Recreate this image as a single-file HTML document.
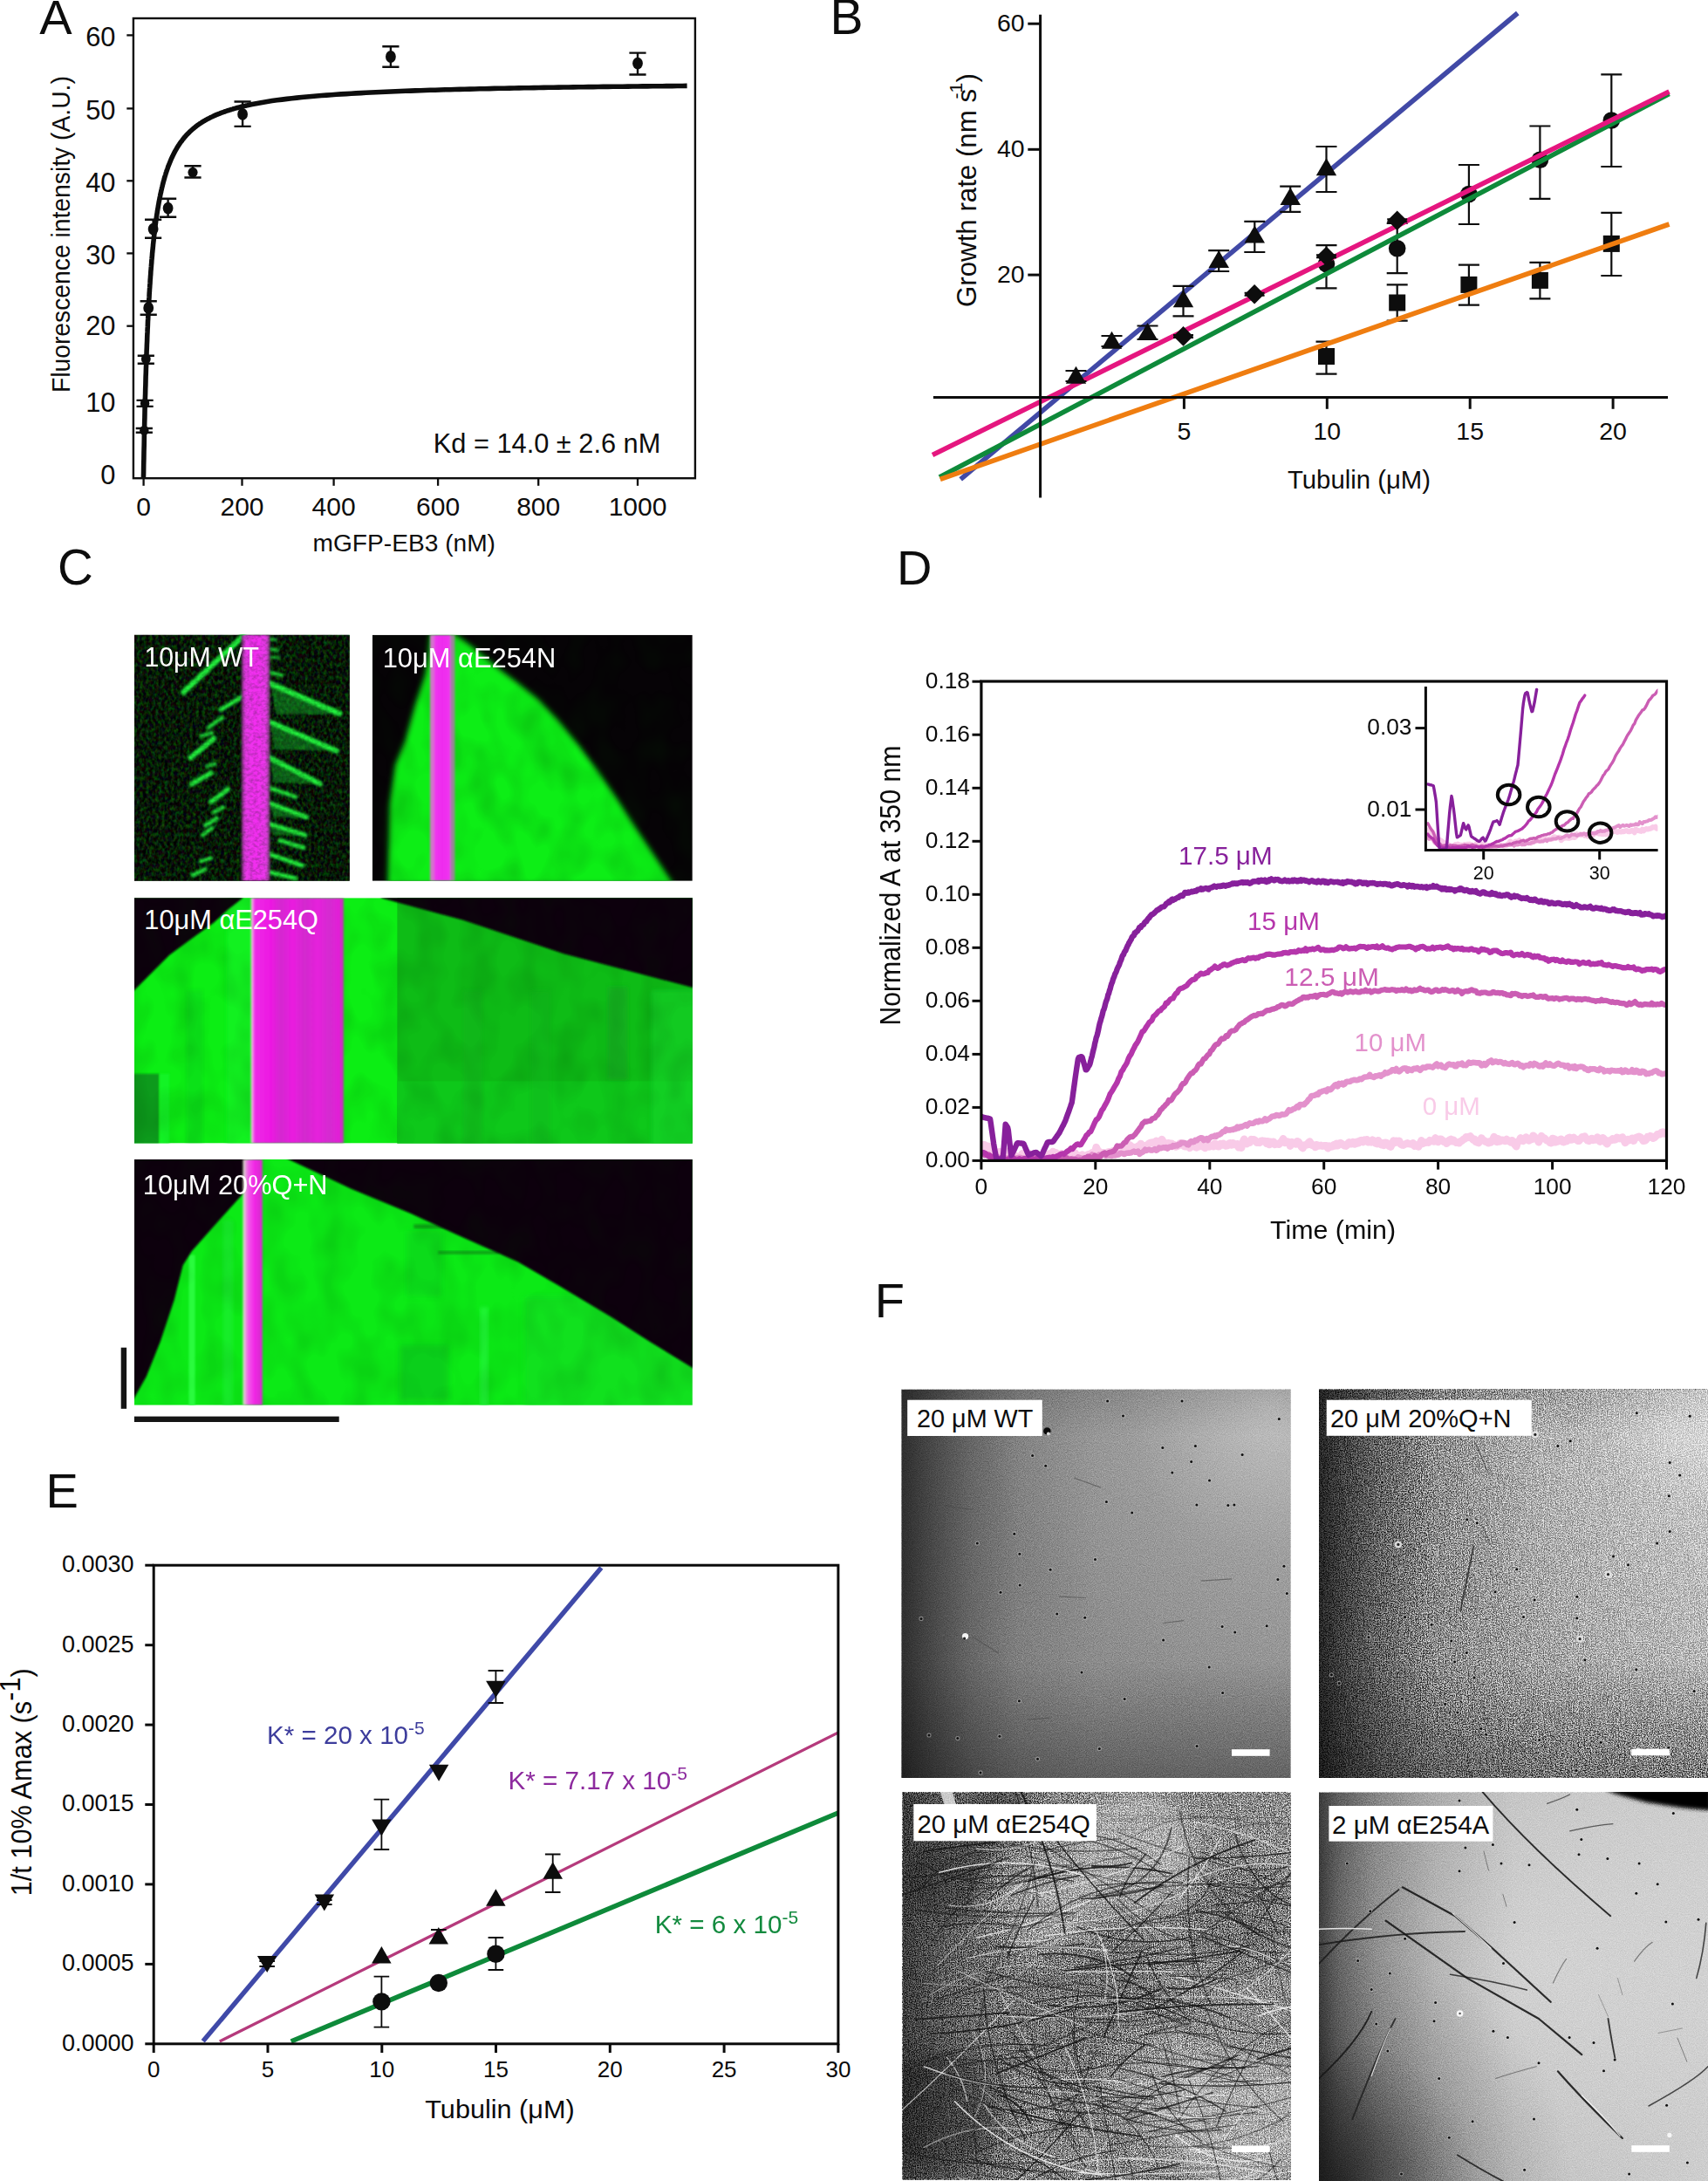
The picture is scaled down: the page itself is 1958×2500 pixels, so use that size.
<!DOCTYPE html><html><head><meta charset="utf-8"><title>Figure</title><style>html,body{margin:0;padding:0;background:#fff}svg{display:block}text{font-family:'Liberation Sans',sans-serif}</style></head><body>
<svg width="1958" height="2500" viewBox="0 0 1958 2500">
<rect width="1958" height="2500" fill="#fff"/>
<g id="pA">
<text x="45.3" y="38.8" font-size="56" fill="#0d0d0d">A</text>
<rect x="152.9" y="21" width="644" height="527.2" fill="none" stroke="#0d0d0d" stroke-width="2.4"/>
<line x1="145.3" y1="40.4" x2="152.9" y2="40.4" stroke="#0d0d0d" stroke-width="2.3"/>
<line x1="145.3" y1="124.4" x2="152.9" y2="124.4" stroke="#0d0d0d" stroke-width="2.3"/>
<line x1="145.3" y1="207.3" x2="152.9" y2="207.3" stroke="#0d0d0d" stroke-width="2.3"/>
<line x1="145.3" y1="290.4" x2="152.9" y2="290.4" stroke="#0d0d0d" stroke-width="2.3"/>
<line x1="145.3" y1="373.7" x2="152.9" y2="373.7" stroke="#0d0d0d" stroke-width="2.3"/>
<text x="132.5" y="52.7" font-size="30.8" fill="#0d0d0d" text-anchor="end">60</text>
<text x="132.5" y="136.5" font-size="30.8" fill="#0d0d0d" text-anchor="end">50</text>
<text x="132.5" y="219.5" font-size="30.8" fill="#0d0d0d" text-anchor="end">40</text>
<text x="132.5" y="302.5" font-size="30.8" fill="#0d0d0d" text-anchor="end">30</text>
<text x="132.5" y="384.3" font-size="30.8" fill="#0d0d0d" text-anchor="end">20</text>
<text x="132.5" y="472.0" font-size="30.8" fill="#0d0d0d" text-anchor="end">10</text>
<text x="132.5" y="555.2" font-size="30.8" fill="#0d0d0d" text-anchor="end">0</text>
<line x1="164.6" y1="548.0" x2="164.6" y2="556.8" stroke="#0d0d0d" stroke-width="2.3"/>
<text x="164.6" y="590.8" font-size="30" fill="#0d0d0d" text-anchor="middle">0</text>
<line x1="277.5" y1="548.0" x2="277.5" y2="556.8" stroke="#0d0d0d" stroke-width="2.3"/>
<text x="277.5" y="590.8" font-size="30" fill="#0d0d0d" text-anchor="middle">200</text>
<line x1="382.6" y1="548.0" x2="382.6" y2="556.8" stroke="#0d0d0d" stroke-width="2.3"/>
<text x="382.6" y="590.8" font-size="30" fill="#0d0d0d" text-anchor="middle">400</text>
<line x1="502.1" y1="548.0" x2="502.1" y2="556.8" stroke="#0d0d0d" stroke-width="2.3"/>
<text x="502.1" y="590.8" font-size="30" fill="#0d0d0d" text-anchor="middle">600</text>
<line x1="617.2" y1="548.0" x2="617.2" y2="556.8" stroke="#0d0d0d" stroke-width="2.3"/>
<text x="617.2" y="590.8" font-size="30" fill="#0d0d0d" text-anchor="middle">800</text>
<line x1="731.0" y1="548.0" x2="731.0" y2="556.8" stroke="#0d0d0d" stroke-width="2.3"/>
<text x="731.0" y="590.8" font-size="30" fill="#0d0d0d" text-anchor="middle">1000</text>
<text x="358.5" y="631.5" font-size="28.2" fill="#0d0d0d" textLength="209.5" lengthAdjust="spacingAndGlyphs">mGFP-EB3 (nM)</text>
<text transform="translate(79.8,450.1) rotate(-90)" font-size="30" fill="#0d0d0d" textLength="363.0" lengthAdjust="spacingAndGlyphs">Fluorescence intensity (A.U.)</text>
<text x="496.8" y="518.8" font-size="30.7" fill="#0d0d0d" textLength="260.5" lengthAdjust="spacingAndGlyphs">Kd = 14.0 ± 2.6 nM</text>
<path d="M164.4 548.8L164.6 540.6L164.7 532.8L164.9 525.2L165.0 517.8L165.2 510.7L165.3 503.9L165.4 497.2L165.6 490.8L165.7 484.6L165.9 478.6L166.0 472.7L166.1 467.0L166.3 461.5L166.4 456.2L166.6 451.0L166.7 445.9L166.9 441.0L167.0 436.2L167.1 431.6L167.3 427.1L167.4 422.7L167.6 418.4L167.7 414.2L167.8 410.1L168.0 406.2L168.1 402.3L168.3 398.5L168.4 394.8L168.6 391.2L168.7 387.7L168.8 384.3L169.0 380.9L169.1 377.6L169.3 374.4L169.4 371.3L169.5 368.2L169.7 365.2L169.8 362.3L170.0 359.4L170.1 356.6L170.3 353.9L170.4 351.2L170.5 348.6L170.7 346.0L170.8 343.4L171.0 340.9L171.1 338.5L171.2 336.1L171.4 333.8L171.5 331.5L171.7 329.2L171.8 327.0L172.0 324.9L172.1 322.7L172.2 320.6L172.4 318.6L172.5 316.6L172.7 314.6L172.8 312.6L172.9 310.7L173.1 308.8L173.2 307.0L173.4 305.2L173.5 303.4L173.7 301.6L173.8 299.9L173.9 298.2L174.1 296.5L174.2 294.9L174.4 293.3L174.5 291.7L174.6 290.1L174.8 288.6L174.9 287.1L175.1 285.6L175.2 284.1L175.4 282.6L175.5 281.2L175.6 279.8L175.8 278.4L175.9 277.0L176.1 275.7L176.2 274.4L176.3 273.1L176.5 271.8L176.6 270.5L176.8 269.3L176.9 268.0L177.0 266.8L177.2 265.6L177.3 264.4L177.5 263.3L177.6 262.1L177.8 261.0L177.9 259.8L178.0 258.7L178.2 257.6L178.3 256.6L178.5 255.5L178.6 254.5L178.7 253.4L178.9 252.4L179.0 251.4L179.2 250.4L179.3 249.4L179.5 248.4L179.6 247.5L179.7 246.5L179.9 245.6L180.0 244.7L180.2 243.7L180.3 242.8L180.4 241.9L180.6 241.1L180.7 240.2L180.9 239.3L181.0 238.5L181.2 237.6L181.3 236.8L181.4 236.0L181.6 235.2L181.7 234.4L181.9 233.6L182.0 232.8L182.1 232.0L182.3 231.2L182.4 230.5L182.6 229.7L182.7 229.0L182.9 228.2L183.0 227.5L183.1 226.8L183.3 226.1L183.4 225.4L183.6 224.7L183.7 224.0L183.8 223.3L184.0 222.6L184.1 221.9L184.3 221.3L184.4 220.6L184.6 220.0L184.7 219.3L184.8 218.7L185.0 218.1L185.1 217.4L185.3 216.8L185.4 216.2L185.5 215.6L185.7 215.0L185.8 214.4L186.0 213.8L186.1 213.2L186.3 212.7L186.4 212.1L186.5 211.5L186.7 211.0L186.8 210.4L187.0 209.9L187.1 209.3L187.2 208.8L187.4 208.2L187.5 207.7L187.7 207.2L187.8 206.7L188.0 206.2L188.1 205.6L188.2 205.1L188.4 204.6L188.5 204.1L188.7 203.6L188.8 203.2L188.9 202.7L189.1 202.2L189.2 201.7L189.4 201.2L189.5 200.8L189.7 200.3L189.8 199.9L189.9 199.4L190.1 199.0L190.2 198.5L190.4 198.1L190.5 197.6L190.6 197.2L190.8 196.7L190.9 196.3L191.1 195.9L191.2 195.5L191.4 195.1L191.5 194.6L191.6 194.2L191.8 193.8L191.9 193.4L192.1 193.0L192.2 192.6L192.3 192.2L192.5 191.8L192.6 191.4L192.9 190.6L194.1 187.7L195.2 184.9L196.3 182.2L197.5 179.8L198.6 177.4L199.7 175.2L200.8 173.1L202.0 171.1L203.1 169.2L204.2 167.3L205.4 165.6L206.5 163.9L207.6 162.4L208.8 160.9L209.9 159.4L211.0 158.0L212.2 156.7L213.3 155.4L214.4 154.2L215.6 153.0L216.7 151.9L217.8 150.8L219.0 149.7L220.1 148.7L221.2 147.7L222.4 146.8L223.5 145.9L224.6 145.0L225.8 144.1L226.9 143.3L228.0 142.5L229.2 141.7L230.3 141.0L231.4 140.2L232.6 139.5L233.7 138.8L234.8 138.2L236.0 137.5L237.1 136.9L238.2 136.3L239.4 135.7L240.5 135.1L241.6 134.5L242.8 134.0L243.9 133.5L245.0 132.9L246.2 132.4L247.3 131.9L248.4 131.4L249.6 131.0L250.7 130.5L251.8 130.1L253.0 129.6L254.1 129.2L255.2 128.8L256.4 128.4L257.5 128.0L258.6 127.6L259.8 127.2L260.9 126.8L262.0 126.5L263.2 126.1L264.3 125.8L265.4 125.4L266.6 125.1L267.7 124.7L268.8 124.4L270.0 124.1L271.1 123.8L272.2 123.5L273.3 123.2L274.5 122.9L275.6 122.6L276.7 122.3L277.9 122.1L279.0 121.8L280.1 121.5L281.3 121.3L282.4 121.0L283.5 120.8L289.2 119.6L294.9 118.5L300.5 117.4L306.2 116.5L311.9 115.6L317.5 114.8L323.2 114.1L328.9 113.4L334.5 112.7L340.2 112.1L345.8 111.5L351.5 111.0L357.2 110.5L362.8 110.0L368.5 109.5L374.2 109.1L379.8 108.7L385.5 108.3L391.2 107.9L396.8 107.6L402.5 107.2L408.2 106.9L413.8 106.6L419.5 106.3L425.1 106.0L430.8 105.7L436.5 105.5L442.1 105.2L447.8 105.0L453.5 104.7L459.1 104.5L464.8 104.3L470.5 104.1L476.1 103.9L481.8 103.7L487.4 103.5L493.1 103.3L498.8 103.2L504.4 103.0L510.1 102.8L515.8 102.7L521.4 102.5L527.1 102.4L532.8 102.2L538.4 102.1L544.1 102.0L549.8 101.8L555.4 101.7L561.1 101.6L566.7 101.4L572.4 101.3L578.1 101.2L583.7 101.1L589.4 101.0L595.1 100.9L600.7 100.8L606.4 100.7L612.1 100.6L617.7 100.5L623.4 100.4L629.0 100.3L634.7 100.2L640.4 100.1L646.0 100.0L651.7 100.0L657.4 99.9L663.0 99.8L668.7 99.7L674.4 99.6L680.0 99.6L685.7 99.5L691.4 99.4L697.0 99.4L702.7 99.3L708.3 99.2L714.0 99.2L719.7 99.1L725.3 99.0L731.0 99.0L736.7 98.9L742.3 98.9L748.0 98.8L753.7 98.7L759.3 98.7L765.0 98.6L770.6 98.6L776.3 98.5L782.0 98.5L787.6 98.4" stroke="#0d0d0d" stroke-width="5.6" fill="none" stroke-linejoin="round" stroke-linecap="butt"/>
<path d="M165.3 491.0V495.7M155.7 491.0H174.9M155.7 495.7H174.9" stroke="#0d0d0d" stroke-width="2.4" fill="none"/>
<ellipse cx="165.3" cy="493.4" rx="5.2" ry="5.6" fill="#0d0d0d"/>
<path d="M166.1 458.9V465.9M156.5 458.9H175.7M156.5 465.9H175.7" stroke="#0d0d0d" stroke-width="2.4" fill="none"/>
<ellipse cx="166.1" cy="462.4" rx="5.2" ry="5.6" fill="#0d0d0d"/>
<path d="M167.3 407.7V416.7M157.7 407.7H176.9M157.7 416.7H176.9" stroke="#0d0d0d" stroke-width="2.4" fill="none"/>
<ellipse cx="167.3" cy="411.4" rx="5.4" ry="5.8" fill="#0d0d0d"/>
<path d="M170.2 345.3V360.8M160.6 345.3H179.8M160.6 360.8H179.8" stroke="#0d0d0d" stroke-width="2.4" fill="none"/>
<ellipse cx="170.2" cy="352.9" rx="5.9" ry="6.9" fill="#0d0d0d"/>
<path d="M175.6 251.8V272.8M166.0 251.8H185.2M166.0 272.8H185.2" stroke="#0d0d0d" stroke-width="2.4" fill="none"/>
<ellipse cx="175.6" cy="262.6" rx="5.9" ry="6.9" fill="#0d0d0d"/>
<path d="M192.6 227.8V248.8M183.0 227.8H202.2M183.0 248.8H202.2" stroke="#0d0d0d" stroke-width="2.4" fill="none"/>
<ellipse cx="192.6" cy="238.6" rx="5.9" ry="6.9" fill="#0d0d0d"/>
<path d="M221.0 190.3V203.5M211.4 190.3H230.6M211.4 203.5H230.6" stroke="#0d0d0d" stroke-width="2.4" fill="none"/>
<ellipse cx="221.0" cy="197.6" rx="5.6" ry="5.9" fill="#0d0d0d"/>
<path d="M278.1 116.5V144.9M268.5 116.5H287.7M268.5 144.9H287.7" stroke="#0d0d0d" stroke-width="2.4" fill="none"/>
<ellipse cx="278.1" cy="130.9" rx="5.9" ry="6.9" fill="#0d0d0d"/>
<path d="M447.9 53.3V76.7M438.3 53.3H457.5M438.3 76.7H457.5" stroke="#0d0d0d" stroke-width="2.4" fill="none"/>
<ellipse cx="447.9" cy="65.0" rx="5.9" ry="6.9" fill="#0d0d0d"/>
<path d="M731.0 60.6V85.5M721.4 60.6H740.6M721.4 85.5H740.6" stroke="#0d0d0d" stroke-width="2.4" fill="none"/>
<ellipse cx="731.0" cy="72.6" rx="5.9" ry="6.9" fill="#0d0d0d"/>
</g>
<g id="pB">
<text x="951.5" y="38.6" font-size="57" fill="#0d0d0d">B</text>
<line x1="1101.2" y1="549.3" x2="1739.8" y2="15.0" stroke="#4149a6" stroke-width="5.6"/>
<path d="M1520.5 281.2V330.3M1508.5 281.2H1532.5M1508.5 330.3H1532.5" stroke="#0d0d0d" stroke-width="2.2" fill="none"/>
<circle cx="1520.5" cy="302.6" r="9.8" fill="#0d0d0d"/>
<path d="M1601.7 256.0V313.2M1589.7 256.0H1613.7M1589.7 313.2H1613.7" stroke="#0d0d0d" stroke-width="2.2" fill="none"/>
<circle cx="1601.7" cy="284.8" r="9.8" fill="#0d0d0d"/>
<path d="M1683.9 189.0V257.0M1671.9 189.0H1695.9M1671.9 257.0H1695.9" stroke="#0d0d0d" stroke-width="2.2" fill="none"/>
<circle cx="1683.9" cy="222.5" r="9.8" fill="#0d0d0d"/>
<path d="M1765.4 144.5V227.8M1753.4 144.5H1777.4M1753.4 227.8H1777.4" stroke="#0d0d0d" stroke-width="2.2" fill="none"/>
<circle cx="1765.4" cy="183.3" r="9.8" fill="#0d0d0d"/>
<path d="M1847.3 85.4V191.0M1835.3 85.4H1859.3M1835.3 191.0H1859.3" stroke="#0d0d0d" stroke-width="2.2" fill="none"/>
<circle cx="1847.3" cy="138.0" r="9.8" fill="#0d0d0d"/>
<line x1="1077.0" y1="547.0" x2="1913.5" y2="107.5" stroke="#0e8a3a" stroke-width="5.6"/>
<path d="M1520.5 391.6V428.7M1508.5 391.6H1532.5M1508.5 428.7H1532.5" stroke="#0d0d0d" stroke-width="2.2" fill="none"/>
<rect x="1511.0" y="399.0" width="19" height="19" fill="#0d0d0d"/>
<path d="M1601.7 326.4V367.7M1589.7 326.4H1613.7M1589.7 367.7H1613.7" stroke="#0d0d0d" stroke-width="2.2" fill="none"/>
<rect x="1592.2" y="337.5" width="19" height="19" fill="#0d0d0d"/>
<path d="M1683.9 303.6V349.6M1671.9 303.6H1695.9M1671.9 349.6H1695.9" stroke="#0d0d0d" stroke-width="2.2" fill="none"/>
<rect x="1674.4" y="316.9" width="19" height="19" fill="#0d0d0d"/>
<path d="M1765.4 300.8V342.4M1753.4 300.8H1777.4M1753.4 342.4H1777.4" stroke="#0d0d0d" stroke-width="2.2" fill="none"/>
<rect x="1755.9" y="311.9" width="19" height="19" fill="#0d0d0d"/>
<path d="M1847.3 243.8V316.0M1835.3 243.8H1859.3M1835.3 316.0H1859.3" stroke="#0d0d0d" stroke-width="2.2" fill="none"/>
<rect x="1837.8" y="269.9" width="19" height="19" fill="#0d0d0d"/>
<line x1="1077.8" y1="549.3" x2="1913.5" y2="257.0" stroke="#ef7d10" stroke-width="5.6"/>
<line x1="1069.0" y1="521.5" x2="1913.5" y2="105.0" stroke="#e5167f" stroke-width="5.6"/>
<line x1="1192.6" y1="16.7" x2="1192.6" y2="570.4" stroke="#0d0d0d" stroke-width="3"/>
<line x1="1069.9" y1="455.6" x2="1912.0" y2="455.6" stroke="#0d0d0d" stroke-width="3"/>
<line x1="1178.3" y1="27.2" x2="1192.6" y2="27.2" stroke="#0d0d0d" stroke-width="3"/>
<text x="1174.5" y="35.8" font-size="28.4" fill="#0d0d0d" text-anchor="end">60</text>
<line x1="1178.3" y1="171.3" x2="1192.6" y2="171.3" stroke="#0d0d0d" stroke-width="3"/>
<text x="1174.5" y="179.9" font-size="28.4" fill="#0d0d0d" text-anchor="end">40</text>
<line x1="1178.3" y1="315.1" x2="1192.6" y2="315.1" stroke="#0d0d0d" stroke-width="3"/>
<text x="1174.5" y="323.7" font-size="28.4" fill="#0d0d0d" text-anchor="end">20</text>
<line x1="1357.4" y1="455.6" x2="1357.4" y2="468.8" stroke="#0d0d0d" stroke-width="3"/>
<text x="1357.4" y="504.0" font-size="28.5" fill="#0d0d0d" text-anchor="middle">5</text>
<line x1="1521.3" y1="455.6" x2="1521.3" y2="468.8" stroke="#0d0d0d" stroke-width="3"/>
<text x="1521.3" y="504.0" font-size="28.5" fill="#0d0d0d" text-anchor="middle">10</text>
<line x1="1685.2" y1="455.6" x2="1685.2" y2="468.8" stroke="#0d0d0d" stroke-width="3"/>
<text x="1685.2" y="504.0" font-size="28.5" fill="#0d0d0d" text-anchor="middle">15</text>
<line x1="1849.1" y1="455.6" x2="1849.1" y2="468.8" stroke="#0d0d0d" stroke-width="3"/>
<text x="1849.1" y="504.0" font-size="28.5" fill="#0d0d0d" text-anchor="middle">20</text>
<text x="1476.0" y="559.6" font-size="29.3" fill="#0d0d0d">Tubulin (μM)</text>
<text transform="translate(1119.1,352.0) rotate(-90)" font-size="31.3" fill="#0d0d0d" textLength="250.0" lengthAdjust="spacingAndGlyphs">Growth rate (nm s</text>
<text transform="translate(1119.1,94.6) rotate(-90)" font-size="31.3" fill="#0d0d0d">)</text>
<text transform="translate(1102.7,113.6) rotate(-90)" font-size="21" fill="#0d0d0d">-1</text>
<path d="M1233.5 425.0V437.0M1221.5 425.0H1245.5M1221.5 437.0H1245.5" stroke="#0d0d0d" stroke-width="2.2" fill="none"/>
<path d="M1233.5 419.8L1245.2 439.8H1221.8Z" fill="#0d0d0d"/>
<path d="M1274.5 385.0V397.0M1262.5 385.0H1286.5M1262.5 397.0H1286.5" stroke="#0d0d0d" stroke-width="2.2" fill="none"/>
<path d="M1274.5 379.7L1286.2 399.7H1262.8Z" fill="#0d0d0d"/>
<path d="M1315.5 373.5V389.0M1303.5 373.5H1327.5M1303.5 389.0H1327.5" stroke="#0d0d0d" stroke-width="2.2" fill="none"/>
<path d="M1315.5 370.0L1327.2 390.0H1303.8Z" fill="#0d0d0d"/>
<path d="M1356.5 327.9V362.3M1344.5 327.9H1368.5M1344.5 362.3H1368.5" stroke="#0d0d0d" stroke-width="2.2" fill="none"/>
<path d="M1356.5 332.3L1368.2 352.3H1344.8Z" fill="#0d0d0d"/>
<path d="M1397.2 287.2V311.0M1385.2 287.2H1409.2M1385.2 311.0H1409.2" stroke="#0d0d0d" stroke-width="2.2" fill="none"/>
<path d="M1397.2 287.0L1409.0 307.0H1385.5Z" fill="#0d0d0d"/>
<path d="M1438.3 253.8V289.0M1426.3 253.8H1450.3M1426.3 289.0H1450.3" stroke="#0d0d0d" stroke-width="2.2" fill="none"/>
<path d="M1438.3 258.5L1450.0 278.5H1426.5Z" fill="#0d0d0d"/>
<path d="M1479.2 213.6V242.8M1467.2 213.6H1491.2M1467.2 242.8H1491.2" stroke="#0d0d0d" stroke-width="2.2" fill="none"/>
<path d="M1479.2 215.0L1491.0 235.0H1467.5Z" fill="#0d0d0d"/>
<path d="M1520.5 168.0V220.0M1508.5 168.0H1532.5M1508.5 220.0H1532.5" stroke="#0d0d0d" stroke-width="2.2" fill="none"/>
<path d="M1520.5 181.2L1532.2 201.2H1508.8Z" fill="#0d0d0d"/>
<path d="M1356.5 383.9V386.9M1345.0 383.9H1368.0M1345.0 386.9H1368.0" stroke="#0d0d0d" stroke-width="2" fill="none"/>
<path d="M1356.5 374.1L1367.8 385.4L1356.5 396.7L1345.2 385.4Z" fill="#0d0d0d"/>
<path d="M1438.1 335.7V338.7M1426.6 335.7H1449.6M1426.6 338.7H1449.6" stroke="#0d0d0d" stroke-width="2" fill="none"/>
<path d="M1438.1 325.9L1449.4 337.2L1438.1 348.5L1426.8 337.2Z" fill="#0d0d0d"/>
<path d="M1520.5 292.2V295.2M1509.0 292.2H1532.0M1509.0 295.2H1532.0" stroke="#0d0d0d" stroke-width="2" fill="none"/>
<path d="M1520.5 282.4L1531.8 293.7L1520.5 305.0L1509.2 293.7Z" fill="#0d0d0d"/>
<path d="M1601.7 251.2V254.2M1590.2 251.2H1613.2M1590.2 254.2H1613.2" stroke="#0d0d0d" stroke-width="2" fill="none"/>
<path d="M1601.7 241.4L1613.0 252.7L1601.7 264.0L1590.4 252.7Z" fill="#0d0d0d"/>
</g>
<g id="pC">
<defs>
<filter id="k1bg" x="0" y="0" width="100%" height="100%" color-interpolation-filters="sRGB"><feTurbulence type="fractalNoise" baseFrequency="0.28 0.2" numOctaves="2" seed="7"/><feColorMatrix type="matrix" values="0.25 0 0 0 -0.09  0 0.75 0 0 -0.27  0 0 0.25 0 -0.09  0 0 0 0 1"/></filter>
<filter id="kspk" x="0" y="0" width="100%" height="100%" color-interpolation-filters="sRGB"><feTurbulence type="fractalNoise" baseFrequency="0.22 0.3" numOctaves="2" seed="11"/><feColorMatrix type="matrix" values="0 0 0 0 0  0 0 0 0 0.15  0 0 0 0 0  0 1.6 0 0 -0.62"/></filter>
<filter id="kmot" x="0" y="0" width="100%" height="100%" color-interpolation-filters="sRGB"><feTurbulence type="fractalNoise" baseFrequency="0.03 0.02" numOctaves="2" seed="5"/><feColorMatrix type="matrix" values="0 0 0 0 0  0 0 0 0 0.2  0 0 0 0 0  0 1.8 0 0 -0.72"/></filter>
<filter id="b1"><feGaussianBlur stdDeviation="1.1"/></filter>
<filter id="b2"><feGaussianBlur stdDeviation="2"/></filter>
<filter id="b3"><feGaussianBlur stdDeviation="3"/></filter>
<clipPath id="ck1"><rect x="154" y="727.8" width="246.8" height="282"/></clipPath>
<clipPath id="ck2"><rect x="426.9" y="727.8" width="366.9" height="282"/></clipPath>
<clipPath id="ck3"><rect x="154" y="1029.2" width="639.8" height="281.4"/></clipPath>
<clipPath id="ck4"><rect x="154" y="1329" width="639.8" height="281.7"/></clipPath>
<linearGradient id="mg1" x1="0" x2="1" y1="0" y2="0"><stop offset="0" stop-color="#5a2a5a"/><stop offset="0.14" stop-color="#e83ae8"/><stop offset="0.5" stop-color="#f22cf0"/><stop offset="0.86" stop-color="#e83ae8"/><stop offset="1" stop-color="#6a3a6a"/></linearGradient>
<linearGradient id="mg2" x1="0" x2="1" y1="0" y2="0"><stop offset="0" stop-color="#d078c8"/><stop offset="0.15" stop-color="#d470cc"/><stop offset="0.2" stop-color="#f032f0"/><stop offset="0.5" stop-color="#ee2cee"/><stop offset="0.8" stop-color="#f032f0"/><stop offset="0.84" stop-color="#9c849a"/><stop offset="1" stop-color="#988498"/></linearGradient>
<linearGradient id="mg3" x1="0" x2="1" y1="0" y2="0"><stop offset="0" stop-color="#f0e0dc"/><stop offset="0.04" stop-color="#ee2ae6"/><stop offset="0.22" stop-color="#ec18e2"/><stop offset="0.32" stop-color="#d428d0"/><stop offset="0.45" stop-color="#ea1ce0"/><stop offset="0.58" stop-color="#d22ace"/><stop offset="0.72" stop-color="#e620dc"/><stop offset="0.85" stop-color="#d42cd0"/><stop offset="0.95" stop-color="#e41ed8"/><stop offset="1" stop-color="#b040a8"/></linearGradient>
<linearGradient id="mg4" x1="0" x2="1" y1="0" y2="0"><stop offset="0" stop-color="#d8e8c8"/><stop offset="0.25" stop-color="#f060e8"/><stop offset="0.6" stop-color="#f226e6"/><stop offset="1" stop-color="#d030c8"/></linearGradient>
</defs>
<text x="66.0" y="670.4" font-size="56.5" fill="#0d0d0d">C</text>
<g clip-path="url(#ck1)">
<rect x="154" y="727.8" width="246.8" height="282" fill="#071307"/>
<rect x="154" y="727.8" width="246.8" height="282" filter="url(#k1bg)" opacity="0.9"/>
<g filter="url(#b1)">
<path d="M310.0 783.2L389.0 818.8L316.3 818.8 Z" fill="#16a028" opacity="0.55"/>
<path d="M310.0 829.1L381.1 860.7L314.7 859.1 Z" fill="#16a028" opacity="0.55"/>
<path d="M310.0 870.2L362.1 898.6L313.1 897.0 Z" fill="#16a028" opacity="0.55"/>
<path d="M310.0 922.3L347.9 937.4L313.1 936.6 Z" fill="#16a028" opacity="0.55"/>
<path d="M310.0 946.1L346.3 957.9L313.1 957.1 Z" fill="#16a028" opacity="0.55"/>
<line x1="210.4" y1="793.5" x2="278.4" y2="729.5" stroke="#18a82c" stroke-width="8.6" stroke-linecap="round" opacity="0.45"/>
<line x1="210.4" y1="793.5" x2="278.4" y2="729.5" stroke="#22f03e" stroke-width="5.2" stroke-linecap="round" opacity="1"/>
<line x1="253.1" y1="813.3" x2="278.4" y2="798.2" stroke="#18a82c" stroke-width="7.6" stroke-linecap="round" opacity="0.43"/>
<line x1="253.1" y1="813.3" x2="278.4" y2="798.2" stroke="#22f03e" stroke-width="4.2" stroke-linecap="round" opacity="0.95"/>
<line x1="238.8" y1="833.8" x2="254.7" y2="822.8" stroke="#18a82c" stroke-width="7.0" stroke-linecap="round" opacity="0.36"/>
<line x1="238.8" y1="833.8" x2="254.7" y2="822.8" stroke="#22f03e" stroke-width="3.6" stroke-linecap="round" opacity="0.8"/>
<line x1="218.3" y1="868.6" x2="245.2" y2="846.5" stroke="#18a82c" stroke-width="8.4" stroke-linecap="round" opacity="0.45"/>
<line x1="218.3" y1="868.6" x2="245.2" y2="846.5" stroke="#22f03e" stroke-width="5" stroke-linecap="round" opacity="1"/>
<line x1="230.9" y1="843.6" x2="242.8" y2="840.1" stroke="#18a82c" stroke-width="6.8" stroke-linecap="round" opacity="0.36"/>
<line x1="230.9" y1="843.6" x2="242.8" y2="840.1" stroke="#22f03e" stroke-width="3.4" stroke-linecap="round" opacity="0.8"/>
<line x1="219.9" y1="898.6" x2="242.0" y2="886.0" stroke="#18a82c" stroke-width="8.2" stroke-linecap="round" opacity="0.43"/>
<line x1="219.9" y1="898.6" x2="242.0" y2="886.0" stroke="#22f03e" stroke-width="4.8" stroke-linecap="round" opacity="0.95"/>
<line x1="237.3" y1="878.1" x2="246.0" y2="875.7" stroke="#18a82c" stroke-width="6.6" stroke-linecap="round" opacity="0.36"/>
<line x1="237.3" y1="878.1" x2="246.0" y2="875.7" stroke="#22f03e" stroke-width="3.2" stroke-linecap="round" opacity="0.8"/>
<line x1="242.0" y1="919.2" x2="261.0" y2="905.0" stroke="#18a82c" stroke-width="8.0" stroke-linecap="round" opacity="0.43"/>
<line x1="242.0" y1="919.2" x2="261.0" y2="905.0" stroke="#22f03e" stroke-width="4.6" stroke-linecap="round" opacity="0.95"/>
<line x1="245.2" y1="931.0" x2="255.4" y2="925.5" stroke="#18a82c" stroke-width="7.0" stroke-linecap="round" opacity="0.38"/>
<line x1="245.2" y1="931.0" x2="255.4" y2="925.5" stroke="#22f03e" stroke-width="3.6" stroke-linecap="round" opacity="0.85"/>
<line x1="235.7" y1="946.1" x2="248.3" y2="938.1" stroke="#18a82c" stroke-width="7.4" stroke-linecap="round" opacity="0.41"/>
<line x1="235.7" y1="946.1" x2="248.3" y2="938.1" stroke="#22f03e" stroke-width="4" stroke-linecap="round" opacity="0.9"/>
<line x1="232.5" y1="957.1" x2="242.8" y2="949.2" stroke="#18a82c" stroke-width="7.0" stroke-linecap="round" opacity="0.38"/>
<line x1="232.5" y1="957.1" x2="242.8" y2="949.2" stroke="#22f03e" stroke-width="3.6" stroke-linecap="round" opacity="0.85"/>
<line x1="230.2" y1="987.2" x2="242.0" y2="983.7" stroke="#18a82c" stroke-width="6.8" stroke-linecap="round" opacity="0.38"/>
<line x1="230.2" y1="987.2" x2="242.0" y2="983.7" stroke="#22f03e" stroke-width="3.4" stroke-linecap="round" opacity="0.85"/>
<line x1="221.5" y1="1003.0" x2="234.9" y2="996.6" stroke="#18a82c" stroke-width="7.2" stroke-linecap="round" opacity="0.41"/>
<line x1="221.5" y1="1003.0" x2="234.9" y2="996.6" stroke="#22f03e" stroke-width="3.8" stroke-linecap="round" opacity="0.9"/>
<line x1="309.2" y1="783.2" x2="389.0" y2="818.0" stroke="#18a82c" stroke-width="8.6" stroke-linecap="round" opacity="0.45"/>
<line x1="309.2" y1="783.2" x2="389.0" y2="818.0" stroke="#22f03e" stroke-width="5.2" stroke-linecap="round" opacity="1"/>
<line x1="309.2" y1="827.5" x2="385.9" y2="860.7" stroke="#18a82c" stroke-width="8.4" stroke-linecap="round" opacity="0.45"/>
<line x1="309.2" y1="827.5" x2="385.9" y2="860.7" stroke="#22f03e" stroke-width="5" stroke-linecap="round" opacity="1"/>
<line x1="309.2" y1="868.6" x2="366.9" y2="898.6" stroke="#18a82c" stroke-width="8.4" stroke-linecap="round" opacity="0.45"/>
<line x1="309.2" y1="868.6" x2="366.9" y2="898.6" stroke="#22f03e" stroke-width="5" stroke-linecap="round" opacity="1"/>
<line x1="309.2" y1="903.4" x2="338.4" y2="913.2" stroke="#18a82c" stroke-width="7.4" stroke-linecap="round" opacity="0.41"/>
<line x1="309.2" y1="903.4" x2="338.4" y2="913.2" stroke="#22f03e" stroke-width="4" stroke-linecap="round" opacity="0.9"/>
<line x1="309.2" y1="920.8" x2="351.1" y2="936.6" stroke="#18a82c" stroke-width="8.0" stroke-linecap="round" opacity="0.43"/>
<line x1="309.2" y1="920.8" x2="351.1" y2="936.6" stroke="#22f03e" stroke-width="4.6" stroke-linecap="round" opacity="0.95"/>
<line x1="309.2" y1="944.5" x2="349.5" y2="957.1" stroke="#18a82c" stroke-width="7.8" stroke-linecap="round" opacity="0.43"/>
<line x1="309.2" y1="944.5" x2="349.5" y2="957.1" stroke="#22f03e" stroke-width="4.4" stroke-linecap="round" opacity="0.95"/>
<line x1="321.0" y1="963.4" x2="347.9" y2="971.7" stroke="#18a82c" stroke-width="7.6" stroke-linecap="round" opacity="0.41"/>
<line x1="321.0" y1="963.4" x2="347.9" y2="971.7" stroke="#22f03e" stroke-width="4.2" stroke-linecap="round" opacity="0.9"/>
<line x1="309.2" y1="979.2" x2="346.3" y2="992.2" stroke="#18a82c" stroke-width="7.6" stroke-linecap="round" opacity="0.43"/>
<line x1="309.2" y1="979.2" x2="346.3" y2="992.2" stroke="#22f03e" stroke-width="4.2" stroke-linecap="round" opacity="0.95"/>
<line x1="309.2" y1="999.8" x2="338.4" y2="1006.9" stroke="#18a82c" stroke-width="7.6" stroke-linecap="round" opacity="0.43"/>
<line x1="309.2" y1="999.8" x2="338.4" y2="1006.9" stroke="#22f03e" stroke-width="4.2" stroke-linecap="round" opacity="0.95"/>
<line x1="309.2" y1="743.7" x2="317.9" y2="745.3" stroke="#18a82c" stroke-width="6.4" stroke-linecap="round" opacity="0.32"/>
<line x1="309.2" y1="743.7" x2="317.9" y2="745.3" stroke="#22f03e" stroke-width="3" stroke-linecap="round" opacity="0.7"/>
<line x1="309.2" y1="753.2" x2="319.5" y2="754.0" stroke="#18a82c" stroke-width="6.0" stroke-linecap="round" opacity="0.27"/>
<line x1="309.2" y1="753.2" x2="319.5" y2="754.0" stroke="#22f03e" stroke-width="2.6" stroke-linecap="round" opacity="0.6"/>
<line x1="309.2" y1="770.6" x2="322.6" y2="774.1" stroke="#18a82c" stroke-width="6.8" stroke-linecap="round" opacity="0.36"/>
<line x1="309.2" y1="770.6" x2="322.6" y2="774.1" stroke="#22f03e" stroke-width="3.4" stroke-linecap="round" opacity="0.8"/>
<line x1="309.2" y1="732.6" x2="316.3" y2="733.4" stroke="#18a82c" stroke-width="6.0" stroke-linecap="round" opacity="0.27"/>
<line x1="309.2" y1="732.6" x2="316.3" y2="733.4" stroke="#22f03e" stroke-width="2.6" stroke-linecap="round" opacity="0.6"/>
</g>
<rect x="276.6" y="727.8" width="33" height="282" fill="url(#mg1)" filter="url(#b1)"/>
<rect x="154" y="727.8" width="246.8" height="282" filter="url(#kspk)" opacity="0.35"/>
</g>
<text x="165.4" y="764.0" font-size="31" fill="#fff" textLength="131.7" lengthAdjust="spacingAndGlyphs">10μM WT</text>
<g clip-path="url(#ck2)">
<rect x="426.9" y="727.8" width="366.9" height="282" fill="#060306"/>
<path d="M493.5 726.1L491.2 751.3L487.3 774.1L475.9 808.3L464.5 849.4L453.1 876.8L446.7 922.5L444.4 1013.8L772.1 1013.8L753.8 986.4L731.0 952.2L708.1 916.8L685.3 883.7L662.5 852.9L639.6 825.5L616.8 801.5L594.0 783.2L571.1 766.1L539.2 739.8L519.8 726.1 Z" fill="#0cee12" filter="url(#b3)"/>
<rect x="426.9" y="727.8" width="366.9" height="282" filter="url(#kmot)" opacity="0.22"/>
<rect x="493" y="727.8" width="28.4" height="282" fill="url(#mg2)" filter="url(#b1)"/>
</g>
<text x="438.7" y="765.0" font-size="31" fill="#fff" textLength="198.6" lengthAdjust="spacingAndGlyphs">10μM αE254N</text>
<g clip-path="url(#ck3)">
<rect x="154" y="1029.2" width="639.8" height="281.4" fill="#0cee14"/>
<rect x="455.4" y="1019.0" width="345.5" height="309.1" fill="#0ebc16" opacity="1"/>
<rect x="455.4" y="1239.3" width="345.5" height="88.9" fill="#0ec81a" opacity="1"/>
<rect x="696.6" y="1131.1" width="23.2" height="106.3" fill="#12a822" opacity="0.7" filter="url(#b2)"/>
<rect x="530.4" y="1134.9" width="23.2" height="193.2" fill="#12b024" opacity="0.35" filter="url(#b2)"/>
<rect x="607.7" y="1134.9" width="23.2" height="193.2" fill="#12b024" opacity="0.3" filter="url(#b2)"/>
<rect x="746.8" y="1134.9" width="54.1" height="193.2" fill="#16d42a" opacity="0.6" filter="url(#b2)"/>
<rect x="144.0" y="1230.8" width="38.6" height="97.4" fill="#109a1c" opacity="1" filter="url(#b1)"/>
<rect x="182.6" y="1230.8" width="11.6" height="97.4" fill="#18f42a" opacity="0.8" filter="url(#b1)"/>
<rect x="259.9" y="1019.0" width="30.1" height="309.1" fill="#18f228" opacity="0.7" filter="url(#b2)"/>
<rect x="213.6" y="1134.9" width="19.3" height="193.2" fill="#10c820" opacity="0.35" filter="url(#b2)"/>
<path d="M144.0 1019.0L280.0 1019.0L278.1 1029.4L260.7 1043.0L245.2 1057.6L218.2 1077.0L194.2 1094.7L154.0 1134.9L144.0 1143.4 Z" fill="#08040a" filter="url(#b1)"/>
<path d="M429.9 1019.0L437.7 1029.4L530.4 1054.6L646.3 1093.2L793.2 1131.8L808.6 1134.9L808.6 1019.0 Z" fill="#08040a" filter="url(#b1)"/>
<rect x="154" y="1029.2" width="639.8" height="281.4" filter="url(#kmot)" opacity="0.18"/>
<rect x="287.7" y="1029.2" width="106.3" height="281.4" fill="url(#mg3)" filter="url(#b1)"/>
</g>
<text x="165.3" y="1065.4" font-size="31" fill="#fff" textLength="199.7" lengthAdjust="spacingAndGlyphs">10μM αE254Q</text>
<g clip-path="url(#ck4)">
<rect x="154" y="1329" width="639.8" height="281.7" fill="#0cea16"/>
<rect x="216.4" y="1438.4" width="7.2" height="183.1" fill="#30ff48" opacity="0.8" filter="url(#b1)"/>
<rect x="550.0" y="1498.2" width="10.0" height="123.4" fill="#2cf844" opacity="0.6" filter="url(#b2)"/>
<rect x="255.4" y="1398.6" width="11.9" height="222.9" fill="#24f03c" opacity="0.5" filter="url(#b2)"/>
<rect x="458.4" y="1541.9" width="55.7" height="63.7" fill="#10b020" opacity="0.45" filter="url(#b3)"/>
<rect x="466.4" y="1410.6" width="39.8" height="75.6" fill="#10c020" opacity="0.35" filter="url(#b3)"/>
<rect x="601.7" y="1486.2" width="199.1" height="135.4" fill="#14d828" opacity="0.5" filter="url(#b3)"/>
<rect x="474.3" y="1403.4" width="51.8" height="4.8" fill="#0c8018" opacity="0.6" filter="url(#b1)"/>
<rect x="502.2" y="1433.7" width="69.7" height="4.0" fill="#0c8018" opacity="0.6" filter="url(#b1)"/>
<path d="M139.9 1319.0L281.7 1319.0L281.3 1329.0L280.1 1366.8L251.4 1398.6L219.5 1434.5L209.6 1450.4L199.6 1490.2L183.7 1538.0L167.8 1577.8L153.9 1602.5L139.9 1621.6 Z" fill="#08030a" filter="url(#b1)"/>
<path d="M315.1 1319.0L331.0 1329.0L402.7 1362.8L470.4 1390.7L522.1 1414.5L593.8 1446.4L641.6 1474.3L701.3 1510.1L745.1 1538.0L793.6 1567.8L808.8 1577.8L808.8 1319.0 Z" fill="#08030a" filter="url(#b1)"/>
<rect x="154" y="1329" width="639.8" height="281.7" filter="url(#kmot)" opacity="0.16"/>
<rect x="278.5" y="1329" width="22.3" height="281.7" fill="url(#mg4)" filter="url(#b1)"/>
</g>
<text x="163.8" y="1368.8" font-size="31" fill="#fff" textLength="211.8" lengthAdjust="spacingAndGlyphs">10μM 20%Q+N</text>
<rect x="138.7" y="1544.7" width="6.4" height="70.1" fill="#151515"/>
<rect x="153.9" y="1623.6" width="234.8" height="6.4" fill="#151515"/>
</g>
<g id="pD">
<text x="1028.0" y="670.4" font-size="56" fill="#0d0d0d">D</text>
<defs><clipPath id="cD"><rect x="1124.9" y="781" width="785.6" height="549.4"/></clipPath><clipPath id="cDi"><rect x="1634.4" y="787" width="266" height="187.4"/></clipPath></defs>
<g clip-path="url(#cD)" fill="none" stroke-linejoin="round" stroke-linecap="round">
<path d="M1125.5 1312.2L1127.1 1314.7L1128.7 1312.3L1130.3 1314.7L1131.9 1313.9L1133.5 1314.0L1135.1 1318.4L1136.7 1317.9L1138.3 1317.7L1139.9 1319.4L1141.5 1321.4L1143.1 1320.8L1144.7 1322.0L1146.3 1320.2L1147.9 1320.8L1149.5 1321.4L1151.1 1320.4L1152.7 1319.9L1154.3 1319.7L1155.9 1322.2L1157.5 1323.8L1159.1 1324.4L1160.7 1325.5L1162.3 1323.5L1163.9 1324.8L1165.5 1326.0L1167.1 1327.6L1168.7 1325.5L1170.3 1325.3L1171.9 1322.3L1173.5 1323.6L1175.1 1321.2L1176.7 1321.4L1178.3 1326.1L1179.9 1322.5L1181.5 1326.1L1183.1 1327.1L1184.7 1326.4L1186.3 1327.4L1187.9 1328.0L1189.5 1329.2L1191.1 1327.4L1192.7 1325.8L1194.3 1324.9L1195.9 1323.8L1197.5 1324.8L1199.1 1324.0L1200.7 1326.8L1202.3 1322.9L1203.9 1322.3L1205.5 1322.2L1207.1 1320.0L1208.7 1326.1L1210.3 1321.3L1211.9 1322.7L1213.5 1322.9L1215.1 1326.9L1216.7 1322.3L1218.3 1325.5L1219.9 1323.8L1221.5 1324.0L1223.1 1323.1L1224.7 1325.0L1226.3 1322.7L1227.9 1323.5L1229.5 1324.6L1231.1 1327.8L1232.7 1321.7L1234.3 1325.8L1235.9 1326.7L1237.5 1324.6L1239.1 1324.9L1240.7 1323.6L1242.3 1326.8L1243.9 1325.7L1245.5 1324.3L1247.1 1323.5L1248.7 1323.1L1250.3 1322.8L1251.9 1321.4L1253.5 1325.8L1255.1 1320.8L1256.7 1315.1L1258.3 1318.5L1259.9 1320.0L1261.5 1321.6L1263.1 1321.3L1264.7 1321.2L1266.3 1321.9L1267.9 1323.2L1269.5 1321.2L1271.1 1320.2L1272.7 1323.8L1274.3 1322.8L1275.9 1319.4L1277.5 1323.5L1279.1 1322.6L1280.7 1319.4L1282.3 1316.6L1283.9 1317.6L1285.5 1315.9L1287.1 1314.5L1288.7 1313.1L1290.3 1313.7L1291.9 1316.6L1293.5 1315.1L1295.1 1312.4L1296.7 1314.6L1298.3 1314.5L1299.9 1315.7L1301.5 1316.8L1303.1 1314.8L1304.7 1313.7L1306.3 1313.3L1307.9 1311.0L1309.5 1313.1L1311.1 1315.3L1312.7 1314.2L1314.3 1312.8L1315.9 1312.0L1317.5 1310.6L1319.1 1309.8L1320.7 1310.1L1322.3 1309.3L1323.9 1309.6L1325.5 1307.7L1327.1 1310.1L1328.7 1310.8L1330.3 1309.0L1331.9 1306.0L1333.5 1308.7L1335.1 1312.1L1336.7 1310.6L1338.3 1310.4L1339.9 1310.2L1341.5 1312.4L1343.1 1310.7L1344.7 1313.4L1346.3 1312.5L1347.9 1314.4L1349.5 1313.8L1351.1 1313.1L1352.7 1310.6L1354.3 1310.8L1355.9 1311.8L1357.5 1314.0L1359.1 1314.3L1360.7 1312.9L1362.3 1314.1L1363.9 1315.8L1365.5 1314.6L1367.1 1313.4L1368.7 1312.9L1370.3 1314.8L1371.9 1315.3L1373.5 1312.8L1375.1 1314.0L1376.7 1313.0L1378.3 1312.0L1379.9 1315.0L1381.5 1315.8L1383.1 1313.4L1384.7 1313.6L1386.3 1314.4L1387.9 1312.8L1389.5 1312.8L1391.1 1314.2L1392.7 1310.5L1394.3 1312.3L1395.9 1313.9L1397.5 1314.2L1399.1 1311.0L1400.7 1312.3L1402.3 1310.8L1403.9 1312.5L1405.5 1313.4L1407.1 1313.0L1408.7 1311.0L1410.3 1310.3L1411.9 1312.5L1413.5 1310.3L1415.1 1311.7L1416.7 1312.3L1418.3 1311.2L1419.9 1315.3L1421.5 1313.2L1423.1 1315.7L1424.7 1309.5L1426.3 1305.8L1427.9 1309.8L1429.5 1311.0L1431.1 1309.9L1432.7 1309.7L1434.3 1306.2L1435.9 1306.7L1437.5 1306.2L1439.1 1307.3L1440.7 1309.7L1442.3 1309.4L1443.9 1309.8L1445.5 1308.0L1447.1 1307.6L1448.7 1308.4L1450.3 1308.1L1451.9 1310.7L1453.5 1308.2L1455.1 1312.0L1456.7 1308.8L1458.3 1310.9L1459.9 1308.7L1461.5 1312.0L1463.1 1311.0L1464.7 1311.1L1466.3 1311.7L1467.9 1309.6L1469.5 1307.9L1471.1 1305.3L1472.7 1309.9L1474.3 1308.8L1475.9 1308.5L1477.5 1309.4L1479.1 1313.6L1480.7 1309.1L1482.3 1310.4L1483.9 1310.0L1485.5 1311.5L1487.1 1308.2L1488.7 1309.1L1490.3 1311.9L1491.9 1314.6L1493.5 1316.1L1495.1 1312.5L1496.7 1312.5L1498.3 1312.2L1499.9 1309.9L1501.5 1308.6L1503.1 1312.1L1504.7 1312.9L1506.3 1312.6L1507.9 1315.0L1509.5 1312.2L1511.1 1313.5L1512.7 1313.2L1514.3 1312.9L1515.9 1313.6L1517.5 1313.4L1519.1 1313.4L1520.7 1313.3L1522.3 1316.2L1523.9 1313.6L1525.5 1314.6L1527.1 1314.3L1528.7 1312.4L1530.3 1313.4L1531.9 1310.9L1533.5 1313.2L1535.1 1310.8L1536.7 1310.1L1538.3 1311.1L1539.9 1312.5L1541.5 1313.3L1543.1 1313.6L1544.7 1311.8L1546.3 1309.4L1547.9 1311.0L1549.5 1311.2L1551.1 1309.0L1552.7 1311.4L1554.3 1311.1L1555.9 1308.8L1557.5 1310.2L1559.1 1307.6L1560.7 1307.1L1562.3 1309.1L1563.9 1306.6L1565.5 1308.1L1567.1 1306.4L1568.7 1309.3L1570.3 1308.2L1571.9 1309.2L1573.5 1306.8L1575.1 1307.6L1576.7 1310.5L1578.3 1311.0L1579.9 1307.2L1581.5 1310.3L1583.1 1311.9L1584.7 1310.4L1586.3 1312.9L1587.9 1309.8L1589.5 1310.0L1591.1 1312.3L1592.7 1313.9L1594.3 1314.6L1595.9 1310.8L1597.5 1307.6L1599.1 1309.9L1600.7 1307.8L1602.3 1309.1L1603.9 1307.7L1605.5 1311.2L1607.1 1312.4L1608.7 1312.6L1610.3 1311.6L1611.9 1311.2L1613.5 1310.4L1615.1 1311.1L1616.7 1311.3L1618.3 1311.7L1619.9 1310.3L1621.5 1313.7L1623.1 1312.5L1624.7 1313.9L1626.3 1314.4L1627.9 1310.7L1629.5 1307.3L1631.1 1310.9L1632.7 1309.6L1634.3 1309.8L1635.9 1309.2L1637.5 1309.6L1639.1 1307.3L1640.7 1308.1L1642.3 1307.8L1643.9 1308.4L1645.5 1304.4L1647.1 1308.1L1648.7 1309.0L1650.3 1305.7L1651.9 1305.7L1653.5 1307.1L1655.1 1308.8L1656.7 1308.5L1658.3 1310.7L1659.9 1309.4L1661.5 1306.8L1663.1 1306.0L1664.7 1308.2L1666.3 1306.8L1667.9 1308.6L1669.5 1309.8L1671.1 1309.6L1672.7 1310.2L1674.3 1308.3L1675.9 1307.7L1677.5 1306.2L1679.1 1305.4L1680.7 1303.3L1682.3 1303.9L1683.9 1303.3L1685.5 1302.4L1687.1 1304.7L1688.7 1306.5L1690.3 1305.9L1691.9 1308.8L1693.5 1309.4L1695.1 1310.0L1696.7 1307.4L1698.3 1304.5L1699.9 1306.8L1701.5 1307.5L1703.1 1308.7L1704.7 1308.8L1706.3 1310.3L1707.9 1308.4L1709.5 1309.2L1711.1 1306.8L1712.7 1303.1L1714.3 1304.6L1715.9 1308.9L1717.5 1305.4L1719.1 1308.5L1720.7 1307.0L1722.3 1306.7L1723.9 1307.4L1725.5 1308.0L1727.1 1306.1L1728.7 1307.2L1730.3 1308.2L1731.9 1309.4L1733.5 1307.2L1735.1 1310.2L1736.7 1312.3L1738.3 1314.2L1739.9 1308.4L1741.5 1308.2L1743.1 1304.4L1744.7 1306.6L1746.3 1307.9L1747.9 1305.5L1749.5 1303.5L1751.1 1305.6L1752.7 1307.5L1754.3 1305.8L1755.9 1305.9L1757.5 1301.8L1759.1 1303.0L1760.7 1305.1L1762.3 1306.2L1763.9 1309.2L1765.5 1305.8L1767.1 1302.1L1768.7 1305.0L1770.3 1304.6L1771.9 1306.0L1773.5 1307.4L1775.1 1307.8L1776.7 1309.6L1778.3 1310.2L1779.9 1305.1L1781.5 1305.4L1783.1 1309.3L1784.7 1306.9L1786.3 1308.2L1787.9 1306.9L1789.5 1305.7L1791.1 1308.6L1792.7 1309.1L1794.3 1307.1L1795.9 1308.1L1797.5 1304.6L1799.1 1303.9L1800.7 1306.5L1802.3 1306.2L1803.9 1303.9L1805.5 1305.4L1807.1 1305.8L1808.7 1307.6L1810.3 1307.7L1811.9 1305.3L1813.5 1303.5L1815.1 1303.1L1816.7 1302.7L1818.3 1305.5L1819.9 1307.2L1821.5 1307.8L1823.1 1306.5L1824.7 1305.0L1826.3 1306.7L1827.9 1305.6L1829.5 1306.4L1831.1 1303.6L1832.7 1304.6L1834.3 1308.6L1835.9 1306.3L1837.5 1304.3L1839.1 1305.7L1840.7 1309.7L1842.3 1311.3L1843.9 1308.7L1845.5 1307.2L1847.1 1307.0L1848.7 1305.5L1850.3 1306.4L1851.9 1306.2L1853.5 1303.9L1855.1 1304.4L1856.7 1305.1L1858.3 1304.4L1859.9 1303.5L1861.5 1306.7L1863.1 1310.0L1864.7 1307.7L1866.3 1306.2L1867.9 1307.1L1869.5 1306.2L1871.1 1304.7L1872.7 1307.8L1874.3 1304.9L1875.9 1303.9L1877.5 1303.5L1879.1 1302.9L1880.7 1303.6L1882.3 1305.4L1883.9 1307.8L1885.5 1307.6L1887.1 1306.3L1888.7 1303.2L1890.3 1303.8L1891.9 1302.2L1893.5 1302.8L1895.1 1304.7L1896.7 1303.9L1898.3 1302.4L1899.9 1300.3L1901.5 1300.1L1903.1 1300.2L1904.7 1298.1L1906.3 1297.6L1907.9 1299.5" stroke="#f9cbe8" stroke-width="8.6"/>
<path d="M1125.5 1320.7L1127.1 1321.9L1128.7 1321.8L1130.3 1322.8L1131.9 1324.0L1133.5 1324.8L1135.1 1326.8L1136.7 1325.5L1138.3 1326.1L1139.9 1325.7L1141.5 1325.5L1143.1 1326.1L1144.7 1326.8L1146.3 1327.5L1147.9 1328.0L1149.5 1330.0L1151.1 1329.8L1152.7 1327.3L1154.3 1327.9L1155.9 1327.4L1157.5 1327.3L1159.1 1329.1L1160.7 1328.6L1162.3 1326.6L1163.9 1327.8L1165.5 1327.9L1167.1 1327.0L1168.7 1326.8L1170.3 1327.0L1171.9 1327.7L1173.5 1327.6L1175.1 1328.1L1176.7 1330.1L1178.3 1328.4L1179.9 1327.6L1181.5 1327.7L1183.1 1329.1L1184.7 1328.0L1186.3 1329.6L1187.9 1327.6L1189.5 1326.9L1191.1 1327.5L1192.7 1327.0L1194.3 1327.0L1195.9 1328.1L1197.5 1328.9L1199.1 1328.7L1200.7 1328.2L1202.3 1329.5L1203.9 1329.2L1205.5 1328.5L1207.1 1329.5L1208.7 1327.9L1210.3 1328.2L1211.9 1328.8L1213.5 1328.5L1215.1 1327.7L1216.7 1328.2L1218.3 1327.6L1219.9 1327.2L1221.5 1326.6L1223.1 1328.6L1224.7 1327.8L1226.3 1329.0L1227.9 1328.8L1229.5 1328.1L1231.1 1328.6L1232.7 1328.4L1234.3 1328.1L1235.9 1326.4L1237.5 1326.9L1239.1 1327.9L1240.7 1327.9L1242.3 1328.4L1243.9 1329.1L1245.5 1328.2L1247.1 1329.3L1248.7 1326.3L1250.3 1326.0L1251.9 1323.5L1253.5 1325.6L1255.1 1325.8L1256.7 1327.4L1258.3 1326.1L1259.9 1323.7L1261.5 1325.8L1263.1 1324.1L1264.7 1323.3L1266.3 1323.9L1267.9 1325.0L1269.5 1324.2L1271.1 1324.5L1272.7 1322.4L1274.3 1324.9L1275.9 1324.2L1277.5 1324.0L1279.1 1324.2L1280.7 1323.7L1282.3 1323.4L1283.9 1322.0L1285.5 1321.9L1287.1 1322.3L1288.7 1323.0L1290.3 1322.1L1291.9 1321.7L1293.5 1321.6L1295.1 1321.6L1296.7 1321.2L1298.3 1320.4L1299.9 1319.6L1301.5 1320.7L1303.1 1320.3L1304.7 1319.7L1306.3 1322.8L1307.9 1321.6L1309.5 1320.8L1311.1 1319.7L1312.7 1317.8L1314.3 1318.9L1315.9 1318.1L1317.5 1317.7L1319.1 1318.4L1320.7 1318.6L1322.3 1317.8L1323.9 1317.1L1325.5 1318.7L1327.1 1317.8L1328.7 1315.7L1330.3 1316.3L1331.9 1315.8L1333.5 1315.3L1335.1 1315.6L1336.7 1315.1L1338.3 1316.5L1339.9 1315.3L1341.5 1314.5L1343.1 1314.9L1344.7 1313.2L1346.3 1313.8L1347.9 1312.9L1349.5 1313.5L1351.1 1311.7L1352.7 1311.8L1354.3 1309.8L1355.9 1309.7L1357.5 1310.0L1359.1 1310.4L1360.7 1312.0L1362.3 1312.4L1363.9 1309.3L1365.5 1308.1L1367.1 1309.3L1368.7 1308.9L1370.3 1306.8L1371.9 1307.3L1373.5 1305.8L1375.1 1305.1L1376.7 1304.2L1378.3 1304.5L1379.9 1307.0L1381.5 1306.2L1383.1 1305.1L1384.7 1307.0L1386.3 1304.7L1387.9 1303.6L1389.5 1302.7L1391.1 1302.7L1392.7 1301.6L1394.3 1302.6L1395.9 1301.0L1397.5 1300.7L1399.1 1299.9L1400.7 1298.2L1402.3 1296.9L1403.9 1296.9L1405.5 1294.4L1407.1 1295.2L1408.7 1295.4L1410.3 1295.4L1411.9 1294.9L1413.5 1294.9L1415.1 1293.9L1416.7 1294.2L1418.3 1291.8L1419.9 1293.0L1421.5 1291.5L1423.1 1291.9L1424.7 1290.9L1426.3 1290.2L1427.9 1289.2L1429.5 1290.6L1431.1 1288.6L1432.7 1287.3L1434.3 1287.8L1435.9 1287.8L1437.5 1287.4L1439.1 1285.9L1440.7 1285.2L1442.3 1286.2L1443.9 1284.5L1445.5 1285.1L1447.1 1285.2L1448.7 1284.4L1450.3 1282.4L1451.9 1284.2L1453.5 1283.1L1455.1 1282.4L1456.7 1281.2L1458.3 1279.7L1459.9 1279.4L1461.5 1279.4L1463.1 1278.1L1464.7 1278.2L1466.3 1279.0L1467.9 1278.4L1469.5 1277.3L1471.1 1277.6L1472.7 1277.4L1474.3 1276.9L1475.9 1274.7L1477.5 1272.2L1479.1 1273.2L1480.7 1272.5L1482.3 1271.3L1483.9 1271.1L1485.5 1269.6L1487.1 1268.1L1488.7 1269.3L1490.3 1266.0L1491.9 1266.3L1493.5 1266.1L1495.1 1266.2L1496.7 1264.3L1498.3 1263.0L1499.9 1260.5L1501.5 1259.6L1503.1 1256.5L1504.7 1256.0L1506.3 1255.8L1507.9 1255.2L1509.5 1254.1L1511.1 1254.7L1512.7 1251.9L1514.3 1251.8L1515.9 1250.8L1517.5 1250.4L1519.1 1249.8L1520.7 1251.0L1522.3 1248.3L1523.9 1249.0L1525.5 1249.1L1527.1 1247.3L1528.7 1245.6L1530.3 1243.8L1531.9 1243.1L1533.5 1245.3L1535.1 1242.0L1536.7 1242.7L1538.3 1241.6L1539.9 1243.4L1541.5 1242.5L1543.1 1240.2L1544.7 1239.7L1546.3 1239.9L1547.9 1239.8L1549.5 1238.4L1551.1 1238.2L1552.7 1237.7L1554.3 1238.2L1555.9 1238.1L1557.5 1237.7L1559.1 1236.5L1560.7 1237.1L1562.3 1235.8L1563.9 1234.8L1565.5 1234.4L1567.1 1234.2L1568.7 1233.9L1570.3 1231.9L1571.9 1234.1L1573.5 1234.3L1575.1 1234.9L1576.7 1233.3L1578.3 1233.5L1579.9 1232.9L1581.5 1232.3L1583.1 1233.6L1584.7 1231.7L1586.3 1231.7L1587.9 1229.3L1589.5 1230.2L1591.1 1229.8L1592.7 1228.6L1594.3 1228.2L1595.9 1226.4L1597.5 1226.4L1599.1 1227.5L1600.7 1225.1L1602.3 1227.5L1603.9 1228.4L1605.5 1227.1L1607.1 1225.6L1608.7 1224.8L1610.3 1224.4L1611.9 1224.6L1613.5 1227.5L1615.1 1225.5L1616.7 1226.3L1618.3 1227.0L1619.9 1225.1L1621.5 1224.7L1623.1 1225.3L1624.7 1224.2L1626.3 1225.4L1627.9 1226.8L1629.5 1225.2L1631.1 1223.5L1632.7 1224.0L1634.3 1223.9L1635.9 1222.6L1637.5 1222.5L1639.1 1222.6L1640.7 1222.9L1642.3 1223.6L1643.9 1222.3L1645.5 1220.7L1647.1 1219.5L1648.7 1222.2L1650.3 1221.2L1651.9 1220.7L1653.5 1223.1L1655.1 1223.0L1656.7 1223.9L1658.3 1221.9L1659.9 1220.3L1661.5 1219.6L1663.1 1220.4L1664.7 1220.5L1666.3 1220.4L1667.9 1222.2L1669.5 1222.2L1671.1 1219.6L1672.7 1219.8L1674.3 1220.0L1675.9 1218.7L1677.5 1221.1L1679.1 1220.8L1680.7 1221.2L1682.3 1219.3L1683.9 1217.7L1685.5 1218.8L1687.1 1218.4L1688.7 1217.7L1690.3 1217.9L1691.9 1218.3L1693.5 1218.4L1695.1 1218.2L1696.7 1218.7L1698.3 1221.4L1699.9 1221.1L1701.5 1219.2L1703.1 1220.9L1704.7 1219.2L1706.3 1217.3L1707.9 1216.5L1709.5 1215.5L1711.1 1218.1L1712.7 1217.3L1714.3 1216.5L1715.9 1217.0L1717.5 1217.7L1719.1 1217.0L1720.7 1217.3L1722.3 1218.1L1723.9 1219.2L1725.5 1218.2L1727.1 1219.2L1728.7 1219.5L1730.3 1219.9L1731.9 1219.1L1733.5 1218.1L1735.1 1219.8L1736.7 1220.3L1738.3 1219.3L1739.9 1218.8L1741.5 1220.0L1743.1 1222.0L1744.7 1221.3L1746.3 1223.2L1747.9 1221.9L1749.5 1221.3L1751.1 1221.2L1752.7 1221.7L1754.3 1219.3L1755.9 1219.8L1757.5 1221.2L1759.1 1219.0L1760.7 1219.7L1762.3 1220.6L1763.9 1222.0L1765.5 1222.5L1767.1 1221.2L1768.7 1222.6L1770.3 1220.1L1771.9 1218.6L1773.5 1220.6L1775.1 1221.0L1776.7 1219.4L1778.3 1220.9L1779.9 1221.5L1781.5 1221.8L1783.1 1220.9L1784.7 1219.7L1786.3 1218.8L1787.9 1219.9L1789.5 1220.7L1791.1 1220.8L1792.7 1221.0L1794.3 1222.6L1795.9 1221.5L1797.5 1221.4L1799.1 1224.3L1800.7 1223.2L1802.3 1222.7L1803.9 1224.3L1805.5 1222.3L1807.1 1224.9L1808.7 1223.3L1810.3 1223.1L1811.9 1222.6L1813.5 1222.7L1815.1 1223.1L1816.7 1225.1L1818.3 1225.1L1819.9 1226.7L1821.5 1226.9L1823.1 1225.1L1824.7 1225.5L1826.3 1225.2L1827.9 1225.3L1829.5 1226.0L1831.1 1226.7L1832.7 1227.1L1834.3 1224.8L1835.9 1225.7L1837.5 1225.9L1839.1 1228.4L1840.7 1227.6L1842.3 1227.4L1843.9 1227.4L1845.5 1228.3L1847.1 1226.8L1848.7 1227.1L1850.3 1227.3L1851.9 1227.5L1853.5 1227.5L1855.1 1227.2L1856.7 1227.7L1858.3 1226.6L1859.9 1229.1L1861.5 1228.7L1863.1 1226.7L1864.7 1227.3L1866.3 1228.9L1867.9 1228.5L1869.5 1228.4L1871.1 1226.3L1872.7 1228.9L1874.3 1228.9L1875.9 1226.9L1877.5 1227.5L1879.1 1229.7L1880.7 1229.8L1882.3 1227.9L1883.9 1228.0L1885.5 1228.8L1887.1 1231.1L1888.7 1230.5L1890.3 1230.7L1891.9 1229.7L1893.5 1229.7L1895.1 1228.6L1896.7 1227.8L1898.3 1227.3L1899.9 1227.9L1901.5 1230.1L1903.1 1229.9L1904.7 1231.1L1906.3 1231.2L1907.9 1230.7" stroke="#e391cc" stroke-width="6.6"/>
<path d="M1125.5 1322.6L1127.1 1322.5L1128.7 1324.2L1130.3 1322.8L1131.9 1324.0L1133.5 1323.5L1135.1 1326.3L1136.7 1327.2L1138.3 1328.8L1139.9 1328.3L1141.5 1328.9L1143.1 1328.7L1144.7 1328.3L1146.3 1328.8L1147.9 1327.9L1149.5 1328.2L1151.1 1329.1L1152.7 1329.1L1154.3 1328.7L1155.9 1330.6L1157.5 1329.9L1159.1 1329.0L1160.7 1329.1L1162.3 1328.6L1163.9 1328.5L1165.5 1328.5L1167.1 1330.4L1168.7 1329.7L1170.3 1329.5L1171.9 1329.8L1173.5 1331.0L1175.1 1329.8L1176.7 1328.9L1178.3 1330.9L1179.9 1328.8L1181.5 1328.6L1183.1 1329.3L1184.7 1331.0L1186.3 1329.2L1187.9 1327.2L1189.5 1328.6L1191.1 1328.4L1192.7 1328.4L1194.3 1329.1L1195.9 1329.2L1197.5 1329.3L1199.1 1328.8L1200.7 1329.9L1202.3 1330.7L1203.9 1329.9L1205.5 1329.1L1207.1 1329.6L1208.7 1329.7L1210.3 1328.5L1211.9 1328.4L1213.5 1329.5L1215.1 1329.2L1216.7 1328.8L1218.3 1329.1L1219.9 1329.0L1221.5 1329.0L1223.1 1327.5L1224.7 1329.6L1226.3 1329.4L1227.9 1328.4L1229.5 1329.3L1231.1 1329.2L1232.7 1328.8L1234.3 1329.4L1235.9 1330.5L1237.5 1329.6L1239.1 1329.9L1240.7 1330.3L1242.3 1327.9L1243.9 1327.0L1245.5 1327.5L1247.1 1325.6L1248.7 1325.7L1250.3 1326.9L1251.9 1327.2L1253.5 1326.9L1255.1 1324.6L1256.7 1326.8L1258.3 1326.2L1259.9 1325.9L1261.5 1325.4L1263.1 1323.2L1264.7 1322.1L1266.3 1321.5L1267.9 1323.4L1269.5 1321.8L1271.1 1321.2L1272.7 1320.5L1274.3 1320.3L1275.9 1319.8L1277.5 1318.8L1279.1 1316.6L1280.7 1313.4L1282.3 1313.9L1283.9 1313.7L1285.5 1313.7L1287.1 1312.0L1288.7 1310.1L1290.3 1309.3L1291.9 1306.6L1293.5 1304.9L1295.1 1303.4L1296.7 1302.8L1298.3 1303.2L1299.9 1301.5L1301.5 1300.1L1303.1 1297.8L1304.7 1295.8L1306.3 1293.4L1307.9 1291.6L1309.5 1288.2L1311.1 1286.8L1312.7 1285.4L1314.3 1285.8L1315.9 1285.3L1317.5 1285.0L1319.1 1284.7L1320.7 1282.4L1322.3 1281.8L1323.9 1281.5L1325.5 1279.1L1327.1 1278.0L1328.7 1275.6L1330.3 1272.4L1331.9 1271.3L1333.5 1269.1L1335.1 1267.8L1336.7 1265.8L1338.3 1264.5L1339.9 1261.0L1341.5 1261.7L1343.1 1260.6L1344.7 1257.7L1346.3 1254.9L1347.9 1253.2L1349.5 1252.0L1351.1 1250.2L1352.7 1248.3L1354.3 1244.4L1355.9 1242.2L1357.5 1242.1L1359.1 1240.2L1360.7 1236.8L1362.3 1234.7L1363.9 1232.2L1365.5 1230.3L1367.1 1230.1L1368.7 1227.9L1370.3 1226.9L1371.9 1224.7L1373.5 1221.2L1375.1 1219.3L1376.7 1219.7L1378.3 1216.5L1379.9 1213.7L1381.5 1213.3L1383.1 1211.2L1384.7 1209.1L1386.3 1208.4L1387.9 1204.6L1389.5 1203.5L1391.1 1201.0L1392.7 1198.5L1394.3 1197.0L1395.9 1197.0L1397.5 1195.1L1399.1 1192.0L1400.7 1190.3L1402.3 1190.9L1403.9 1190.0L1405.5 1187.2L1407.1 1187.9L1408.7 1185.4L1410.3 1182.8L1411.9 1181.7L1413.5 1181.5L1415.1 1181.3L1416.7 1180.2L1418.3 1177.8L1419.9 1176.0L1421.5 1173.9L1423.1 1173.4L1424.7 1172.2L1426.3 1171.8L1427.9 1169.9L1429.5 1169.1L1431.1 1168.0L1432.7 1166.7L1434.3 1165.6L1435.9 1164.8L1437.5 1163.8L1439.1 1164.3L1440.7 1163.8L1442.3 1162.0L1443.9 1162.2L1445.5 1161.7L1447.1 1162.1L1448.7 1160.7L1450.3 1159.6L1451.9 1158.4L1453.5 1158.2L1455.1 1158.1L1456.7 1157.5L1458.3 1156.7L1459.9 1156.6L1461.5 1155.9L1463.1 1155.5L1464.7 1154.0L1466.3 1153.9L1467.9 1152.6L1469.5 1151.9L1471.1 1152.0L1472.7 1153.4L1474.3 1153.0L1475.9 1151.7L1477.5 1150.6L1479.1 1150.7L1480.7 1150.9L1482.3 1150.6L1483.9 1149.0L1485.5 1148.2L1487.1 1147.2L1488.7 1146.4L1490.3 1145.3L1491.9 1145.1L1493.5 1143.1L1495.1 1142.8L1496.7 1143.7L1498.3 1142.9L1499.9 1143.5L1501.5 1142.1L1503.1 1142.1L1504.7 1142.5L1506.3 1141.4L1507.9 1140.9L1509.5 1143.1L1511.1 1141.5L1512.7 1140.5L1514.3 1140.0L1515.9 1140.0L1517.5 1139.9L1519.1 1140.5L1520.7 1140.6L1522.3 1139.5L1523.9 1138.9L1525.5 1137.7L1527.1 1136.9L1528.7 1137.1L1530.3 1138.3L1531.9 1138.3L1533.5 1138.8L1535.1 1139.1L1536.7 1138.2L1538.3 1139.6L1539.9 1138.0L1541.5 1137.1L1543.1 1136.7L1544.7 1137.7L1546.3 1137.1L1547.9 1136.2L1549.5 1136.7L1551.1 1137.4L1552.7 1136.7L1554.3 1136.2L1555.9 1137.1L1557.5 1137.4L1559.1 1137.5L1560.7 1136.1L1562.3 1136.3L1563.9 1136.4L1565.5 1134.7L1567.1 1136.3L1568.7 1136.2L1570.3 1135.7L1571.9 1137.6L1573.5 1136.8L1575.1 1135.7L1576.7 1135.6L1578.3 1136.1L1579.9 1136.5L1581.5 1136.0L1583.1 1135.1L1584.7 1134.8L1586.3 1134.5L1587.9 1134.1L1589.5 1134.8L1591.1 1134.7L1592.7 1135.1L1594.3 1134.6L1595.9 1134.2L1597.5 1134.6L1599.1 1134.7L1600.7 1135.9L1602.3 1134.8L1603.9 1135.2L1605.5 1135.1L1607.1 1134.1L1608.7 1135.2L1610.3 1135.3L1611.9 1133.5L1613.5 1134.8L1615.1 1135.7L1616.7 1134.8L1618.3 1136.3L1619.9 1135.8L1621.5 1134.5L1623.1 1135.3L1624.7 1134.9L1626.3 1133.9L1627.9 1132.8L1629.5 1134.1L1631.1 1134.0L1632.7 1135.1L1634.3 1135.4L1635.9 1134.8L1637.5 1134.5L1639.1 1136.3L1640.7 1137.1L1642.3 1136.7L1643.9 1135.6L1645.5 1134.6L1647.1 1134.5L1648.7 1136.2L1650.3 1136.0L1651.9 1135.3L1653.5 1134.2L1655.1 1134.8L1656.7 1134.2L1658.3 1134.7L1659.9 1135.5L1661.5 1136.2L1663.1 1135.8L1664.7 1135.2L1666.3 1135.4L1667.9 1136.8L1669.5 1136.4L1671.1 1134.8L1672.7 1136.5L1674.3 1136.3L1675.9 1138.9L1677.5 1137.0L1679.1 1136.5L1680.7 1136.1L1682.3 1136.5L1683.9 1136.0L1685.5 1135.0L1687.1 1134.3L1688.7 1135.4L1690.3 1135.7L1691.9 1135.8L1693.5 1138.2L1695.1 1138.3L1696.7 1138.7L1698.3 1137.6L1699.9 1137.8L1701.5 1137.5L1703.1 1137.5L1704.7 1138.3L1706.3 1138.6L1707.9 1138.6L1709.5 1138.5L1711.1 1137.2L1712.7 1137.2L1714.3 1138.2L1715.9 1138.1L1717.5 1137.8L1719.1 1138.6L1720.7 1138.0L1722.3 1138.0L1723.9 1139.3L1725.5 1139.0L1727.1 1140.4L1728.7 1140.4L1730.3 1140.7L1731.9 1141.2L1733.5 1138.8L1735.1 1139.4L1736.7 1138.8L1738.3 1139.2L1739.9 1139.7L1741.5 1141.2L1743.1 1140.9L1744.7 1142.2L1746.3 1141.2L1747.9 1141.1L1749.5 1141.2L1751.1 1142.1L1752.7 1141.7L1754.3 1141.2L1755.9 1141.2L1757.5 1140.4L1759.1 1142.2L1760.7 1142.8L1762.3 1142.9L1763.9 1142.9L1765.5 1142.2L1767.1 1142.1L1768.7 1143.1L1770.3 1142.4L1771.9 1142.1L1773.5 1143.9L1775.1 1144.9L1776.7 1144.4L1778.3 1144.4L1779.9 1144.2L1781.5 1145.1L1783.1 1144.2L1784.7 1144.2L1786.3 1144.5L1787.9 1145.6L1789.5 1144.8L1791.1 1144.8L1792.7 1144.3L1794.3 1144.0L1795.9 1143.9L1797.5 1144.5L1799.1 1145.5L1800.7 1144.7L1802.3 1144.5L1803.9 1144.6L1805.5 1145.3L1807.1 1146.0L1808.7 1144.9L1810.3 1145.6L1811.9 1145.0L1813.5 1146.1L1815.1 1145.3L1816.7 1144.9L1818.3 1145.1L1819.9 1145.7L1821.5 1145.4L1823.1 1146.2L1824.7 1146.6L1826.3 1146.8L1827.9 1147.2L1829.5 1147.9L1831.1 1147.0L1832.7 1147.2L1834.3 1147.3L1835.9 1145.8L1837.5 1147.1L1839.1 1146.8L1840.7 1146.8L1842.3 1147.1L1843.9 1147.7L1845.5 1148.3L1847.1 1148.8L1848.7 1148.1L1850.3 1149.0L1851.9 1149.3L1853.5 1148.8L1855.1 1149.0L1856.7 1149.8L1858.3 1149.9L1859.9 1150.3L1861.5 1150.0L1863.1 1150.8L1864.7 1152.1L1866.3 1151.4L1867.9 1149.5L1869.5 1151.3L1871.1 1150.4L1872.7 1149.4L1874.3 1148.1L1875.9 1149.8L1877.5 1151.2L1879.1 1151.9L1880.7 1151.1L1882.3 1152.2L1883.9 1151.6L1885.5 1150.9L1887.1 1151.1L1888.7 1151.3L1890.3 1151.3L1891.9 1151.6L1893.5 1149.7L1895.1 1151.7L1896.7 1151.1L1898.3 1151.7L1899.9 1150.9L1901.5 1151.3L1903.1 1151.2L1904.7 1150.0L1906.3 1151.0L1907.9 1151.7" stroke="#cb5db3" stroke-width="6.2"/>
<path d="M1125.5 1321.8L1127.1 1321.0L1128.7 1321.6L1130.3 1322.8L1131.9 1324.7L1133.5 1325.3L1135.1 1324.7L1136.7 1326.3L1138.3 1326.1L1139.9 1328.1L1141.5 1328.0L1143.1 1329.7L1144.7 1329.1L1146.3 1328.1L1147.9 1327.3L1149.5 1327.9L1151.1 1328.7L1152.7 1329.7L1154.3 1329.5L1155.9 1328.5L1157.5 1329.1L1159.1 1327.7L1160.7 1328.6L1162.3 1328.0L1163.9 1329.5L1165.5 1329.9L1167.1 1329.5L1168.7 1328.2L1170.3 1328.8L1171.9 1329.0L1173.5 1328.3L1175.1 1327.9L1176.7 1329.2L1178.3 1328.5L1179.9 1328.8L1181.5 1329.7L1183.1 1327.8L1184.7 1329.5L1186.3 1329.7L1187.9 1328.4L1189.5 1327.6L1191.1 1326.9L1192.7 1328.3L1194.3 1326.1L1195.9 1327.9L1197.5 1328.0L1199.1 1327.4L1200.7 1327.0L1202.3 1326.8L1203.9 1326.6L1205.5 1327.2L1207.1 1325.9L1208.7 1326.5L1210.3 1326.4L1211.9 1325.0L1213.5 1324.7L1215.1 1323.3L1216.7 1322.7L1218.3 1322.4L1219.9 1323.0L1221.5 1321.3L1223.1 1320.0L1224.7 1319.0L1226.3 1317.9L1227.9 1316.1L1229.5 1317.0L1231.1 1314.9L1232.7 1313.2L1234.3 1311.7L1235.9 1311.4L1237.5 1312.3L1239.1 1312.1L1240.7 1309.5L1242.3 1306.8L1243.9 1304.3L1245.5 1301.2L1247.1 1300.1L1248.7 1297.7L1250.3 1297.2L1251.9 1293.8L1253.5 1290.3L1255.1 1286.6L1256.7 1283.5L1258.3 1282.5L1259.9 1280.3L1261.5 1276.5L1263.1 1272.8L1264.7 1270.8L1266.3 1267.6L1267.9 1264.9L1269.5 1261.8L1271.1 1258.0L1272.7 1253.7L1274.3 1251.5L1275.9 1248.8L1277.5 1245.9L1279.1 1243.4L1280.7 1240.6L1282.3 1236.4L1283.9 1233.6L1285.5 1228.4L1287.1 1226.5L1288.7 1223.3L1290.3 1221.0L1291.9 1218.2L1293.5 1213.7L1295.1 1210.5L1296.7 1208.4L1298.3 1204.5L1299.9 1201.6L1301.5 1198.1L1303.1 1196.0L1304.7 1193.3L1306.3 1189.8L1307.9 1186.2L1309.5 1182.5L1311.1 1181.9L1312.7 1179.4L1314.3 1176.7L1315.9 1174.4L1317.5 1171.9L1319.1 1170.8L1320.7 1169.2L1322.3 1165.1L1323.9 1163.8L1325.5 1162.4L1327.1 1160.3L1328.7 1158.8L1330.3 1158.3L1331.9 1156.2L1333.5 1154.9L1335.1 1153.4L1336.7 1149.7L1338.3 1149.8L1339.9 1147.7L1341.5 1145.6L1343.1 1144.6L1344.7 1144.5L1346.3 1141.3L1347.9 1139.0L1349.5 1138.0L1351.1 1135.0L1352.7 1133.4L1354.3 1132.8L1355.9 1132.4L1357.5 1131.4L1359.1 1130.5L1360.7 1129.6L1362.3 1127.3L1363.9 1125.6L1365.5 1124.2L1367.1 1122.9L1368.7 1122.9L1370.3 1122.1L1371.9 1118.8L1373.5 1118.8L1375.1 1117.0L1376.7 1115.6L1378.3 1116.4L1379.9 1116.4L1381.5 1115.9L1383.1 1114.8L1384.7 1114.8L1386.3 1112.1L1387.9 1111.9L1389.5 1110.3L1391.1 1109.3L1392.7 1107.6L1394.3 1109.1L1395.9 1109.9L1397.5 1109.2L1399.1 1107.5L1400.7 1107.0L1402.3 1105.5L1403.9 1105.2L1405.5 1106.3L1407.1 1106.6L1408.7 1105.8L1410.3 1105.2L1411.9 1104.0L1413.5 1103.5L1415.1 1102.6L1416.7 1102.5L1418.3 1101.3L1419.9 1101.9L1421.5 1101.0L1423.1 1100.7L1424.7 1100.1L1426.3 1101.1L1427.9 1100.9L1429.5 1099.2L1431.1 1098.1L1432.7 1098.6L1434.3 1098.4L1435.9 1097.8L1437.5 1097.7L1439.1 1098.7L1440.7 1097.6L1442.3 1098.1L1443.9 1096.7L1445.5 1096.0L1447.1 1096.0L1448.7 1095.5L1450.3 1094.8L1451.9 1093.8L1453.5 1093.8L1455.1 1093.7L1456.7 1093.8L1458.3 1094.6L1459.9 1094.4L1461.5 1094.7L1463.1 1094.0L1464.7 1093.7L1466.3 1093.6L1467.9 1093.4L1469.5 1093.5L1471.1 1092.1L1472.7 1092.1L1474.3 1091.8L1475.9 1092.4L1477.5 1092.3L1479.1 1091.0L1480.7 1091.0L1482.3 1091.2L1483.9 1090.7L1485.5 1091.4L1487.1 1090.8L1488.7 1089.2L1490.3 1089.7L1491.9 1090.2L1493.5 1089.2L1495.1 1089.8L1496.7 1087.3L1498.3 1089.8L1499.9 1088.3L1501.5 1088.2L1503.1 1088.3L1504.7 1087.4L1506.3 1088.3L1507.9 1087.7L1509.5 1087.0L1511.1 1085.9L1512.7 1087.7L1514.3 1088.9L1515.9 1088.3L1517.5 1088.4L1519.1 1089.5L1520.7 1089.1L1522.3 1089.4L1523.9 1089.4L1525.5 1089.2L1527.1 1088.8L1528.7 1089.2L1530.3 1088.5L1531.9 1088.1L1533.5 1087.1L1535.1 1085.5L1536.7 1085.6L1538.3 1086.1L1539.9 1087.4L1541.5 1086.9L1543.1 1085.3L1544.7 1086.6L1546.3 1087.6L1547.9 1087.4L1549.5 1087.2L1551.1 1087.1L1552.7 1086.7L1554.3 1087.7L1555.9 1086.4L1557.5 1085.7L1559.1 1084.8L1560.7 1085.1L1562.3 1085.1L1563.9 1085.1L1565.5 1085.8L1567.1 1086.8L1568.7 1085.4L1570.3 1085.8L1571.9 1085.4L1573.5 1085.2L1575.1 1085.2L1576.7 1085.9L1578.3 1084.6L1579.9 1086.5L1581.5 1086.1L1583.1 1085.4L1584.7 1084.3L1586.3 1085.9L1587.9 1086.4L1589.5 1086.8L1591.1 1086.4L1592.7 1087.4L1594.3 1087.8L1595.9 1088.4L1597.5 1087.3L1599.1 1087.2L1600.7 1086.0L1602.3 1085.9L1603.9 1085.4L1605.5 1085.5L1607.1 1085.5L1608.7 1085.5L1610.3 1085.5L1611.9 1085.6L1613.5 1085.2L1615.1 1084.8L1616.7 1084.8L1618.3 1085.8L1619.9 1086.3L1621.5 1086.9L1623.1 1088.3L1624.7 1086.3L1626.3 1086.8L1627.9 1085.3L1629.5 1085.2L1631.1 1084.9L1632.7 1085.6L1634.3 1086.9L1635.9 1087.8L1637.5 1087.3L1639.1 1087.6L1640.7 1087.3L1642.3 1085.8L1643.9 1087.5L1645.5 1086.5L1647.1 1086.1L1648.7 1086.2L1650.3 1085.6L1651.9 1085.6L1653.5 1086.8L1655.1 1086.0L1656.7 1085.9L1658.3 1084.9L1659.9 1084.4L1661.5 1085.9L1663.1 1086.8L1664.7 1086.7L1666.3 1088.3L1667.9 1087.0L1669.5 1087.6L1671.1 1087.0L1672.7 1087.3L1674.3 1088.0L1675.9 1086.9L1677.5 1088.6L1679.1 1088.4L1680.7 1088.4L1682.3 1088.4L1683.9 1088.8L1685.5 1087.8L1687.1 1087.4L1688.7 1088.6L1690.3 1088.8L1691.9 1088.8L1693.5 1089.4L1695.1 1090.9L1696.7 1089.5L1698.3 1087.8L1699.9 1088.7L1701.5 1088.1L1703.1 1089.1L1704.7 1089.1L1706.3 1089.9L1707.9 1091.9L1709.5 1091.4L1711.1 1089.9L1712.7 1089.7L1714.3 1089.7L1715.9 1089.5L1717.5 1091.0L1719.1 1091.6L1720.7 1092.7L1722.3 1093.1L1723.9 1092.7L1725.5 1092.2L1727.1 1092.1L1728.7 1092.5L1730.3 1092.3L1731.9 1091.6L1733.5 1094.5L1735.1 1095.3L1736.7 1094.4L1738.3 1094.0L1739.9 1093.9L1741.5 1094.6L1743.1 1094.5L1744.7 1093.0L1746.3 1094.3L1747.9 1095.3L1749.5 1094.4L1751.1 1094.0L1752.7 1095.0L1754.3 1094.7L1755.9 1096.5L1757.5 1097.3L1759.1 1095.7L1760.7 1096.8L1762.3 1095.9L1763.9 1096.1L1765.5 1098.0L1767.1 1097.8L1768.7 1098.5L1770.3 1098.1L1771.9 1100.0L1773.5 1099.4L1775.1 1101.7L1776.7 1100.9L1778.3 1099.8L1779.9 1099.8L1781.5 1099.6L1783.1 1101.0L1784.7 1099.8L1786.3 1100.8L1787.9 1101.9L1789.5 1102.2L1791.1 1100.5L1792.7 1101.9L1794.3 1102.3L1795.9 1102.9L1797.5 1101.5L1799.1 1101.8L1800.7 1102.9L1802.3 1102.7L1803.9 1102.8L1805.5 1102.4L1807.1 1102.5L1808.7 1102.8L1810.3 1105.1L1811.9 1104.2L1813.5 1103.5L1815.1 1102.8L1816.7 1103.8L1818.3 1104.2L1819.9 1103.9L1821.5 1102.9L1823.1 1105.4L1824.7 1105.1L1826.3 1104.6L1827.9 1105.2L1829.5 1104.7L1831.1 1105.0L1832.7 1103.9L1834.3 1104.5L1835.9 1103.3L1837.5 1105.5L1839.1 1106.0L1840.7 1106.2L1842.3 1106.6L1843.9 1105.7L1845.5 1106.4L1847.1 1106.9L1848.7 1107.9L1850.3 1107.2L1851.9 1107.1L1853.5 1107.5L1855.1 1108.0L1856.7 1108.2L1858.3 1108.5L1859.9 1109.3L1861.5 1109.2L1863.1 1109.3L1864.7 1109.1L1866.3 1108.0L1867.9 1109.1L1869.5 1109.0L1871.1 1109.2L1872.7 1108.5L1874.3 1110.7L1875.9 1111.3L1877.5 1110.5L1879.1 1111.0L1880.7 1111.6L1882.3 1112.9L1883.9 1112.1L1885.5 1112.4L1887.1 1111.1L1888.7 1111.1L1890.3 1111.2L1891.9 1111.2L1893.5 1110.6L1895.1 1111.8L1896.7 1111.2L1898.3 1111.1L1899.9 1111.7L1901.5 1113.3L1903.1 1113.9L1904.7 1113.2L1906.3 1112.1L1907.9 1111.3" stroke="#b536ab" stroke-width="6.2"/>
<path d="M1125.5 1279.9L1126.3 1280.4L1127.1 1280.7L1127.9 1280.9L1128.7 1281.1L1129.5 1281.2L1130.3 1281.5L1131.1 1281.6L1131.9 1281.7L1132.7 1281.8L1133.5 1282.0L1134.3 1282.3L1135.1 1282.7L1135.9 1288.0L1136.7 1293.7L1137.5 1299.4L1138.3 1305.1L1139.1 1310.8L1139.9 1315.5L1140.7 1320.0L1141.5 1324.2L1142.3 1328.6L1143.1 1329.5L1143.9 1329.7L1144.7 1329.5L1145.5 1329.3L1146.3 1328.8L1147.1 1328.8L1147.9 1328.4L1148.7 1328.4L1149.5 1328.0L1150.3 1321.2L1151.1 1310.5L1151.9 1299.4L1152.7 1288.6L1153.5 1289.9L1154.3 1291.2L1155.1 1292.3L1155.9 1295.8L1156.7 1303.2L1157.5 1310.0L1158.3 1317.1L1159.1 1324.3L1159.9 1323.6L1160.7 1321.7L1161.5 1320.2L1162.3 1318.6L1163.1 1316.9L1163.9 1315.2L1164.7 1313.5L1165.5 1311.5L1166.3 1310.2L1167.1 1310.4L1167.9 1310.3L1168.7 1310.4L1169.5 1310.5L1170.3 1310.4L1171.1 1310.4L1171.9 1310.7L1172.7 1310.7L1173.5 1311.1L1174.3 1313.0L1175.1 1314.8L1175.9 1316.7L1176.7 1318.6L1177.5 1320.4L1178.3 1322.2L1179.1 1323.8L1179.9 1323.3L1180.7 1323.3L1181.5 1323.0L1182.3 1322.6L1183.1 1322.3L1183.9 1322.1L1184.7 1321.6L1185.5 1321.1L1186.3 1321.1L1187.1 1321.1L1187.9 1320.9L1188.7 1321.5L1189.5 1322.1L1190.3 1322.6L1191.1 1323.3L1191.9 1324.0L1192.7 1324.6L1193.5 1325.2L1194.3 1323.9L1195.1 1322.1L1195.9 1320.2L1196.7 1318.4L1197.5 1316.8L1198.3 1315.0L1199.1 1313.4L1199.9 1311.6L1200.7 1309.6L1201.5 1309.2L1202.3 1308.9L1203.1 1308.9L1203.9 1309.0L1204.7 1309.0L1205.5 1309.1L1206.3 1309.1L1207.1 1308.6L1207.9 1307.7L1208.7 1306.5L1209.5 1305.3L1210.3 1304.2L1211.1 1303.1L1211.9 1302.0L1212.7 1300.8L1213.5 1299.8L1214.3 1298.6L1215.1 1297.2L1215.9 1295.5L1216.7 1294.0L1217.5 1292.3L1218.3 1290.8L1219.1 1289.5L1219.9 1287.6L1220.7 1286.0L1221.5 1284.2L1222.3 1281.8L1223.1 1279.6L1223.9 1277.4L1224.7 1275.3L1225.5 1273.1L1226.3 1270.8L1227.1 1268.5L1227.9 1266.0L1228.7 1264.0L1229.5 1258.5L1230.3 1252.5L1231.1 1246.7L1231.9 1241.0L1232.7 1235.1L1233.5 1229.6L1234.3 1224.3L1235.1 1219.1L1235.9 1213.8L1236.7 1212.1L1237.5 1211.9L1238.3 1211.6L1239.1 1211.3L1239.9 1211.2L1240.7 1212.0L1241.5 1215.0L1242.3 1217.8L1243.1 1220.5L1243.9 1223.4L1244.7 1226.3L1245.5 1226.3L1246.3 1225.3L1247.1 1223.9L1247.9 1222.3L1248.7 1221.3L1249.5 1219.4L1250.3 1216.4L1251.1 1212.9L1251.9 1210.4L1252.7 1206.6L1253.5 1203.4L1254.3 1200.5L1255.1 1196.2L1255.9 1193.0L1256.7 1189.4L1257.5 1187.3L1258.3 1184.4L1259.1 1180.7L1259.9 1176.7L1260.7 1173.1L1261.5 1170.7L1262.3 1167.6L1263.1 1165.2L1263.9 1162.1L1264.7 1158.5L1265.5 1157.1L1266.3 1154.4L1267.1 1151.0L1267.9 1148.1L1268.7 1146.3L1269.5 1143.9L1270.3 1140.3L1271.1 1138.7L1271.9 1135.5L1272.7 1133.4L1273.5 1130.1L1274.3 1127.5L1275.1 1125.9L1275.9 1122.8L1276.7 1120.8L1277.5 1118.9L1278.3 1116.3L1279.1 1115.1L1279.9 1113.1L1280.7 1110.7L1281.5 1109.0L1282.3 1107.5L1283.1 1105.8L1283.9 1103.2L1284.7 1101.5L1285.5 1099.5L1286.3 1096.8L1287.1 1094.9L1287.9 1094.5L1288.7 1092.0L1289.5 1090.6L1290.3 1089.8L1291.1 1087.6L1291.9 1085.9L1292.7 1083.9L1293.5 1082.8L1294.3 1080.6L1295.1 1079.7L1295.9 1077.9L1296.7 1076.9L1297.5 1074.7L1298.3 1073.3L1299.1 1073.1L1299.9 1072.3L1300.7 1069.4L1301.5 1069.7L1302.3 1068.2L1303.1 1067.9L1303.9 1067.4L1304.7 1066.0L1305.5 1064.8L1306.3 1062.8L1307.1 1062.6L1307.9 1062.9L1308.7 1061.0L1309.5 1060.9L1310.3 1060.2L1311.1 1059.6L1311.9 1057.8L1312.7 1056.9L1313.5 1056.2L1314.3 1056.3L1315.1 1054.5L1315.9 1053.4L1316.7 1052.2L1317.5 1052.1L1318.3 1050.4L1319.1 1049.8L1319.9 1048.5L1320.7 1048.0L1321.5 1048.0L1322.3 1047.0L1323.1 1046.8L1323.9 1045.7L1324.7 1045.1L1325.5 1044.3L1326.3 1043.2L1327.1 1043.1L1327.9 1042.9L1328.7 1041.7L1329.5 1041.6L1330.3 1041.0L1331.1 1040.1L1331.9 1039.7L1332.7 1039.6L1333.5 1039.3L1334.3 1039.3L1335.1 1038.4L1335.9 1037.7L1336.7 1036.0L1337.5 1035.4L1338.3 1035.4L1339.1 1034.3L1339.9 1033.5L1340.7 1034.4L1341.5 1033.6L1342.3 1032.4L1343.1 1031.0L1343.9 1030.6L1344.7 1032.0L1345.5 1031.3L1346.3 1031.1L1347.1 1030.8L1347.9 1029.9L1348.7 1029.6L1349.5 1029.1L1350.3 1028.5L1351.1 1028.7L1351.9 1027.7L1352.7 1026.9L1353.5 1026.4L1354.3 1027.0L1355.1 1026.2L1355.9 1026.9L1356.7 1025.4L1357.5 1024.6L1358.3 1023.0L1359.1 1022.9L1359.9 1023.3L1360.7 1023.7L1361.5 1022.9L1362.3 1022.6L1363.1 1023.4L1363.9 1022.7L1364.7 1022.5L1365.5 1022.6L1366.3 1021.7L1367.1 1022.2L1367.9 1021.7L1368.7 1021.9L1369.5 1021.3L1370.3 1021.2L1371.1 1021.6L1371.9 1021.2L1372.7 1019.8L1373.5 1019.7L1374.3 1019.5L1375.1 1019.4L1375.9 1019.5L1376.7 1018.5L1377.5 1019.7L1378.3 1018.9L1379.1 1019.5L1379.9 1018.9L1380.7 1018.5L1381.5 1018.3L1382.3 1018.0L1383.1 1018.2L1383.9 1018.7L1384.7 1019.2L1385.5 1019.5L1386.3 1017.9L1387.1 1017.9L1387.9 1017.7L1388.7 1017.3L1389.5 1017.2L1390.3 1016.9L1391.1 1016.0L1391.9 1015.6L1392.7 1016.3L1393.5 1016.2L1394.3 1016.8L1395.1 1016.1L1395.9 1015.6L1396.7 1015.7L1397.5 1015.7L1398.3 1016.1L1399.1 1015.5L1399.9 1015.8L1400.7 1015.7L1401.5 1014.9L1402.3 1014.8L1403.1 1014.7L1403.9 1015.3L1404.7 1015.7L1405.5 1015.6L1406.3 1014.8L1407.1 1015.0L1407.9 1014.8L1408.7 1014.2L1409.5 1014.5L1410.3 1013.9L1411.1 1013.7L1411.9 1013.1L1412.7 1012.6L1413.5 1013.1L1414.3 1012.4L1415.1 1012.4L1415.9 1012.5L1416.7 1013.0L1417.5 1012.6L1418.3 1013.1L1419.1 1012.6L1419.9 1012.2L1420.7 1011.9L1421.5 1011.9L1422.3 1011.7L1423.1 1011.2L1423.9 1011.2L1424.7 1011.1L1425.5 1012.0L1426.3 1011.4L1427.1 1011.7L1427.9 1011.2L1428.7 1011.8L1429.5 1011.6L1430.3 1011.2L1431.1 1011.9L1431.9 1012.4L1432.7 1012.7L1433.5 1012.5L1434.3 1011.9L1435.1 1011.1L1435.9 1010.6L1436.7 1010.3L1437.5 1010.6L1438.3 1010.3L1439.1 1010.4L1439.9 1010.4L1440.7 1010.2L1441.5 1009.7L1442.3 1009.2L1443.1 1010.8L1443.9 1010.3L1444.7 1009.1L1445.5 1008.6L1446.3 1008.6L1447.1 1009.9L1447.9 1009.8L1448.7 1009.1L1449.5 1010.1L1450.3 1008.7L1451.1 1009.5L1451.9 1010.9L1452.7 1010.3L1453.5 1010.4L1454.3 1010.3L1455.1 1008.2L1455.9 1008.8L1456.7 1008.7L1457.5 1007.4L1458.3 1008.6L1459.1 1008.6L1459.9 1009.0L1460.7 1009.4L1461.5 1009.0L1462.3 1007.9L1463.1 1008.2L1463.9 1008.2L1464.7 1008.0L1465.5 1008.1L1466.3 1008.6L1467.1 1009.8L1467.9 1009.7L1468.7 1009.7L1469.5 1010.2L1470.3 1010.2L1471.1 1009.8L1471.9 1009.3L1472.7 1008.7L1473.5 1009.6L1474.3 1009.5L1475.1 1010.2L1475.9 1009.5L1476.7 1009.2L1477.5 1009.6L1478.3 1010.4L1479.1 1010.0L1479.9 1009.5L1480.7 1009.9L1481.5 1009.0L1482.3 1010.0L1483.1 1009.1L1483.9 1008.5L1484.7 1009.0L1485.5 1009.0L1486.3 1010.1L1487.1 1010.4L1487.9 1010.4L1488.7 1009.0L1489.5 1009.3L1490.3 1009.0L1491.1 1008.3L1491.9 1009.9L1492.7 1008.8L1493.5 1008.7L1494.3 1008.7L1495.1 1008.8L1495.9 1009.3L1496.7 1009.8L1497.5 1009.2L1498.3 1009.7L1499.1 1010.2L1499.9 1010.3L1500.7 1011.1L1501.5 1010.4L1502.3 1010.1L1503.1 1009.8L1503.9 1009.3L1504.7 1009.6L1505.5 1010.5L1506.3 1010.7L1507.1 1010.5L1507.9 1010.5L1508.7 1011.2L1509.5 1011.5L1510.3 1010.1L1511.1 1009.5L1511.9 1010.4L1512.7 1010.9L1513.5 1011.1L1514.3 1011.4L1515.1 1010.5L1515.9 1009.8L1516.7 1010.4L1517.5 1009.8L1518.3 1010.3L1519.1 1011.6L1519.9 1010.3L1520.7 1010.8L1521.5 1011.7L1522.3 1012.1L1523.1 1011.4L1523.9 1010.7L1524.7 1010.8L1525.5 1010.2L1526.3 1010.6L1527.1 1010.6L1527.9 1010.6L1528.7 1011.3L1529.5 1011.2L1530.3 1010.9L1531.1 1010.9L1531.9 1010.9L1532.7 1010.9L1533.5 1010.8L1534.3 1011.5L1535.1 1011.2L1535.9 1011.9L1536.7 1012.0L1537.5 1012.4L1538.3 1012.2L1539.1 1011.2L1539.9 1012.7L1540.7 1012.0L1541.5 1011.2L1542.3 1011.5L1543.1 1011.7L1543.9 1010.6L1544.7 1010.2L1545.5 1010.6L1546.3 1010.9L1547.1 1010.6L1547.9 1010.6L1548.7 1011.1L1549.5 1010.8L1550.3 1011.5L1551.1 1011.8L1551.9 1011.6L1552.7 1012.7L1553.5 1013.3L1554.3 1012.0L1555.1 1012.0L1555.9 1012.9L1556.7 1012.2L1557.5 1011.0L1558.3 1011.0L1559.1 1011.1L1559.9 1011.2L1560.7 1011.9L1561.5 1012.4L1562.3 1012.8L1563.1 1011.6L1563.9 1011.6L1564.7 1012.6L1565.5 1012.3L1566.3 1011.8L1567.1 1012.0L1567.9 1013.6L1568.7 1012.5L1569.5 1012.4L1570.3 1012.4L1571.1 1012.1L1571.9 1012.4L1572.7 1012.3L1573.5 1011.9L1574.3 1012.2L1575.1 1012.3L1575.9 1012.4L1576.7 1012.8L1577.5 1013.3L1578.3 1013.6L1579.1 1013.8L1579.9 1013.0L1580.7 1013.2L1581.5 1013.2L1582.3 1012.8L1583.1 1013.2L1583.9 1013.2L1584.7 1013.3L1585.5 1013.7L1586.3 1013.0L1587.1 1013.3L1587.9 1013.0L1588.7 1013.1L1589.5 1013.1L1590.3 1013.8L1591.1 1014.2L1591.9 1014.4L1592.7 1013.6L1593.5 1013.9L1594.3 1014.9L1595.1 1015.3L1595.9 1015.2L1596.7 1014.9L1597.5 1014.2L1598.3 1014.5L1599.1 1013.7L1599.9 1013.9L1600.7 1013.4L1601.5 1013.3L1602.3 1013.1L1603.1 1013.9L1603.9 1014.0L1604.7 1014.4L1605.5 1014.9L1606.3 1015.1L1607.1 1014.6L1607.9 1014.9L1608.7 1014.2L1609.5 1014.2L1610.3 1014.9L1611.1 1014.9L1611.9 1015.0L1612.7 1015.1L1613.5 1016.5L1614.3 1015.0L1615.1 1014.6L1615.9 1015.7L1616.7 1014.9L1617.5 1015.2L1618.3 1016.2L1619.1 1015.0L1619.9 1015.2L1620.7 1015.9L1621.5 1016.6L1622.3 1016.0L1623.1 1016.3L1623.9 1016.0L1624.7 1016.3L1625.5 1016.0L1626.3 1016.4L1627.1 1016.8L1627.9 1017.1L1628.7 1016.7L1629.5 1016.2L1630.3 1016.6L1631.1 1017.2L1631.9 1017.3L1632.7 1016.6L1633.5 1016.7L1634.3 1016.8L1635.1 1016.4L1635.9 1017.9L1636.7 1017.4L1637.5 1017.1L1638.3 1017.1L1639.1 1016.5L1639.9 1016.6L1640.7 1016.6L1641.5 1016.5L1642.3 1016.6L1643.1 1015.2L1643.9 1016.2L1644.7 1016.6L1645.5 1016.6L1646.3 1016.6L1647.1 1015.9L1647.9 1016.4L1648.7 1017.1L1649.5 1017.6L1650.3 1017.8L1651.1 1017.7L1651.9 1018.6L1652.7 1019.3L1653.5 1018.2L1654.3 1019.2L1655.1 1019.2L1655.9 1018.2L1656.7 1018.3L1657.5 1018.6L1658.3 1019.8L1659.1 1019.3L1659.9 1019.7L1660.7 1019.1L1661.5 1018.9L1662.3 1019.8L1663.1 1019.2L1663.9 1019.4L1664.7 1019.8L1665.5 1020.0L1666.3 1020.1L1667.1 1020.2L1667.9 1021.3L1668.7 1020.5L1669.5 1020.7L1670.3 1020.0L1671.1 1020.0L1671.9 1019.8L1672.7 1018.9L1673.5 1018.4L1674.3 1019.6L1675.1 1018.4L1675.9 1019.0L1676.7 1019.4L1677.5 1020.4L1678.3 1020.7L1679.1 1021.1L1679.9 1020.6L1680.7 1020.1L1681.5 1019.9L1682.3 1020.4L1683.1 1021.2L1683.9 1021.9L1684.7 1021.4L1685.5 1022.4L1686.3 1022.4L1687.1 1022.1L1687.9 1021.2L1688.7 1021.9L1689.5 1022.4L1690.3 1022.3L1691.1 1021.6L1691.9 1021.2L1692.7 1023.0L1693.5 1022.6L1694.3 1023.8L1695.1 1023.9L1695.9 1024.1L1696.7 1024.6L1697.5 1024.0L1698.3 1023.9L1699.1 1022.6L1699.9 1022.5L1700.7 1022.5L1701.5 1023.4L1702.3 1023.0L1703.1 1024.3L1703.9 1024.0L1704.7 1024.5L1705.5 1024.5L1706.3 1024.7L1707.1 1024.4L1707.9 1025.2L1708.7 1025.1L1709.5 1024.5L1710.3 1023.2L1711.1 1024.7L1711.9 1024.7L1712.7 1024.7L1713.5 1024.3L1714.3 1025.3L1715.1 1024.7L1715.9 1025.6L1716.7 1026.2L1717.5 1026.5L1718.3 1026.5L1719.1 1025.7L1719.9 1026.9L1720.7 1026.8L1721.5 1027.1L1722.3 1026.5L1723.1 1026.4L1723.9 1026.1L1724.7 1026.5L1725.5 1026.5L1726.3 1025.7L1727.1 1025.3L1727.9 1025.5L1728.7 1025.4L1729.5 1026.3L1730.3 1027.2L1731.1 1027.7L1731.9 1027.3L1732.7 1028.6L1733.5 1027.8L1734.3 1028.0L1735.1 1027.4L1735.9 1026.6L1736.7 1027.9L1737.5 1027.3L1738.3 1027.4L1739.1 1027.1L1739.9 1027.4L1740.7 1027.9L1741.5 1028.2L1742.3 1029.1L1743.1 1028.9L1743.9 1029.7L1744.7 1030.0L1745.5 1029.6L1746.3 1029.4L1747.1 1029.9L1747.9 1029.8L1748.7 1030.0L1749.5 1029.4L1750.3 1029.1L1751.1 1030.1L1751.9 1030.1L1752.7 1030.8L1753.5 1031.7L1754.3 1031.4L1755.1 1031.0L1755.9 1031.9L1756.7 1032.0L1757.5 1031.3L1758.3 1031.9L1759.1 1030.8L1759.9 1030.8L1760.7 1031.6L1761.5 1032.1L1762.3 1033.0L1763.1 1032.9L1763.9 1033.7L1764.7 1033.8L1765.5 1032.8L1766.3 1032.4L1767.1 1032.5L1767.9 1033.8L1768.7 1034.1L1769.5 1034.3L1770.3 1034.3L1771.1 1033.3L1771.9 1033.7L1772.7 1033.8L1773.5 1033.6L1774.3 1034.6L1775.1 1035.3L1775.9 1035.9L1776.7 1035.8L1777.5 1034.8L1778.3 1035.3L1779.1 1034.5L1779.9 1034.9L1780.7 1035.4L1781.5 1035.8L1782.3 1035.6L1783.1 1036.0L1783.9 1035.7L1784.7 1035.3L1785.5 1035.0L1786.3 1035.0L1787.1 1034.9L1787.9 1035.7L1788.7 1035.5L1789.5 1035.7L1790.3 1036.5L1791.1 1036.8L1791.9 1036.9L1792.7 1036.7L1793.5 1036.1L1794.3 1035.9L1795.1 1036.4L1795.9 1037.1L1796.7 1036.0L1797.5 1036.4L1798.3 1036.8L1799.1 1036.0L1799.9 1037.0L1800.7 1037.0L1801.5 1036.9L1802.3 1038.1L1803.1 1038.7L1803.9 1039.1L1804.7 1039.0L1805.5 1038.4L1806.3 1038.1L1807.1 1037.2L1807.9 1038.1L1808.7 1038.5L1809.5 1038.5L1810.3 1039.0L1811.1 1039.1L1811.9 1040.2L1812.7 1040.1L1813.5 1040.2L1814.3 1040.1L1815.1 1040.2L1815.9 1039.4L1816.7 1039.5L1817.5 1039.8L1818.3 1039.9L1819.1 1040.3L1819.9 1040.5L1820.7 1039.9L1821.5 1039.6L1822.3 1039.7L1823.1 1039.0L1823.9 1040.3L1824.7 1041.1L1825.5 1041.5L1826.3 1041.0L1827.1 1041.5L1827.9 1041.2L1828.7 1040.7L1829.5 1040.3L1830.3 1040.7L1831.1 1040.8L1831.9 1041.1L1832.7 1040.9L1833.5 1041.6L1834.3 1041.3L1835.1 1041.8L1835.9 1041.0L1836.7 1041.8L1837.5 1042.2L1838.3 1042.3L1839.1 1041.7L1839.9 1041.9L1840.7 1042.2L1841.5 1042.3L1842.3 1043.3L1843.1 1043.2L1843.9 1043.3L1844.7 1043.9L1845.5 1043.6L1846.3 1043.7L1847.1 1043.2L1847.9 1043.1L1848.7 1042.3L1849.5 1042.9L1850.3 1042.3L1851.1 1043.3L1851.9 1043.5L1852.7 1044.1L1853.5 1043.8L1854.3 1044.3L1855.1 1044.3L1855.9 1044.1L1856.7 1044.3L1857.5 1044.1L1858.3 1044.1L1859.1 1044.6L1859.9 1045.0L1860.7 1045.3L1861.5 1045.5L1862.3 1045.4L1863.1 1046.0L1863.9 1045.5L1864.7 1045.8L1865.5 1045.6L1866.3 1045.0L1867.1 1044.9L1867.9 1045.1L1868.7 1046.2L1869.5 1046.7L1870.3 1046.2L1871.1 1047.1L1871.9 1047.0L1872.7 1047.0L1873.5 1046.3L1874.3 1046.8L1875.1 1046.4L1875.9 1046.1L1876.7 1046.7L1877.5 1047.1L1878.3 1047.3L1879.1 1046.6L1879.9 1046.1L1880.7 1047.2L1881.5 1048.5L1882.3 1048.0L1883.1 1048.5L1883.9 1048.4L1884.7 1048.3L1885.5 1047.2L1886.3 1047.2L1887.1 1047.5L1887.9 1047.7L1888.7 1047.9L1889.5 1048.0L1890.3 1047.4L1891.1 1048.2L1891.9 1048.2L1892.7 1048.9L1893.5 1048.8L1894.3 1049.4L1895.1 1050.3L1895.9 1050.1L1896.7 1049.6L1897.5 1049.9L1898.3 1049.8L1899.1 1050.0L1899.9 1049.3L1900.7 1049.8L1901.5 1049.5L1902.3 1049.4L1903.1 1050.1L1903.9 1050.2L1904.7 1050.5L1905.5 1051.1L1906.3 1050.5L1907.1 1050.7L1907.9 1050.6L1908.7 1050.0" stroke="#87209b" stroke-width="6.4"/>
</g>
<rect x="1124.9" y="781" width="785.6" height="549.4" fill="none" stroke="#0a0a0a" stroke-width="3.2"/>
<line x1="1114.5" y1="1330.4" x2="1124.9" y2="1330.4" stroke="#0a0a0a" stroke-width="3"/>
<text x="1112.0" y="1338.2" font-size="26.3" fill="#0a0a0a" text-anchor="end">0.00</text>
<line x1="1114.5" y1="1269.4" x2="1124.9" y2="1269.4" stroke="#0a0a0a" stroke-width="3"/>
<text x="1112.0" y="1277.2" font-size="26.3" fill="#0a0a0a" text-anchor="end">0.02</text>
<line x1="1114.5" y1="1208.4" x2="1124.9" y2="1208.4" stroke="#0a0a0a" stroke-width="3"/>
<text x="1112.0" y="1216.2" font-size="26.3" fill="#0a0a0a" text-anchor="end">0.04</text>
<line x1="1114.5" y1="1147.3" x2="1124.9" y2="1147.3" stroke="#0a0a0a" stroke-width="3"/>
<text x="1112.0" y="1155.1" font-size="26.3" fill="#0a0a0a" text-anchor="end">0.06</text>
<line x1="1114.5" y1="1086.3" x2="1124.9" y2="1086.3" stroke="#0a0a0a" stroke-width="3"/>
<text x="1112.0" y="1094.1" font-size="26.3" fill="#0a0a0a" text-anchor="end">0.08</text>
<line x1="1114.5" y1="1025.3" x2="1124.9" y2="1025.3" stroke="#0a0a0a" stroke-width="3"/>
<text x="1112.0" y="1033.1" font-size="26.3" fill="#0a0a0a" text-anchor="end">0.10</text>
<line x1="1114.5" y1="964.3" x2="1124.9" y2="964.3" stroke="#0a0a0a" stroke-width="3"/>
<text x="1112.0" y="972.1" font-size="26.3" fill="#0a0a0a" text-anchor="end">0.12</text>
<line x1="1114.5" y1="903.3" x2="1124.9" y2="903.3" stroke="#0a0a0a" stroke-width="3"/>
<text x="1112.0" y="911.1" font-size="26.3" fill="#0a0a0a" text-anchor="end">0.14</text>
<line x1="1114.5" y1="842.2" x2="1124.9" y2="842.2" stroke="#0a0a0a" stroke-width="3"/>
<text x="1112.0" y="850.0" font-size="26.3" fill="#0a0a0a" text-anchor="end">0.16</text>
<line x1="1114.5" y1="781.2" x2="1124.9" y2="781.2" stroke="#0a0a0a" stroke-width="3"/>
<text x="1112.0" y="789.0" font-size="26.3" fill="#0a0a0a" text-anchor="end">0.18</text>
<line x1="1124.9" y1="1330.4" x2="1124.9" y2="1340.6" stroke="#0a0a0a" stroke-width="3"/>
<text x="1124.9" y="1369.0" font-size="26.3" fill="#0a0a0a" text-anchor="middle">0</text>
<line x1="1255.8" y1="1330.4" x2="1255.8" y2="1340.6" stroke="#0a0a0a" stroke-width="3"/>
<text x="1255.8" y="1369.0" font-size="26.3" fill="#0a0a0a" text-anchor="middle">20</text>
<line x1="1386.8" y1="1330.4" x2="1386.8" y2="1340.6" stroke="#0a0a0a" stroke-width="3"/>
<text x="1386.8" y="1369.0" font-size="26.3" fill="#0a0a0a" text-anchor="middle">40</text>
<line x1="1517.7" y1="1330.4" x2="1517.7" y2="1340.6" stroke="#0a0a0a" stroke-width="3"/>
<text x="1517.7" y="1369.0" font-size="26.3" fill="#0a0a0a" text-anchor="middle">60</text>
<line x1="1648.6" y1="1330.4" x2="1648.6" y2="1340.6" stroke="#0a0a0a" stroke-width="3"/>
<text x="1648.6" y="1369.0" font-size="26.3" fill="#0a0a0a" text-anchor="middle">80</text>
<line x1="1779.6" y1="1330.4" x2="1779.6" y2="1340.6" stroke="#0a0a0a" stroke-width="3"/>
<text x="1779.6" y="1369.0" font-size="26.3" fill="#0a0a0a" text-anchor="middle">100</text>
<line x1="1910.5" y1="1330.4" x2="1910.5" y2="1340.6" stroke="#0a0a0a" stroke-width="3"/>
<text x="1910.5" y="1369.0" font-size="26.3" fill="#0a0a0a" text-anchor="middle">120</text>
<text x="1456.0" y="1420.3" font-size="30.4" fill="#0a0a0a" textLength="144.0" lengthAdjust="spacingAndGlyphs">Time (min)</text>
<text transform="translate(1032.1,1175.6) rotate(-90)" font-size="32.3" fill="#0a0a0a" textLength="321.0" lengthAdjust="spacingAndGlyphs">Normalized A at 350 nm</text>
<text x="1351.0" y="991.0" font-size="29.6" fill="#87209b" textLength="107.6" lengthAdjust="spacingAndGlyphs">17.5 μM</text>
<text x="1430.0" y="1066.0" font-size="29.6" fill="#b536ab">15 μM</text>
<text x="1472.3" y="1130.3" font-size="29.6" fill="#cb5db3" textLength="108.6" lengthAdjust="spacingAndGlyphs">12.5 μM</text>
<text x="1552.6" y="1205.3" font-size="29.6" fill="#e391cc" textLength="82.4" lengthAdjust="spacingAndGlyphs">10 μM</text>
<text x="1630.8" y="1278.4" font-size="29.6" fill="#f9cbe8" textLength="66.1" lengthAdjust="spacingAndGlyphs">0 μM</text>
<g clip-path="url(#cDi)" fill="none" stroke-linejoin="round" stroke-linecap="round">
<path d="M1636.8 951.4L1638.3 954.1L1639.8 953.6L1641.3 952.8L1642.8 954.8L1644.3 958.1L1645.8 960.1L1647.3 961.7L1648.8 962.3L1650.3 962.7L1651.8 963.4L1653.3 964.7L1654.8 965.6L1656.3 967.7L1657.8 968.7L1659.3 967.5L1660.8 969.0L1662.3 969.1L1663.8 970.3L1665.3 971.3L1666.8 970.7L1668.3 968.1L1669.8 969.3L1671.3 967.6L1672.8 969.9L1674.3 968.8L1675.8 968.7L1677.3 970.7L1678.8 968.1L1680.3 968.6L1681.8 967.7L1683.3 967.8L1684.8 967.6L1686.3 968.9L1687.8 968.6L1689.3 969.1L1690.8 969.7L1692.3 967.5L1693.8 969.6L1695.3 969.0L1696.8 967.2L1698.3 967.4L1699.8 969.0L1701.3 969.9L1702.8 968.6L1704.3 968.8L1705.8 969.0L1707.3 969.9L1708.8 969.2L1710.3 969.9L1711.8 968.4L1713.3 967.8L1714.8 968.9L1716.3 969.4L1717.8 968.8L1719.3 969.1L1720.8 968.8L1722.3 969.1L1723.8 969.6L1725.3 969.1L1726.8 969.0L1728.3 967.6L1729.8 966.7L1731.3 964.3L1732.8 965.8L1734.3 966.1L1735.8 966.6L1737.3 964.4L1738.8 964.5L1740.3 964.5L1741.8 963.1L1743.3 965.0L1744.8 966.2L1746.3 964.2L1747.8 964.8L1749.3 966.3L1750.8 963.9L1752.3 964.9L1753.8 965.9L1755.3 966.5L1756.8 963.5L1758.3 962.1L1759.8 962.6L1761.3 963.8L1762.8 961.7L1764.3 961.1L1765.8 960.3L1767.3 962.1L1768.8 961.2L1770.3 961.7L1771.8 962.0L1773.3 962.6L1774.8 962.0L1776.3 961.6L1777.8 962.1L1779.3 961.6L1780.8 959.6L1782.3 959.2L1783.8 960.5L1785.3 960.3L1786.8 959.7L1788.3 959.9L1789.8 963.2L1791.3 961.3L1792.8 960.9L1794.3 960.6L1795.8 959.7L1797.3 960.7L1798.8 960.8L1800.3 960.4L1801.8 958.3L1803.3 959.9L1804.8 960.1L1806.3 959.3L1807.8 956.1L1809.3 957.2L1810.8 956.4L1812.3 957.0L1813.8 956.8L1815.3 956.3L1816.8 957.9L1818.3 957.6L1819.8 958.6L1821.3 956.7L1822.8 956.4L1824.3 957.8L1825.8 957.3L1827.3 955.9L1828.8 954.9L1830.3 954.7L1831.8 955.0L1833.3 955.8L1834.8 955.6L1836.3 956.1L1837.8 956.3L1839.3 955.6L1840.8 956.4L1842.3 956.2L1843.8 955.1L1845.3 954.5L1846.8 954.3L1848.3 953.4L1849.8 952.3L1851.3 953.1L1852.8 952.9L1854.3 953.9L1855.8 953.1L1857.3 953.4L1858.8 953.5L1860.3 952.9L1861.8 953.2L1863.3 952.3L1864.8 952.1L1866.3 953.2L1867.8 953.3L1869.3 952.8L1870.8 951.7L1872.3 952.5L1873.8 954.2L1875.3 950.6L1876.8 952.1L1878.3 951.9L1879.8 952.6L1881.3 952.9L1882.8 950.7L1884.3 952.3L1885.8 950.7L1887.3 950.1L1888.8 950.6L1890.3 950.0L1891.8 950.0L1893.3 949.1L1894.8 948.0L1896.3 948.6L1897.8 947.7L1899.3 949.7L1900.8 949.5" stroke="#f9cbe8" stroke-width="6"/>
<path d="M1636.8 960.3L1638.3 961.9L1639.8 961.4L1641.3 961.2L1642.8 962.8L1644.3 965.7L1645.8 967.1L1647.3 967.2L1648.8 968.4L1650.3 970.7L1651.8 969.6L1653.3 971.0L1654.8 971.1L1656.3 971.2L1657.8 971.5L1659.3 970.6L1660.8 970.4L1662.3 971.9L1663.8 970.9L1665.3 970.4L1666.8 969.3L1668.3 969.5L1669.8 970.6L1671.3 971.6L1672.8 971.5L1674.3 971.5L1675.8 971.5L1677.3 971.3L1678.8 971.7L1680.3 971.0L1681.8 971.6L1683.3 971.0L1684.8 969.5L1686.3 969.0L1687.8 969.6L1689.3 969.7L1690.8 969.1L1692.3 969.2L1693.8 970.0L1695.3 970.6L1696.8 971.2L1698.3 970.2L1699.8 970.6L1701.3 971.4L1702.8 971.2L1704.3 972.3L1705.8 971.0L1707.3 970.8L1708.8 970.8L1710.3 970.3L1711.8 970.4L1713.3 970.6L1714.8 970.5L1716.3 970.0L1717.8 969.8L1719.3 969.9L1720.8 968.8L1722.3 969.5L1723.8 968.8L1725.3 969.0L1726.8 968.4L1728.3 968.9L1729.8 968.7L1731.3 968.7L1732.8 968.2L1734.3 968.5L1735.8 969.8L1737.3 967.7L1738.8 968.4L1740.3 968.4L1741.8 967.9L1743.3 966.8L1744.8 968.4L1746.3 968.0L1747.8 968.3L1749.3 967.3L1750.8 966.3L1752.3 967.2L1753.8 967.1L1755.3 966.2L1756.8 965.6L1758.3 965.8L1759.8 964.7L1761.3 963.9L1762.8 964.0L1764.3 964.7L1765.8 964.8L1767.3 964.2L1768.8 964.6L1770.3 963.5L1771.8 962.6L1773.3 964.2L1774.8 962.6L1776.3 962.6L1777.8 962.4L1779.3 961.8L1780.8 961.5L1782.3 961.6L1783.8 961.4L1785.3 960.3L1786.8 960.1L1788.3 961.0L1789.8 960.8L1791.3 959.7L1792.8 959.4L1794.3 958.3L1795.8 957.5L1797.3 957.5L1798.8 959.1L1800.3 958.0L1801.8 956.3L1803.3 956.8L1804.8 956.5L1806.3 957.3L1807.8 958.0L1809.3 957.0L1810.8 956.8L1812.3 955.7L1813.8 956.8L1815.3 955.6L1816.8 955.6L1818.3 957.2L1819.8 955.4L1821.3 955.2L1822.8 954.8L1824.3 954.9L1825.8 954.9L1827.3 955.5L1828.8 955.0L1830.3 954.7L1831.8 952.9L1833.3 953.2L1834.8 951.9L1836.3 953.0L1837.8 952.5L1839.3 952.8L1840.8 951.7L1842.3 951.5L1843.8 951.1L1845.3 951.0L1846.8 950.3L1848.3 949.4L1849.8 948.9L1851.3 948.3L1852.8 947.6L1854.3 946.8L1855.8 946.0L1857.3 948.1L1858.8 946.8L1860.3 945.8L1861.8 946.7L1863.3 946.4L1864.8 945.8L1866.3 946.4L1867.8 947.1L1869.3 945.2L1870.8 945.9L1872.3 945.5L1873.8 945.6L1875.3 944.3L1876.8 945.2L1878.3 945.2L1879.8 942.1L1881.3 943.5L1882.8 944.1L1884.3 942.0L1885.8 942.1L1887.3 941.5L1888.8 941.2L1890.3 939.9L1891.8 940.0L1893.3 939.8L1894.8 938.6L1896.3 938.0L1897.8 936.2L1899.3 936.9L1900.8 935.7" stroke="#e391cc" stroke-width="4"/>
<path d="M1636.8 943.9L1638.3 946.5L1639.8 949.3L1641.3 951.5L1642.8 953.6L1644.3 957.3L1645.8 961.1L1647.3 963.2L1648.8 967.1L1650.3 966.8L1651.8 968.4L1653.3 969.4L1654.8 969.2L1656.3 968.8L1657.8 969.0L1659.3 969.5L1660.8 970.1L1662.3 968.9L1663.8 969.3L1665.3 969.0L1666.8 969.8L1668.3 969.4L1669.8 969.5L1671.3 970.1L1672.8 969.7L1674.3 969.7L1675.8 969.3L1677.3 969.3L1678.8 968.5L1680.3 968.6L1681.8 968.9L1683.3 969.0L1684.8 970.5L1686.3 968.9L1687.8 968.2L1689.3 969.2L1690.8 969.8L1692.3 970.0L1693.8 970.5L1695.3 971.4L1696.8 970.4L1698.3 969.5L1699.8 969.7L1701.3 970.5L1702.8 970.5L1704.3 970.3L1705.8 970.4L1707.3 970.5L1708.8 969.5L1710.3 970.1L1711.8 969.8L1713.3 969.9L1714.8 969.8L1716.3 969.9L1717.8 970.4L1719.3 969.9L1720.8 969.7L1722.3 969.9L1723.8 969.5L1725.3 968.6L1726.8 968.7L1728.3 968.0L1729.8 967.5L1731.3 967.3L1732.8 967.8L1734.3 966.6L1735.8 966.0L1737.3 965.9L1738.8 965.1L1740.3 965.1L1741.8 965.4L1743.3 963.9L1744.8 963.9L1746.3 963.3L1747.8 964.2L1749.3 963.8L1750.8 963.3L1752.3 962.5L1753.8 961.5L1755.3 961.3L1756.8 961.2L1758.3 960.7L1759.8 961.2L1761.3 960.7L1762.8 959.4L1764.3 958.8L1765.8 958.7L1767.3 957.6L1768.8 957.4L1770.3 956.9L1771.8 956.8L1773.3 956.5L1774.8 955.6L1776.3 955.8L1777.8 954.6L1779.3 954.2L1780.8 952.7L1782.3 951.6L1783.8 950.6L1785.3 949.8L1786.8 949.5L1788.3 947.7L1789.8 948.0L1791.3 946.1L1792.8 946.1L1794.3 944.8L1795.8 943.3L1797.3 942.6L1798.8 940.9L1800.3 939.6L1801.8 938.3L1803.3 938.4L1804.8 935.5L1806.3 934.6L1807.8 931.9L1809.3 929.1L1810.8 926.5L1812.3 924.8L1813.8 921.8L1815.3 918.7L1816.8 916.7L1818.3 914.4L1819.8 912.7L1821.3 909.9L1822.8 909.2L1824.3 908.0L1825.8 905.7L1827.3 904.1L1828.8 902.8L1830.3 900.8L1831.8 899.4L1833.3 897.5L1834.8 895.0L1836.3 892.0L1837.8 888.9L1839.3 887.3L1840.8 884.5L1842.3 883.1L1843.8 881.6L1845.3 878.7L1846.8 876.4L1848.3 874.2L1849.8 871.6L1851.3 868.1L1852.8 865.1L1854.3 862.7L1855.8 860.5L1857.3 857.6L1858.8 855.4L1860.3 853.5L1861.8 850.4L1863.3 847.7L1864.8 844.5L1866.3 841.9L1867.8 839.8L1869.3 837.6L1870.8 834.5L1872.3 831.1L1873.8 829.5L1875.3 825.4L1876.8 822.9L1878.3 820.3L1879.8 818.2L1881.3 816.3L1882.8 813.8L1884.3 813.5L1885.8 811.6L1887.3 808.9L1888.8 805.8L1890.3 802.7L1891.8 801.4L1893.3 799.5L1894.8 797.2L1896.3 796.5L1897.8 795.2L1899.3 792.9L1900.8 791.0" stroke="#cb5db3" stroke-width="3.4"/>
<path d="M1636.8 956.1L1638.3 958.3L1639.8 959.2L1641.3 960.7L1642.8 961.2L1644.3 964.2L1645.8 966.3L1647.3 968.6L1648.8 969.9L1650.3 970.4L1651.8 970.7L1653.3 971.3L1654.8 971.6L1656.3 971.4L1657.8 971.9L1659.3 970.9L1660.8 971.3L1662.3 972.3L1663.8 972.2L1665.3 971.3L1666.8 971.8L1668.3 971.7L1669.8 971.4L1671.3 971.1L1672.8 971.3L1674.3 971.6L1675.8 971.4L1677.3 972.0L1678.8 971.3L1680.3 971.6L1681.8 970.7L1683.3 970.1L1684.8 970.5L1686.3 970.8L1687.8 971.6L1689.3 971.1L1690.8 971.1L1692.3 970.5L1693.8 970.6L1695.3 970.9L1696.8 970.6L1698.3 971.0L1699.8 971.2L1701.3 970.8L1702.8 970.2L1704.3 969.6L1705.8 969.4L1707.3 968.4L1708.8 968.4L1710.3 967.4L1711.8 967.0L1713.3 965.9L1714.8 965.1L1716.3 964.4L1717.8 964.3L1719.3 963.7L1720.8 963.0L1722.3 962.7L1723.8 961.4L1725.3 961.0L1726.8 959.9L1728.3 958.8L1729.8 958.0L1731.3 957.8L1732.8 957.5L1734.3 956.0L1735.8 954.7L1737.3 953.3L1738.8 952.9L1740.3 952.4L1741.8 951.6L1743.3 950.7L1744.8 950.0L1746.3 948.5L1747.8 947.2L1749.3 945.5L1750.8 943.6L1752.3 941.2L1753.8 940.1L1755.3 938.3L1756.8 936.5L1758.3 934.6L1759.8 932.8L1761.3 930.9L1762.8 927.8L1764.3 925.8L1765.8 923.9L1767.3 921.6L1768.8 918.9L1770.3 916.2L1771.8 912.6L1773.3 910.0L1774.8 906.8L1776.3 903.6L1777.8 900.5L1779.3 896.9L1780.8 892.6L1782.3 888.2L1783.8 884.5L1785.3 880.8L1786.8 876.9L1788.3 873.2L1789.8 868.9L1791.3 864.5L1792.8 859.2L1794.3 855.2L1795.8 850.8L1797.3 847.1L1798.8 842.4L1800.3 837.3L1801.8 832.8L1803.3 828.5L1804.8 823.5L1806.3 818.5L1807.8 814.6L1809.3 810.0L1810.8 805.6L1812.3 803.5L1813.8 801.2L1815.3 799.4L1816.8 797.1" stroke="#b536ab" stroke-width="3.4"/>
<path d="M1636.8 898.9L1637.6 899.1L1638.4 899.5L1639.2 899.7L1640.0 899.9L1640.8 899.8L1641.6 900.1L1642.4 900.3L1643.2 900.7L1644.0 904.6L1644.8 909.4L1645.6 914.0L1646.4 919.5L1647.2 932.0L1648.0 944.6L1648.8 956.5L1649.6 968.5L1650.4 973.5L1651.2 973.8L1652.0 973.7L1652.8 973.7L1653.6 973.5L1654.4 973.4L1655.2 973.3L1656.0 973.5L1656.8 973.4L1657.6 973.2L1658.4 971.0L1659.2 961.4L1660.0 951.7L1660.8 942.4L1661.6 932.9L1662.4 925.0L1663.2 918.7L1664.0 912.5L1664.8 916.1L1665.6 922.1L1666.4 927.6L1667.2 933.9L1668.0 941.1L1668.8 948.5L1669.6 955.7L1670.4 959.8L1671.2 959.6L1672.0 958.8L1672.8 958.5L1673.6 957.9L1674.4 957.2L1675.2 953.9L1676.0 950.4L1676.8 946.8L1677.6 943.7L1678.4 945.8L1679.2 948.1L1680.0 950.0L1680.8 950.9L1681.6 949.0L1682.4 947.3L1683.2 945.9L1684.0 947.7L1684.8 951.3L1685.6 954.7L1686.4 958.2L1687.2 959.3L1688.0 959.6L1688.8 960.1L1689.6 960.9L1690.4 961.4L1691.2 961.7L1692.0 962.4L1692.8 962.9L1693.6 963.6L1694.4 964.0L1695.2 964.3L1696.0 964.3L1696.8 963.5L1697.6 962.6L1698.4 961.6L1699.2 960.6L1700.0 960.1L1700.8 961.2L1701.6 962.7L1702.4 964.1L1703.2 963.7L1704.0 961.8L1704.8 960.0L1705.6 958.1L1706.4 956.3L1707.2 954.5L1708.0 952.4L1708.8 950.3L1709.6 947.9L1710.4 945.9L1711.2 943.4L1712.0 942.0L1712.8 941.8L1713.6 941.6L1714.4 941.3L1715.2 941.1L1716.0 940.6L1716.8 941.4L1717.6 942.6L1718.4 944.0L1719.2 945.2L1720.0 942.4L1720.8 939.7L1721.6 937.0L1722.4 934.4L1723.2 931.9L1724.0 929.6L1724.8 927.5L1725.6 925.3L1726.4 923.3L1727.2 921.5L1728.0 919.3L1728.8 917.3L1729.6 915.0L1730.4 912.6L1731.2 909.8L1732.0 906.9L1732.8 904.2L1733.6 901.5L1734.4 898.7L1735.2 895.9L1736.0 892.8L1736.8 889.4L1737.6 886.1L1738.4 883.2L1739.2 879.9L1740.0 877.0L1740.8 868.3L1741.6 859.3L1742.4 850.4L1743.2 841.3L1744.0 832.0L1744.8 822.4L1745.6 812.7L1746.4 806.0L1747.2 801.3L1748.0 796.8L1748.8 794.6L1749.6 794.2L1750.4 793.6L1751.2 794.2L1752.0 798.4L1752.8 802.3L1753.6 806.0L1754.4 809.4L1755.2 812.5L1756.0 815.7L1756.8 815.4L1757.6 811.8L1758.4 808.5L1759.2 804.7L1760.0 799.8L1760.8 795.1L1761.6 790.4" stroke="#87209b" stroke-width="3.4"/>
</g>
<path d="M1634.4 787V974.4H1900.6" fill="none" stroke="#0a0a0a" stroke-width="3"/>
<line x1="1622.5" y1="834.6" x2="1634.4" y2="834.6" stroke="#0a0a0a" stroke-width="3"/>
<text x="1618.5" y="842.4" font-size="26.3" fill="#0a0a0a" text-anchor="end">0.03</text>
<line x1="1622.5" y1="928.0" x2="1634.4" y2="928.0" stroke="#0a0a0a" stroke-width="3"/>
<text x="1618.5" y="935.8" font-size="26.3" fill="#0a0a0a" text-anchor="end">0.01</text>
<line x1="1700.7" y1="974.4" x2="1700.7" y2="985.4" stroke="#0a0a0a" stroke-width="3"/>
<text x="1700.7" y="1007.7" font-size="21.5" fill="#0a0a0a" text-anchor="middle">20</text>
<line x1="1833.7" y1="974.4" x2="1833.7" y2="985.4" stroke="#0a0a0a" stroke-width="3"/>
<text x="1833.7" y="1007.7" font-size="21.5" fill="#0a0a0a" text-anchor="middle">30</text>
<ellipse cx="1729.6" cy="911" rx="12.8" ry="11.2" fill="none" stroke="#0a0a0a" stroke-width="4"/>
<ellipse cx="1763.8" cy="925" rx="12.8" ry="11.2" fill="none" stroke="#0a0a0a" stroke-width="4"/>
<ellipse cx="1796.5" cy="941.4" rx="12.8" ry="11.2" fill="none" stroke="#0a0a0a" stroke-width="4"/>
<ellipse cx="1834.6" cy="954.7" rx="12.8" ry="11.2" fill="none" stroke="#0a0a0a" stroke-width="4"/>
</g>
<g id="pE">
<text x="52.6" y="1728.2" font-size="56" fill="#0d0d0d">E</text>
<defs><clipPath id="cE"><rect x="176.2" y="1794.2" width="784.7" height="548.6"/></clipPath></defs>
<g clip-path="url(#cE)">
<line x1="232.7" y1="2339.8" x2="689.3" y2="1797.0" stroke="#3f49a8" stroke-width="5.4"/>
<line x1="251.8" y1="2340.0" x2="961.0" y2="1986.0" stroke="#b53a7c" stroke-width="3.2"/>
<line x1="333.7" y1="2340.0" x2="961.0" y2="2078.0" stroke="#0e8a3a" stroke-width="5.6"/>
</g>
<rect x="176.2" y="1794.2" width="784.7" height="548.6" fill="none" stroke="#0a0a0a" stroke-width="3"/>
<line x1="166.3" y1="2342.8" x2="176.2" y2="2342.8" stroke="#0a0a0a" stroke-width="3"/>
<text x="153.5" y="2350.7" font-size="27" fill="#0a0a0a" text-anchor="end">0.0000</text>
<line x1="166.3" y1="2251.4" x2="176.2" y2="2251.4" stroke="#0a0a0a" stroke-width="3"/>
<text x="153.5" y="2259.3" font-size="27" fill="#0a0a0a" text-anchor="end">0.0005</text>
<line x1="166.3" y1="2159.9" x2="176.2" y2="2159.9" stroke="#0a0a0a" stroke-width="3"/>
<text x="153.5" y="2167.8" font-size="27" fill="#0a0a0a" text-anchor="end">0.0010</text>
<line x1="166.3" y1="2068.5" x2="176.2" y2="2068.5" stroke="#0a0a0a" stroke-width="3"/>
<text x="153.5" y="2076.4" font-size="27" fill="#0a0a0a" text-anchor="end">0.0015</text>
<line x1="166.3" y1="1977.1" x2="176.2" y2="1977.1" stroke="#0a0a0a" stroke-width="3"/>
<text x="153.5" y="1985.0" font-size="27" fill="#0a0a0a" text-anchor="end">0.0020</text>
<line x1="166.3" y1="1885.7" x2="176.2" y2="1885.7" stroke="#0a0a0a" stroke-width="3"/>
<text x="153.5" y="1893.6" font-size="27" fill="#0a0a0a" text-anchor="end">0.0025</text>
<line x1="166.3" y1="1794.2" x2="176.2" y2="1794.2" stroke="#0a0a0a" stroke-width="3"/>
<text x="153.5" y="1802.1" font-size="27" fill="#0a0a0a" text-anchor="end">0.0030</text>
<line x1="176.2" y1="2342.8" x2="176.2" y2="2353.0" stroke="#0a0a0a" stroke-width="3"/>
<text x="176.2" y="2380.8" font-size="26" fill="#0a0a0a" text-anchor="middle">0</text>
<line x1="307.0" y1="2342.8" x2="307.0" y2="2353.0" stroke="#0a0a0a" stroke-width="3"/>
<text x="307.0" y="2380.8" font-size="26" fill="#0a0a0a" text-anchor="middle">5</text>
<line x1="437.8" y1="2342.8" x2="437.8" y2="2353.0" stroke="#0a0a0a" stroke-width="3"/>
<text x="437.8" y="2380.8" font-size="26" fill="#0a0a0a" text-anchor="middle">10</text>
<line x1="568.5" y1="2342.8" x2="568.5" y2="2353.0" stroke="#0a0a0a" stroke-width="3"/>
<text x="568.5" y="2380.8" font-size="26" fill="#0a0a0a" text-anchor="middle">15</text>
<line x1="699.3" y1="2342.8" x2="699.3" y2="2353.0" stroke="#0a0a0a" stroke-width="3"/>
<text x="699.3" y="2380.8" font-size="26" fill="#0a0a0a" text-anchor="middle">20</text>
<line x1="830.1" y1="2342.8" x2="830.1" y2="2353.0" stroke="#0a0a0a" stroke-width="3"/>
<text x="830.1" y="2380.8" font-size="26" fill="#0a0a0a" text-anchor="middle">25</text>
<line x1="960.9" y1="2342.8" x2="960.9" y2="2353.0" stroke="#0a0a0a" stroke-width="3"/>
<text x="960.9" y="2380.8" font-size="26" fill="#0a0a0a" text-anchor="middle">30</text>
<text x="487.3" y="2428.2" font-size="30.4" fill="#0a0a0a" textLength="171.3" lengthAdjust="spacingAndGlyphs">Tubulin (μM)</text>
<text transform="translate(36.2,2173.3) rotate(-90)" font-size="32.8" fill="#0a0a0a" textLength="261.0" lengthAdjust="spacingAndGlyphs">1/t 10% Amax (s<tspan dy="-13.6">-1</tspan><tspan dy="13.6">)</tspan></text>
<text x="306.0" y="1998.5" font-size="29.6" fill="#3d3d9c">K* = 20 x 10<tspan dy="-11" font-size="21">-5</tspan></text>
<text x="582.5" y="2051.2" font-size="29.6" fill="#8d2a9e">K* = 7.17 x 10<tspan dy="-11" font-size="21">-5</tspan></text>
<text x="750.8" y="2216.3" font-size="29.6" fill="#128a3e">K* = 6 x 10<tspan dy="-11" font-size="21">-5</tspan></text>
<path d="M306.2 2248.0V2254.0M297.4 2248.0H315.0M297.4 2254.0H315.0" stroke="#0a0a0a" stroke-width="1.8" fill="none"/>
<path d="M306.2 2260.9L317.4 2241.9H294.9Z" fill="#0d0d0d"/>
<path d="M371.8 2178.0V2183.0M363.0 2178.0H380.6M363.0 2183.0H380.6" stroke="#0a0a0a" stroke-width="1.8" fill="none"/>
<path d="M371.8 2190.4L383.1 2171.4H360.6Z" fill="#0d0d0d"/>
<path d="M437.4 2062.6V2120.0M428.6 2062.6H446.2M428.6 2120.0H446.2" stroke="#0a0a0a" stroke-width="1.8" fill="none"/>
<path d="M437.4 2104.4L448.6 2085.4H426.1Z" fill="#0d0d0d"/>
<path d="M503.1 2041.8L514.4 2022.8H491.9Z" fill="#0d0d0d"/>
<path d="M568.4 1915.0V1952.0M559.6 1915.0H577.2M559.6 1952.0H577.2" stroke="#0a0a0a" stroke-width="1.8" fill="none"/>
<path d="M568.4 1945.8L579.6 1926.8H557.1Z" fill="#0d0d0d"/>
<path d="M437.4 2231.0L448.6 2250.5H426.1Z" fill="#0d0d0d"/>
<path d="M502.8 2212.0V2226.5M494.0 2212.0H511.6M494.0 2226.5H511.6" stroke="#0a0a0a" stroke-width="1.8" fill="none"/>
<path d="M502.8 2209.1L514.0 2228.6H491.6Z" fill="#0d0d0d"/>
<path d="M568.4 2165.2L579.6 2184.7H557.1Z" fill="#0d0d0d"/>
<path d="M633.7 2125.5V2169.0M624.9 2125.5H642.5M624.9 2169.0H642.5" stroke="#0a0a0a" stroke-width="1.8" fill="none"/>
<path d="M633.7 2134.3L645.0 2153.8H622.5Z" fill="#0d0d0d"/>
<path d="M437.4 2265.7V2323.7M428.6 2265.7H446.2M428.6 2323.7H446.2" stroke="#0a0a0a" stroke-width="1.8" fill="none"/>
<circle cx="437.4" cy="2294.4" r="10.2" fill="#0d0d0d"/>
<circle cx="502.8" cy="2273.0" r="10.2" fill="#0d0d0d"/>
<path d="M568.4 2221.0V2258.0M559.6 2221.0H577.2M559.6 2258.0H577.2" stroke="#0a0a0a" stroke-width="1.8" fill="none"/>
<circle cx="568.4" cy="2239.7" r="10.2" fill="#0d0d0d"/>
</g>
<g id="pF">
<text x="1002.8" y="1509.8" font-size="56" fill="#0d0d0d">F</text>
<defs>
<filter id="fn1" x="0" y="0" width="100%" height="100%" color-interpolation-filters="sRGB"><feTurbulence type="fractalNoise" baseFrequency="0.9" numOctaves="2" seed="21"/><feColorMatrix type="matrix" values="1.6 0 0 0 -0.3  1.6 0 0 0 -0.3  1.6 0 0 0 -0.3  0 0 0 0 1"/></filter>
<filter id="fn2" x="0" y="0" width="100%" height="100%" color-interpolation-filters="sRGB"><feTurbulence type="fractalNoise" baseFrequency="0.85" numOctaves="2" seed="33"/><feColorMatrix type="matrix" values="2.6 0 0 0 -0.8  2.6 0 0 0 -0.8  2.6 0 0 0 -0.8  0 0 0 0 1"/></filter>
<filter id="fblur"><feGaussianBlur stdDeviation="0.6"/></filter>
<filter id="fblur2"><feGaussianBlur stdDeviation="12"/></filter>
<clipPath id="cf1"><rect x="1033.5" y="1592.8" width="446.0" height="445.20000000000005"/></clipPath>
<clipPath id="cf2"><rect x="1512" y="1592.8" width="446" height="445.20000000000005"/></clipPath>
<clipPath id="cf3"><rect x="1034.9" y="2054.6" width="444.5999999999999" height="443.8000000000002"/></clipPath>
<clipPath id="cf4"><rect x="1512" y="2054.6" width="446" height="445.4000000000001"/></clipPath>
<linearGradient id="g1a" x1="0" x2="1" y1="0" y2="0"><stop offset="0" stop-color="#2e2e2e"/><stop offset="0.08" stop-color="#484848"/><stop offset="0.18" stop-color="#666"/><stop offset="0.3" stop-color="#7e7e7e"/><stop offset="0.5" stop-color="#8c8c8c"/><stop offset="1" stop-color="#929292"/></linearGradient>
<radialGradient id="g1b" cx="0.95" cy="0.05" r="0.75"><stop offset="0" stop-color="#fff" stop-opacity="0.42"/><stop offset="0.5" stop-color="#fff" stop-opacity="0.12"/><stop offset="1" stop-color="#fff" stop-opacity="0"/></radialGradient>
<linearGradient id="g1c" x1="0" x2="0" y1="0" y2="1"><stop offset="0" stop-color="#000" stop-opacity="0.12"/><stop offset="0.12" stop-color="#000" stop-opacity="0"/><stop offset="0.7" stop-color="#000" stop-opacity="0"/><stop offset="1" stop-color="#000" stop-opacity="0.32"/></linearGradient>
<linearGradient id="g2a" x1="0" x2="1" y1="0" y2="0"><stop offset="0" stop-color="#242424"/><stop offset="0.06" stop-color="#3e3e3e"/><stop offset="0.15" stop-color="#606060"/><stop offset="0.3" stop-color="#8a8a8a"/><stop offset="0.55" stop-color="#a2a2a2"/><stop offset="1" stop-color="#b4b4b4"/></linearGradient>
<radialGradient id="g2b" cx="1" cy="0" r="0.8"><stop offset="0" stop-color="#fff" stop-opacity="0.6"/><stop offset="0.4" stop-color="#fff" stop-opacity="0.2"/><stop offset="1" stop-color="#fff" stop-opacity="0"/></radialGradient>
<linearGradient id="g3a" x1="0" x2="1" y1="0" y2="0"><stop offset="0" stop-color="#3a3a3a"/><stop offset="0.12" stop-color="#5c5c5c"/><stop offset="0.35" stop-color="#858585"/><stop offset="1" stop-color="#8e8e8e"/></linearGradient>
<linearGradient id="g4a" x1="0" x2="1" y1="0" y2="0"><stop offset="0" stop-color="#3a3a3a"/><stop offset="0.05" stop-color="#5e5e5e"/><stop offset="0.15" stop-color="#868686"/><stop offset="0.3" stop-color="#a8a8a8"/><stop offset="0.5" stop-color="#c2c2c2"/><stop offset="1" stop-color="#cecece"/></linearGradient>
<radialGradient id="g4b" cx="0.05" cy="1" r="0.6"><stop offset="0" stop-color="#000" stop-opacity="0.6"/><stop offset="0.6" stop-color="#000" stop-opacity="0.14"/><stop offset="1" stop-color="#000" stop-opacity="0"/></radialGradient>
<radialGradient id="g4c" cx="0.55" cy="0.45" r="0.6"><stop offset="0" stop-color="#fff" stop-opacity="0.25"/><stop offset="1" stop-color="#fff" stop-opacity="0"/></radialGradient>
</defs>
<g clip-path="url(#cf1)">
<rect x="1033.5" y="1592.8" width="446.0" height="445.20000000000005" fill="url(#g1a)"/>
<rect x="1033.5" y="1592.8" width="446.0" height="445.20000000000005" fill="url(#g1b)"/>
<rect x="1033.5" y="1592.8" width="446.0" height="445.20000000000005" fill="url(#g1c)"/>
<rect x="1033.5" y="1592.8" width="446.0" height="445.20000000000005" filter="url(#fn1)" opacity="0.22" style="mix-blend-mode:overlay"/>
<circle cx="1269.6" cy="1605.9" r="2.6" fill="#bdbdbd" opacity="0.55"/><circle cx="1269.6" cy="1605.9" r="1.5" fill="#101010"/>
<circle cx="1355.0" cy="1605.9" r="2.6" fill="#bdbdbd" opacity="0.55"/><circle cx="1355.0" cy="1605.9" r="1.5" fill="#101010"/>
<circle cx="1466.3" cy="1626.4" r="2.6" fill="#bdbdbd" opacity="0.55"/><circle cx="1466.3" cy="1626.4" r="1.5" fill="#101010"/>
<circle cx="1287.5" cy="1623.0" r="2.6" fill="#bdbdbd" opacity="0.55"/><circle cx="1287.5" cy="1623.0" r="1.5" fill="#101010"/>
<circle cx="1332.8" cy="1659.5" r="2.6" fill="#bdbdbd" opacity="0.55"/><circle cx="1332.8" cy="1659.5" r="1.5" fill="#101010"/>
<circle cx="1370.4" cy="1657.6" r="2.6" fill="#bdbdbd" opacity="0.55"/><circle cx="1370.4" cy="1657.6" r="1.5" fill="#101010"/>
<circle cx="1424.1" cy="1667.4" r="2.6" fill="#bdbdbd" opacity="0.55"/><circle cx="1424.1" cy="1667.4" r="1.5" fill="#101010"/>
<circle cx="1183.6" cy="1668.5" r="2.6" fill="#bdbdbd" opacity="0.55"/><circle cx="1183.6" cy="1668.5" r="1.5" fill="#101010"/>
<circle cx="1198.7" cy="1680.3" r="2.6" fill="#bdbdbd" opacity="0.55"/><circle cx="1198.7" cy="1680.3" r="1.5" fill="#101010"/>
<circle cx="1365.7" cy="1675.6" r="2.6" fill="#bdbdbd" opacity="0.55"/><circle cx="1365.7" cy="1675.6" r="1.5" fill="#101010"/>
<circle cx="1343.8" cy="1687.9" r="2.6" fill="#bdbdbd" opacity="0.55"/><circle cx="1343.8" cy="1687.9" r="1.5" fill="#101010"/>
<circle cx="1386.5" cy="1696.9" r="2.6" fill="#bdbdbd" opacity="0.55"/><circle cx="1386.5" cy="1696.9" r="1.5" fill="#101010"/>
<circle cx="1268.4" cy="1721.4" r="2.6" fill="#bdbdbd" opacity="0.55"/><circle cx="1268.4" cy="1721.4" r="1.5" fill="#101010"/>
<circle cx="1371.9" cy="1725.0" r="2.6" fill="#bdbdbd" opacity="0.55"/><circle cx="1371.9" cy="1725.0" r="1.5" fill="#101010"/>
<circle cx="1407.8" cy="1725.6" r="2.6" fill="#bdbdbd" opacity="0.55"/><circle cx="1407.8" cy="1725.6" r="1.5" fill="#101010"/>
<circle cx="1414.9" cy="1725.0" r="2.6" fill="#bdbdbd" opacity="0.55"/><circle cx="1414.9" cy="1725.0" r="1.5" fill="#101010"/>
<circle cx="1297.7" cy="1734.0" r="2.6" fill="#bdbdbd" opacity="0.55"/><circle cx="1297.7" cy="1734.0" r="1.5" fill="#101010"/>
<circle cx="1162.8" cy="1758.2" r="2.6" fill="#bdbdbd" opacity="0.55"/><circle cx="1162.8" cy="1758.2" r="1.5" fill="#101010"/>
<circle cx="1168.9" cy="1781.2" r="2.6" fill="#bdbdbd" opacity="0.55"/><circle cx="1168.9" cy="1781.2" r="1.5" fill="#101010"/>
<circle cx="1255.5" cy="1787.4" r="2.6" fill="#bdbdbd" opacity="0.55"/><circle cx="1255.5" cy="1787.4" r="1.5" fill="#101010"/>
<circle cx="1204.1" cy="1799.2" r="2.6" fill="#bdbdbd" opacity="0.55"/><circle cx="1204.1" cy="1799.2" r="1.5" fill="#101010"/>
<circle cx="1169.2" cy="1816.9" r="2.6" fill="#bdbdbd" opacity="0.55"/><circle cx="1169.2" cy="1816.9" r="1.5" fill="#101010"/>
<circle cx="1147.0" cy="1825.3" r="2.6" fill="#bdbdbd" opacity="0.55"/><circle cx="1147.0" cy="1825.3" r="1.5" fill="#101010"/>
<circle cx="1471.9" cy="1795.3" r="2.6" fill="#bdbdbd" opacity="0.55"/><circle cx="1471.9" cy="1795.3" r="1.5" fill="#101010"/>
<circle cx="1464.9" cy="1810.4" r="2.6" fill="#bdbdbd" opacity="0.55"/><circle cx="1464.9" cy="1810.4" r="1.5" fill="#101010"/>
<circle cx="1475.3" cy="1826.5" r="2.6" fill="#bdbdbd" opacity="0.55"/><circle cx="1475.3" cy="1826.5" r="1.5" fill="#101010"/>
<circle cx="1211.7" cy="1850.1" r="2.6" fill="#bdbdbd" opacity="0.55"/><circle cx="1211.7" cy="1850.1" r="1.5" fill="#101010"/>
<circle cx="1243.7" cy="1854.3" r="2.6" fill="#bdbdbd" opacity="0.55"/><circle cx="1243.7" cy="1854.3" r="1.5" fill="#101010"/>
<circle cx="1056.0" cy="1855.4" r="2.6" fill="#bdbdbd" opacity="0.55"/><circle cx="1056.0" cy="1855.4" r="1.5" fill="#101010"/>
<circle cx="1401.1" cy="1864.4" r="2.6" fill="#bdbdbd" opacity="0.55"/><circle cx="1401.1" cy="1864.4" r="1.5" fill="#101010"/>
<circle cx="1415.7" cy="1870.9" r="2.6" fill="#bdbdbd" opacity="0.55"/><circle cx="1415.7" cy="1870.9" r="1.5" fill="#101010"/>
<circle cx="1452.2" cy="1863.8" r="2.6" fill="#bdbdbd" opacity="0.55"/><circle cx="1452.2" cy="1863.8" r="1.5" fill="#101010"/>
<circle cx="1333.6" cy="1880.1" r="2.6" fill="#bdbdbd" opacity="0.55"/><circle cx="1333.6" cy="1880.1" r="1.5" fill="#101010"/>
<circle cx="1386.2" cy="1911.1" r="2.6" fill="#bdbdbd" opacity="0.55"/><circle cx="1386.2" cy="1911.1" r="1.5" fill="#101010"/>
<circle cx="1240.0" cy="1917.0" r="2.6" fill="#bdbdbd" opacity="0.55"/><circle cx="1240.0" cy="1917.0" r="1.5" fill="#101010"/>
<circle cx="1401.6" cy="1940.6" r="2.6" fill="#bdbdbd" opacity="0.55"/><circle cx="1401.6" cy="1940.6" r="1.5" fill="#101010"/>
<circle cx="1168.4" cy="1949.8" r="2.6" fill="#bdbdbd" opacity="0.55"/><circle cx="1168.4" cy="1949.8" r="1.5" fill="#101010"/>
<circle cx="1145.9" cy="1990.3" r="2.6" fill="#bdbdbd" opacity="0.55"/><circle cx="1145.9" cy="1990.3" r="1.5" fill="#101010"/>
<circle cx="1097.8" cy="1992.6" r="2.6" fill="#bdbdbd" opacity="0.55"/><circle cx="1097.8" cy="1992.6" r="1.5" fill="#101010"/>
<circle cx="1372.1" cy="2001.5" r="2.6" fill="#bdbdbd" opacity="0.55"/><circle cx="1372.1" cy="2001.5" r="1.5" fill="#101010"/>
<circle cx="1189.5" cy="2016.2" r="2.6" fill="#bdbdbd" opacity="0.55"/><circle cx="1189.5" cy="2016.2" r="1.5" fill="#101010"/>
<circle cx="1124.0" cy="2031.9" r="2.6" fill="#bdbdbd" opacity="0.55"/><circle cx="1124.0" cy="2031.9" r="1.5" fill="#101010"/>
<circle cx="1260.3" cy="2004.4" r="2.6" fill="#bdbdbd" opacity="0.55"/><circle cx="1260.3" cy="2004.4" r="1.5" fill="#101010"/>
<circle cx="1289.2" cy="1947.6" r="2.6" fill="#bdbdbd" opacity="0.55"/><circle cx="1289.2" cy="1947.6" r="1.5" fill="#101010"/>
<circle cx="1120.3" cy="1768.9" r="2.6" fill="#bdbdbd" opacity="0.55"/><circle cx="1120.3" cy="1768.9" r="1.5" fill="#101010"/>
<circle cx="1065.0" cy="1988.9" r="2.6" fill="#bdbdbd" opacity="0.55"/><circle cx="1065.0" cy="1988.9" r="1.5" fill="#101010"/>
<circle cx="1200.4" cy="1640.4" r="4.2" fill="#0a0a0a"/><circle cx="1201.9" cy="1643.4" r="2" fill="#d8d8d8"/>
<circle cx="1106.6" cy="1875.6" r="3.6" fill="#f4f4f4"/><circle cx="1105.6" cy="1878.1" r="1.6" fill="#222"/>
<line x1="1230.8" y1="1693.8" x2="1261.7" y2="1705.1" stroke="#4a4a4a" stroke-width="1.2" opacity="0.6"/>
<line x1="1213.9" y1="1830.1" x2="1244.8" y2="1831.5" stroke="#4a4a4a" stroke-width="1.2" opacity="0.6"/>
<line x1="1115.6" y1="1876.5" x2="1145.1" y2="1895.3" stroke="#4a4a4a" stroke-width="1.2" opacity="0.6"/>
<line x1="1376.9" y1="1812.1" x2="1412.0" y2="1809.9" stroke="#4a4a4a" stroke-width="1.2" opacity="0.6"/>
<line x1="1333.4" y1="1860.5" x2="1357.2" y2="1857.7" stroke="#4a4a4a" stroke-width="1.2" opacity="0.6"/>
<line x1="1177.4" y1="1971.2" x2="1202.7" y2="1969.2" stroke="#4a4a4a" stroke-width="1.2" opacity="0.6"/>
<line x1="1081.8" y1="1726.1" x2="1115.6" y2="1730.4" stroke="#4a4a4a" stroke-width="1.2" opacity="0.6"/>
</g>
<rect x="1040.2" y="1604.7" width="154.6" height="41.3" fill="#fff"/>
<text x="1051.0" y="1636.2" font-size="29" fill="#0d0d0d" textLength="133.4" lengthAdjust="spacingAndGlyphs">20 μM WT</text>
<rect x="1412" y="2005.2" width="43.6" height="7.6" fill="#fff"/>
<g clip-path="url(#cf2)">
<rect x="1512" y="1592.8" width="446" height="445.20000000000005" fill="url(#g2a)"/>
<rect x="1512" y="1592.8" width="446" height="445.20000000000005" fill="url(#g2b)"/>
<rect x="1512" y="1592.8" width="446" height="445.20000000000005" fill="url(#g1c)"/>
<rect x="1512" y="1592.8" width="446" height="445.20000000000005" filter="url(#fn2)" opacity="0.8" style="mix-blend-mode:overlay"/>
<circle cx="1876.3" cy="1619.7" r="2.6" fill="#c8c8c8" opacity="0.55"/><circle cx="1876.3" cy="1619.7" r="1.5" fill="#0c0c0c"/>
<circle cx="1937.2" cy="1623.3" r="2.6" fill="#c8c8c8" opacity="0.55"/><circle cx="1937.2" cy="1623.3" r="1.5" fill="#0c0c0c"/>
<circle cx="1800.2" cy="1651.8" r="2.6" fill="#c8c8c8" opacity="0.55"/><circle cx="1800.2" cy="1651.8" r="1.5" fill="#0c0c0c"/>
<circle cx="1785.9" cy="1657.5" r="2.6" fill="#c8c8c8" opacity="0.55"/><circle cx="1785.9" cy="1657.5" r="1.5" fill="#0c0c0c"/>
<circle cx="1914.2" cy="1676.4" r="2.6" fill="#c8c8c8" opacity="0.55"/><circle cx="1914.2" cy="1676.4" r="1.5" fill="#0c0c0c"/>
<circle cx="1925.7" cy="1691.0" r="2.6" fill="#c8c8c8" opacity="0.55"/><circle cx="1925.7" cy="1691.0" r="1.5" fill="#0c0c0c"/>
<circle cx="1913.3" cy="1714.8" r="2.6" fill="#c8c8c8" opacity="0.55"/><circle cx="1913.3" cy="1714.8" r="1.5" fill="#0c0c0c"/>
<circle cx="1681.8" cy="1741.7" r="2.6" fill="#c8c8c8" opacity="0.55"/><circle cx="1681.8" cy="1741.7" r="1.5" fill="#0c0c0c"/>
<circle cx="1693.3" cy="1745.8" r="2.6" fill="#c8c8c8" opacity="0.55"/><circle cx="1693.3" cy="1745.8" r="1.5" fill="#0c0c0c"/>
<circle cx="1584.5" cy="1699.2" r="2.6" fill="#c8c8c8" opacity="0.55"/><circle cx="1584.5" cy="1699.2" r="1.5" fill="#0c0c0c"/>
<circle cx="1738.8" cy="1798.7" r="2.6" fill="#c8c8c8" opacity="0.55"/><circle cx="1738.8" cy="1798.7" r="1.5" fill="#0c0c0c"/>
<circle cx="1849.5" cy="1784.1" r="2.6" fill="#c8c8c8" opacity="0.55"/><circle cx="1849.5" cy="1784.1" r="1.5" fill="#0c0c0c"/>
<circle cx="1866.5" cy="1793.7" r="2.6" fill="#c8c8c8" opacity="0.55"/><circle cx="1866.5" cy="1793.7" r="1.5" fill="#0c0c0c"/>
<circle cx="1807.8" cy="1830.2" r="2.6" fill="#c8c8c8" opacity="0.55"/><circle cx="1807.8" cy="1830.2" r="1.5" fill="#0c0c0c"/>
<circle cx="1759.1" cy="1834.0" r="2.6" fill="#c8c8c8" opacity="0.55"/><circle cx="1759.1" cy="1834.0" r="1.5" fill="#0c0c0c"/>
<circle cx="1746.5" cy="1853.5" r="2.6" fill="#c8c8c8" opacity="0.55"/><circle cx="1746.5" cy="1853.5" r="1.5" fill="#0c0c0c"/>
<circle cx="1807.8" cy="1854.8" r="2.6" fill="#c8c8c8" opacity="0.55"/><circle cx="1807.8" cy="1854.8" r="1.5" fill="#0c0c0c"/>
<circle cx="1641.2" cy="1862.2" r="2.6" fill="#c8c8c8" opacity="0.55"/><circle cx="1641.2" cy="1862.2" r="1.5" fill="#0c0c0c"/>
<circle cx="1568.9" cy="1876.7" r="2.6" fill="#c8c8c8" opacity="0.55"/><circle cx="1568.9" cy="1876.7" r="1.5" fill="#0c0c0c"/>
<circle cx="1663.7" cy="1880.9" r="2.6" fill="#c8c8c8" opacity="0.55"/><circle cx="1663.7" cy="1880.9" r="1.5" fill="#0c0c0c"/>
<circle cx="1681.3" cy="1894.6" r="2.6" fill="#c8c8c8" opacity="0.55"/><circle cx="1681.3" cy="1894.6" r="1.5" fill="#0c0c0c"/>
<circle cx="1667.6" cy="1905.0" r="2.6" fill="#c8c8c8" opacity="0.55"/><circle cx="1667.6" cy="1905.0" r="1.5" fill="#0c0c0c"/>
<circle cx="1816.9" cy="1902.8" r="2.6" fill="#c8c8c8" opacity="0.55"/><circle cx="1816.9" cy="1902.8" r="1.5" fill="#0c0c0c"/>
<circle cx="1690.0" cy="1923.1" r="2.6" fill="#c8c8c8" opacity="0.55"/><circle cx="1690.0" cy="1923.1" r="1.5" fill="#0c0c0c"/>
<circle cx="1875.8" cy="1913.7" r="2.6" fill="#c8c8c8" opacity="0.55"/><circle cx="1875.8" cy="1913.7" r="1.5" fill="#0c0c0c"/>
<circle cx="1942.1" cy="1938.4" r="2.6" fill="#c8c8c8" opacity="0.55"/><circle cx="1942.1" cy="1938.4" r="1.5" fill="#0c0c0c"/>
<circle cx="1607.3" cy="1947.2" r="2.6" fill="#c8c8c8" opacity="0.55"/><circle cx="1607.3" cy="1947.2" r="1.5" fill="#0c0c0c"/>
<circle cx="1670.8" cy="1963.1" r="2.6" fill="#c8c8c8" opacity="0.55"/><circle cx="1670.8" cy="1963.1" r="1.5" fill="#0c0c0c"/>
<circle cx="1703.7" cy="1988.3" r="2.6" fill="#c8c8c8" opacity="0.55"/><circle cx="1703.7" cy="1988.3" r="1.5" fill="#0c0c0c"/>
<circle cx="1764.6" cy="1994.6" r="2.6" fill="#c8c8c8" opacity="0.55"/><circle cx="1764.6" cy="1994.6" r="1.5" fill="#0c0c0c"/>
<circle cx="1835.2" cy="1997.3" r="2.6" fill="#c8c8c8" opacity="0.55"/><circle cx="1835.2" cy="1997.3" r="1.5" fill="#0c0c0c"/>
<circle cx="1912.8" cy="2003.3" r="2.6" fill="#c8c8c8" opacity="0.55"/><circle cx="1912.8" cy="2003.3" r="1.5" fill="#0c0c0c"/>
<circle cx="1807.0" cy="2029.4" r="2.6" fill="#c8c8c8" opacity="0.55"/><circle cx="1807.0" cy="2029.4" r="1.5" fill="#0c0c0c"/>
<circle cx="1526.4" cy="1919.8" r="2.6" fill="#c8c8c8" opacity="0.55"/><circle cx="1526.4" cy="1919.8" r="1.5" fill="#0c0c0c"/>
<circle cx="1535.2" cy="1929.4" r="2.6" fill="#c8c8c8" opacity="0.55"/><circle cx="1535.2" cy="1929.4" r="1.5" fill="#0c0c0c"/>
<circle cx="1914.2" cy="1755.4" r="2.6" fill="#c8c8c8" opacity="0.55"/><circle cx="1914.2" cy="1755.4" r="1.5" fill="#0c0c0c"/>
<circle cx="1899.6" cy="1769.1" r="2.6" fill="#c8c8c8" opacity="0.55"/><circle cx="1899.6" cy="1769.1" r="1.5" fill="#0c0c0c"/>
<circle cx="1714.1" cy="1824.7" r="2.6" fill="#c8c8c8" opacity="0.55"/><circle cx="1714.1" cy="1824.7" r="1.5" fill="#0c0c0c"/>
<circle cx="1610.6" cy="1853.5" r="2.6" fill="#c8c8c8" opacity="0.55"/><circle cx="1610.6" cy="1853.5" r="1.5" fill="#0c0c0c"/>
<circle cx="1656.6" cy="1953.2" r="2.6" fill="#c8c8c8" opacity="0.55"/><circle cx="1656.6" cy="1953.2" r="1.5" fill="#0c0c0c"/>
<circle cx="1697.7" cy="1981.4" r="2.6" fill="#c8c8c8" opacity="0.55"/><circle cx="1697.7" cy="1981.4" r="1.5" fill="#0c0c0c"/>
<circle cx="1602.9" cy="1770.4" r="4" fill="#e6e6e6" opacity="0.9"/><circle cx="1602.9" cy="1770.4" r="1.6" fill="#222"/>
<circle cx="1843.5" cy="1804.7" r="4" fill="#e6e6e6" opacity="0.9"/><circle cx="1843.5" cy="1804.7" r="1.6" fill="#222"/>
<circle cx="1811.1" cy="1878.7" r="4" fill="#e6e6e6" opacity="0.9"/><circle cx="1811.1" cy="1878.7" r="1.6" fill="#222"/>
<circle cx="1759.9" cy="1644.4" r="4" fill="#e6e6e6" opacity="0.9"/><circle cx="1759.9" cy="1644.4" r="1.6" fill="#222"/>
<line x1="1689.5" y1="1771.8" x2="1674.1" y2="1847.2" stroke="#222" stroke-width="1.8" opacity="0.75"/>
<line x1="1691.4" y1="1654.0" x2="1706.5" y2="1689.6" stroke="#222" stroke-width="1.3" opacity="0.5"/>
<line x1="1698.2" y1="1747.1" x2="1709.2" y2="1771.8" stroke="#222" stroke-width="1.1" opacity="0.4"/>
</g>
<rect x="1520.7" y="1604.7" width="235.1" height="41.1" fill="#fff"/>
<text x="1525.0" y="1636.2" font-size="29" fill="#0d0d0d" textLength="207.5" lengthAdjust="spacingAndGlyphs">20 μM 20%Q+N</text>
<rect x="1870.3" y="2004.7" width="43.6" height="7.6" fill="#fff"/>
<g clip-path="url(#cf3)">
<rect x="1034.9" y="2054.6" width="444.5999999999999" height="443.8000000000002" fill="url(#g3a)"/>
<g filter="url(#fblur2)">
<circle cx="1300" cy="2120" r="70" fill="#fff" opacity="0.3"/>
<circle cx="1200" cy="2180" r="60" fill="#fff" opacity="0.22"/>
<circle cx="1420" cy="2430" r="80" fill="#fff" opacity="0.28"/>
<circle cx="1330" cy="2390" r="60" fill="#fff" opacity="0.2"/>
<circle cx="1090" cy="2150" r="50" fill="#000" opacity="0.25"/>
<circle cx="1080" cy="2420" r="70" fill="#000" opacity="0.3"/>
<circle cx="1250" cy="2300" r="90" fill="#000" opacity="0.12"/>
<circle cx="1420" cy="2200" r="60" fill="#000" opacity="0.15"/>
<circle cx="1150" cy="2085" r="40" fill="#000" opacity="0.3"/>
</g>
<rect x="1034.9" y="2054.6" width="444.5999999999999" height="443.8000000000002" filter="url(#fn2)" opacity="0.85" style="mix-blend-mode:overlay"/>
<line x1="1042.7" y1="2338.4" x2="1163.2" y2="2336.7" stroke="#303030" stroke-width="0.8" opacity="0.35"/>
<line x1="1245.5" y1="2381.4" x2="1501.8" y2="2379.0" stroke="#303030" stroke-width="0.8" opacity="0.35"/>
<line x1="1044.2" y1="2241.8" x2="1152.3" y2="2241.9" stroke="#303030" stroke-width="0.8" opacity="0.35"/>
<line x1="1096.8" y1="2066.4" x2="1299.8" y2="2066.6" stroke="#303030" stroke-width="0.8" opacity="0.35"/>
<line x1="1218.3" y1="2152.4" x2="1456.4" y2="2149.5" stroke="#303030" stroke-width="0.8" opacity="0.35"/>
<line x1="1252.2" y1="2412.2" x2="1387.0" y2="2410.2" stroke="#303030" stroke-width="0.8" opacity="0.35"/>
<line x1="1139.7" y1="2479.4" x2="1220.1" y2="2477.0" stroke="#303030" stroke-width="0.8" opacity="0.35"/>
<line x1="1222.8" y1="2430.7" x2="1460.4" y2="2432.1" stroke="#303030" stroke-width="0.8" opacity="0.35"/>
<line x1="1337.8" y1="2292.6" x2="1481.0" y2="2292.9" stroke="#303030" stroke-width="0.8" opacity="0.35"/>
<line x1="1227.4" y1="2422.7" x2="1477.0" y2="2423.2" stroke="#303030" stroke-width="0.8" opacity="0.35"/>
<line x1="1049.2" y1="2367.3" x2="1159.3" y2="2366.0" stroke="#303030" stroke-width="0.8" opacity="0.35"/>
<line x1="1107.3" y1="2090.0" x2="1189.6" y2="2088.7" stroke="#303030" stroke-width="0.8" opacity="0.35"/>
<line x1="1148.4" y1="2336.7" x2="1289.9" y2="2335.0" stroke="#303030" stroke-width="0.8" opacity="0.35"/>
<line x1="1326.4" y1="2173.1" x2="1529.0" y2="2173.7" stroke="#303030" stroke-width="0.8" opacity="0.35"/>
<line x1="1261.8" y1="2130.6" x2="1357.8" y2="2129.8" stroke="#303030" stroke-width="0.8" opacity="0.35"/>
<line x1="1234.1" y1="2493.8" x2="1416.6" y2="2494.9" stroke="#303030" stroke-width="0.8" opacity="0.35"/>
<line x1="1276.4" y1="2428.7" x2="1386.8" y2="2425.9" stroke="#303030" stroke-width="0.8" opacity="0.35"/>
<line x1="1118.2" y1="2194.6" x2="1224.6" y2="2197.3" stroke="#303030" stroke-width="0.8" opacity="0.35"/>
<line x1="1132.8" y1="2443.5" x2="1337.0" y2="2442.9" stroke="#303030" stroke-width="0.8" opacity="0.35"/>
<line x1="1177.7" y1="2460.5" x2="1296.0" y2="2459.0" stroke="#303030" stroke-width="0.8" opacity="0.35"/>
<line x1="1116.7" y1="2303.7" x2="1305.3" y2="2306.1" stroke="#303030" stroke-width="0.8" opacity="0.35"/>
<line x1="1103.2" y1="2231.9" x2="1382.6" y2="2231.9" stroke="#303030" stroke-width="0.8" opacity="0.35"/>
<line x1="1049.6" y1="2094.9" x2="1133.7" y2="2095.7" stroke="#303030" stroke-width="0.8" opacity="0.35"/>
<line x1="1166.3" y1="2406.1" x2="1240.3" y2="2405.4" stroke="#303030" stroke-width="0.8" opacity="0.35"/>
<line x1="1199.6" y1="2496.7" x2="1473.2" y2="2498.8" stroke="#303030" stroke-width="0.8" opacity="0.35"/>
<line x1="1259.2" y1="2059.7" x2="1469.2" y2="2059.9" stroke="#303030" stroke-width="0.8" opacity="0.35"/>
<line x1="1234.4" y1="2173.0" x2="1318.9" y2="2172.6" stroke="#303030" stroke-width="0.8" opacity="0.35"/>
<line x1="1331.7" y1="2256.0" x2="1584.4" y2="2254.5" stroke="#303030" stroke-width="0.8" opacity="0.35"/>
<line x1="1090.5" y1="2276.8" x2="1351.3" y2="2279.0" stroke="#303030" stroke-width="0.8" opacity="0.35"/>
<line x1="1233.8" y1="2187.0" x2="1427.7" y2="2185.0" stroke="#303030" stroke-width="0.8" opacity="0.35"/>
<line x1="1202.8" y1="2393.0" x2="1434.1" y2="2393.2" stroke="#303030" stroke-width="0.8" opacity="0.35"/>
<line x1="1135.8" y1="2054.9" x2="1200.1" y2="2057.4" stroke="#303030" stroke-width="0.8" opacity="0.35"/>
<line x1="1293.7" y1="2444.6" x2="1421.4" y2="2441.9" stroke="#303030" stroke-width="0.8" opacity="0.35"/>
<line x1="1329.6" y1="2444.3" x2="1408.5" y2="2444.2" stroke="#303030" stroke-width="0.8" opacity="0.35"/>
<line x1="1271.6" y1="2085.3" x2="1500.1" y2="2083.1" stroke="#303030" stroke-width="0.8" opacity="0.35"/>
<line x1="1206.0" y1="2265.5" x2="1324.3" y2="2267.8" stroke="#303030" stroke-width="0.8" opacity="0.35"/>
<line x1="1100.8" y1="2242.4" x2="1279.5" y2="2243.8" stroke="#303030" stroke-width="0.8" opacity="0.35"/>
<line x1="1131.9" y1="2143.9" x2="1410.8" y2="2144.8" stroke="#303030" stroke-width="0.8" opacity="0.35"/>
<line x1="1196.0" y1="2249.0" x2="1282.6" y2="2247.4" stroke="#303030" stroke-width="0.8" opacity="0.35"/>
<line x1="1218.0" y1="2204.6" x2="1328.6" y2="2203.0" stroke="#303030" stroke-width="0.8" opacity="0.35"/>
<line x1="1231.3" y1="2086.1" x2="1341.7" y2="2088.5" stroke="#303030" stroke-width="0.8" opacity="0.35"/>
<line x1="1057.0" y1="2436.1" x2="1169.3" y2="2437.1" stroke="#303030" stroke-width="0.8" opacity="0.35"/>
<line x1="1076.1" y1="2149.7" x2="1341.9" y2="2150.1" stroke="#303030" stroke-width="0.8" opacity="0.35"/>
<line x1="1279.1" y1="2264.4" x2="1516.7" y2="2262.5" stroke="#303030" stroke-width="0.8" opacity="0.35"/>
<line x1="1169.1" y1="2097.6" x2="1322.2" y2="2097.4" stroke="#303030" stroke-width="0.8" opacity="0.35"/>
<line x1="1244.5" y1="2378.2" x2="1521.0" y2="2375.8" stroke="#303030" stroke-width="0.8" opacity="0.35"/>
<line x1="1140.5" y1="2233.3" x2="1390.1" y2="2231.8" stroke="#303030" stroke-width="0.8" opacity="0.35"/>
<line x1="1174.5" y1="2139.0" x2="1327.3" y2="2137.7" stroke="#303030" stroke-width="0.8" opacity="0.35"/>
<line x1="1322.2" y1="2165.5" x2="1479.7" y2="2167.6" stroke="#303030" stroke-width="0.8" opacity="0.35"/>
<line x1="1050.6" y1="2298.8" x2="1330.5" y2="2300.9" stroke="#303030" stroke-width="0.8" opacity="0.35"/>
<line x1="1323.2" y1="2484.6" x2="1569.9" y2="2482.6" stroke="#303030" stroke-width="0.8" opacity="0.35"/>
<line x1="1101.4" y1="2270.1" x2="1249.7" y2="2267.5" stroke="#303030" stroke-width="0.8" opacity="0.35"/>
<line x1="1341.5" y1="2222.8" x2="1459.9" y2="2224.5" stroke="#303030" stroke-width="0.8" opacity="0.35"/>
<line x1="1166.5" y1="2256.5" x2="1437.2" y2="2259.5" stroke="#303030" stroke-width="0.8" opacity="0.35"/>
<line x1="1258.5" y1="2301.2" x2="1352.5" y2="2300.0" stroke="#303030" stroke-width="0.8" opacity="0.35"/>
<line x1="1215.2" y1="2484.5" x2="1394.4" y2="2486.0" stroke="#303030" stroke-width="0.8" opacity="0.35"/>
<line x1="1216.7" y1="2080.0" x2="1387.3" y2="2082.1" stroke="#303030" stroke-width="0.8" opacity="0.35"/>
<line x1="1333.9" y1="2124.5" x2="1411.5" y2="2122.6" stroke="#303030" stroke-width="0.8" opacity="0.35"/>
<line x1="1245.0" y1="2318.7" x2="1356.8" y2="2316.4" stroke="#303030" stroke-width="0.8" opacity="0.35"/>
<line x1="1111.5" y1="2449.7" x2="1302.3" y2="2450.4" stroke="#303030" stroke-width="0.8" opacity="0.35"/>
<g fill="none" stroke-linecap="round" filter="url(#fblur)"><path d="M1236.8 2281.4Q1221.4 2342.5 1249.0 2399.2" stroke="#141414" stroke-width="1.2" opacity="0.75"/><path d="M1137.1 2285.1Q1204.1 2244.6 1247.4 2179.4" stroke="#f2f2f2" stroke-width="0.8" opacity="0.55"/><path d="M1116.3 2542.0Q1183.7 2487.7 1238.7 2420.9" stroke="#141414" stroke-width="1.4" opacity="0.89"/><path d="M1264.2 2129.4Q1332.1 2069.7 1420.9 2086.1" stroke="#141414" stroke-width="0.8" opacity="0.50"/><path d="M1234.7 2208.7Q1297.9 2235.8 1364.9 2220.4" stroke="#141414" stroke-width="1.3" opacity="0.86"/><path d="M1376.0 2122.8Q1424.0 2142.3 1472.3 2161.0" stroke="#141414" stroke-width="1.0" opacity="0.78"/><path d="M1279.7 2270.1Q1301.6 2270.5 1318.6 2284.5" stroke="#141414" stroke-width="1.7" opacity="0.71"/><path d="M1107.1 2193.9Q1110.5 2146.6 1148.5 2118.2" stroke="#141414" stroke-width="1.0" opacity="0.50"/><path d="M1347.7 2447.4Q1389.6 2483.7 1444.6 2475.9" stroke="#f2f2f2" stroke-width="1.7" opacity="0.81"/><path d="M1368.7 2088.2Q1444.0 2101.8 1509.6 2141.1" stroke="#f2f2f2" stroke-width="1.5" opacity="0.57"/><path d="M1352.7 2076.6Q1368.0 2168.5 1445.7 2219.9" stroke="#141414" stroke-width="1.7" opacity="0.55"/><path d="M1396.0 2514.7Q1439.7 2509.3 1467.8 2475.4" stroke="#141414" stroke-width="1.8" opacity="0.50"/><path d="M1386.3 2160.0Q1474.2 2191.3 1567.6 2193.4" stroke="#141414" stroke-width="1.1" opacity="0.72"/><path d="M1218.8 2260.3Q1282.0 2259.3 1345.3 2259.9" stroke="#f2f2f2" stroke-width="1.2" opacity="0.77"/><path d="M1332.9 2380.2Q1379.1 2366.7 1427.0 2370.6" stroke="#141414" stroke-width="1.7" opacity="0.77"/><path d="M1141.8 2231.1Q1192.6 2235.6 1243.0 2227.8" stroke="#141414" stroke-width="1.8" opacity="0.75"/><path d="M1406.4 2345.5Q1448.2 2353.2 1490.1 2360.8" stroke="#141414" stroke-width="1.4" opacity="0.74"/><path d="M1228.1 2271.8Q1265.1 2274.6 1296.5 2294.4" stroke="#141414" stroke-width="0.8" opacity="0.68"/><path d="M1277.0 2181.6Q1342.5 2231.4 1390.3 2298.3" stroke="#141414" stroke-width="1.0" opacity="0.66"/><path d="M1375.0 2128.1Q1423.6 2151.7 1476.4 2139.9" stroke="#141414" stroke-width="1.0" opacity="0.75"/><path d="M1040.1 2400.9Q1063.5 2422.5 1094.4 2414.7" stroke="#141414" stroke-width="0.8" opacity="0.56"/><path d="M1348.5 2265.6Q1425.7 2287.0 1501.7 2312.2" stroke="#f2f2f2" stroke-width="1.6" opacity="0.73"/><path d="M1291.4 2284.9Q1375.9 2289.6 1449.2 2332.0" stroke="#141414" stroke-width="1.0" opacity="0.56"/><path d="M1276.6 2414.6Q1335.7 2419.5 1394.7 2413.0" stroke="#141414" stroke-width="1.0" opacity="0.59"/><path d="M1256.9 2161.3Q1294.2 2157.3 1331.6 2159.7" stroke="#141414" stroke-width="1.4" opacity="0.64"/><path d="M1065.8 2287.0Q1147.0 2235.5 1239.7 2261.5" stroke="#f2f2f2" stroke-width="1.1" opacity="0.45"/><path d="M1182.5 2331.1Q1199.2 2415.0 1246.1 2486.6" stroke="#141414" stroke-width="1.4" opacity="0.55"/><path d="M1136.0 2282.7Q1157.6 2275.7 1180.1 2278.5" stroke="#141414" stroke-width="1.3" opacity="0.51"/><path d="M1281.9 2100.3Q1328.2 2118.2 1376.3 2130.7" stroke="#141414" stroke-width="1.3" opacity="0.47"/><path d="M1187.6 2212.8Q1232.1 2200.6 1264.1 2167.3" stroke="#141414" stroke-width="0.8" opacity="0.46"/><path d="M1247.8 2505.5Q1294.9 2492.6 1340.1 2511.2" stroke="#f2f2f2" stroke-width="1.6" opacity="0.54"/><path d="M1312.8 2331.8Q1349.2 2327.1 1385.5 2332.8" stroke="#141414" stroke-width="1.6" opacity="0.50"/><path d="M1384.9 2497.7Q1414.0 2503.5 1440.7 2490.6" stroke="#f2f2f2" stroke-width="1.1" opacity="0.77"/><path d="M1085.6 2358.4Q1103.8 2380.4 1108.7 2408.6" stroke="#f2f2f2" stroke-width="1.5" opacity="0.61"/><path d="M1190.5 2240.5Q1251.8 2233.9 1303.1 2268.0" stroke="#141414" stroke-width="1.9" opacity="0.74"/><path d="M1394.4 2437.9Q1414.8 2389.3 1439.1 2342.5" stroke="#141414" stroke-width="1.3" opacity="0.65"/><path d="M1363.5 2129.9Q1354.0 2216.0 1387.1 2296.0" stroke="#141414" stroke-width="1.4" opacity="0.62"/><path d="M1124.1 2393.3Q1161.1 2421.1 1185.8 2460.3" stroke="#f2f2f2" stroke-width="0.8" opacity="0.77"/><path d="M1205.9 2438.0Q1273.0 2412.4 1338.8 2383.5" stroke="#141414" stroke-width="1.0" opacity="0.76"/><path d="M1142.3 2357.2Q1198.1 2348.9 1247.5 2321.7" stroke="#141414" stroke-width="1.5" opacity="0.57"/><path d="M1139.5 2165.6Q1170.5 2150.4 1203.8 2141.1" stroke="#141414" stroke-width="1.0" opacity="0.67"/><path d="M1313.6 2492.0Q1371.9 2504.4 1431.5 2505.9" stroke="#141414" stroke-width="0.9" opacity="0.46"/><path d="M1198.7 2218.8Q1291.3 2204.4 1384.7 2211.9" stroke="#f2f2f2" stroke-width="1.2" opacity="0.84"/><path d="M1262.0 2268.9Q1304.1 2302.6 1355.3 2319.4" stroke="#141414" stroke-width="1.7" opacity="0.63"/><path d="M1129.0 2289.1Q1116.4 2331.7 1127.5 2374.7" stroke="#141414" stroke-width="1.6" opacity="0.55"/><path d="M1265.3 2335.2Q1286.2 2286.2 1308.2 2237.8" stroke="#141414" stroke-width="1.6" opacity="0.88"/><path d="M1083.7 2187.0Q1152.9 2195.7 1222.6 2192.6" stroke="#141414" stroke-width="1.2" opacity="0.72"/><path d="M1119.3 2221.2Q1191.0 2205.3 1257.8 2175.0" stroke="#f2f2f2" stroke-width="1.5" opacity="0.73"/><path d="M1295.9 2496.4Q1339.4 2460.7 1395.4 2466.9" stroke="#f2f2f2" stroke-width="0.8" opacity="0.52"/><path d="M1134.6 2392.2Q1191.7 2422.8 1256.4 2421.8" stroke="#141414" stroke-width="1.8" opacity="0.68"/><path d="M1251.6 2138.8Q1274.8 2140.8 1297.5 2135.4" stroke="#141414" stroke-width="1.9" opacity="0.83"/><path d="M1214.2 2489.3Q1309.2 2495.0 1404.1 2487.8" stroke="#f2f2f2" stroke-width="1.2" opacity="0.74"/><path d="M1390.3 2184.0Q1453.9 2178.2 1517.5 2171.8" stroke="#141414" stroke-width="1.1" opacity="0.75"/><path d="M1362.2 2211.1Q1433.1 2227.8 1496.0 2264.5" stroke="#141414" stroke-width="1.2" opacity="0.59"/><path d="M1154.4 2480.5Q1202.6 2495.1 1249.9 2512.2" stroke="#141414" stroke-width="1.2" opacity="0.53"/><path d="M1182.9 2466.7Q1234.9 2420.4 1254.2 2353.4" stroke="#141414" stroke-width="1.5" opacity="0.50"/><path d="M1441.5 2360.4Q1477.1 2347.0 1514.7 2340.5" stroke="#141414" stroke-width="1.9" opacity="0.86"/><path d="M1178.5 2156.5Q1259.6 2129.0 1343.1 2147.5" stroke="#141414" stroke-width="1.7" opacity="0.89"/><path d="M1145.9 2283.9Q1169.5 2326.6 1190.9 2370.5" stroke="#f2f2f2" stroke-width="1.0" opacity="0.81"/><path d="M1202.7 2525.4Q1249.7 2489.4 1279.5 2438.3" stroke="#f2f2f2" stroke-width="1.2" opacity="0.52"/><path d="M1233.2 2255.3Q1294.2 2247.5 1353.9 2232.6" stroke="#141414" stroke-width="1.5" opacity="0.71"/><path d="M1147.0 2401.9Q1170.7 2410.6 1181.1 2433.6" stroke="#141414" stroke-width="1.7" opacity="0.89"/><path d="M1220.2 2102.2Q1281.4 2099.9 1330.2 2136.9" stroke="#141414" stroke-width="1.3" opacity="0.66"/><path d="M1313.5 2307.4Q1376.1 2277.2 1429.8 2232.9" stroke="#141414" stroke-width="1.5" opacity="0.74"/><path d="M1343.0 2460.8Q1430.7 2478.0 1510.2 2436.8" stroke="#f2f2f2" stroke-width="1.6" opacity="0.47"/><path d="M1026.2 2425.8Q1096.9 2362.4 1161.7 2293.1" stroke="#f2f2f2" stroke-width="1.1" opacity="0.76"/><path d="M1369.1 2130.1Q1449.2 2130.7 1527.9 2116.2" stroke="#141414" stroke-width="1.4" opacity="0.81"/><path d="M1051.8 2134.1Q1135.8 2181.6 1222.4 2138.9" stroke="#141414" stroke-width="1.3" opacity="0.56"/><path d="M1156.6 2029.8Q1183.2 2106.3 1190.0 2187.0" stroke="#141414" stroke-width="1.1" opacity="0.71"/><path d="M1315.0 2243.5Q1328.9 2280.7 1357.4 2308.4" stroke="#141414" stroke-width="1.4" opacity="0.71"/><path d="M1393.1 2227.9Q1487.6 2252.4 1579.7 2219.8" stroke="#141414" stroke-width="1.6" opacity="0.47"/><path d="M1234.9 2297.2Q1324.9 2277.8 1409.8 2313.1" stroke="#141414" stroke-width="1.5" opacity="0.73"/><path d="M1290.2 2426.0Q1341.4 2372.3 1415.2 2365.5" stroke="#141414" stroke-width="1.2" opacity="0.71"/><path d="M1352.1 2175.8Q1379.8 2143.7 1399.6 2106.2" stroke="#f2f2f2" stroke-width="1.2" opacity="0.86"/><path d="M1336.3 2198.0Q1421.4 2178.1 1498.7 2218.7" stroke="#141414" stroke-width="0.8" opacity="0.88"/><path d="M1133.7 2578.9Q1118.0 2495.6 1115.6 2410.9" stroke="#141414" stroke-width="1.6" opacity="0.46"/><path d="M1226.6 2312.6Q1287.2 2273.3 1358.9 2263.9" stroke="#f2f2f2" stroke-width="0.8" opacity="0.56"/><path d="M1442.6 2171.8Q1456.0 2192.8 1464.4 2216.2" stroke="#141414" stroke-width="1.8" opacity="0.59"/><path d="M1191.8 2170.6Q1276.8 2152.3 1356.4 2117.1" stroke="#f2f2f2" stroke-width="1.6" opacity="0.64"/><path d="M1330.2 2178.4Q1380.3 2167.8 1429.9 2155.6" stroke="#f2f2f2" stroke-width="0.7" opacity="0.62"/><path d="M1169.5 2497.5Q1250.6 2465.3 1336.8 2479.3" stroke="#f2f2f2" stroke-width="1.1" opacity="0.63"/><path d="M1063.0 2167.6Q1141.5 2129.7 1228.0 2140.3" stroke="#141414" stroke-width="0.7" opacity="0.80"/><path d="M1106.0 2154.6Q1168.5 2145.3 1230.7 2156.3" stroke="#141414" stroke-width="1.7" opacity="0.60"/><path d="M1116.6 2451.3Q1125.9 2469.3 1138.5 2485.2" stroke="#141414" stroke-width="1.5" opacity="0.46"/><path d="M1180.4 2165.4Q1203.0 2173.5 1224.3 2184.5" stroke="#f2f2f2" stroke-width="1.2" opacity="0.50"/><path d="M1269.2 2465.2Q1283.4 2484.3 1288.5 2507.5" stroke="#f2f2f2" stroke-width="0.8" opacity="0.67"/><path d="M1228.9 2325.3Q1233.0 2381.9 1242.0 2438.0" stroke="#141414" stroke-width="0.8" opacity="0.57"/><path d="M1319.2 2284.1Q1335.8 2325.3 1348.2 2368.0" stroke="#141414" stroke-width="0.8" opacity="0.77"/><path d="M1383.2 2303.3Q1410.5 2378.7 1470.8 2431.6" stroke="#141414" stroke-width="1.2" opacity="0.64"/><path d="M1057.3 2273.4Q1105.4 2274.9 1153.2 2280.4" stroke="#f2f2f2" stroke-width="0.8" opacity="0.49"/><path d="M1317.9 2443.6Q1377.7 2427.5 1439.3 2421.2" stroke="#141414" stroke-width="1.1" opacity="0.75"/><path d="M1362.7 2384.0Q1392.8 2452.4 1404.2 2526.3" stroke="#141414" stroke-width="1.0" opacity="0.75"/><path d="M1076.7 2146.4Q1160.7 2122.2 1243.5 2150.2" stroke="#f2f2f2" stroke-width="1.5" opacity="0.89"/><path d="M1348.9 2327.5Q1417.2 2340.0 1475.9 2377.2" stroke="#141414" stroke-width="0.9" opacity="0.77"/><path d="M1179.5 2229.9Q1197.3 2240.2 1212.7 2253.7" stroke="#141414" stroke-width="0.7" opacity="0.79"/><path d="M1110.8 2277.2Q1155.0 2255.5 1201.7 2271.0" stroke="#141414" stroke-width="0.8" opacity="0.47"/><path d="M1061.8 2363.5Q1129.5 2337.6 1201.7 2344.7" stroke="#141414" stroke-width="1.0" opacity="0.79"/><path d="M1074.1 2291.4Q1113.6 2279.4 1152.3 2265.0" stroke="#141414" stroke-width="1.2" opacity="0.72"/><path d="M1078.6 2207.9Q1123.2 2201.1 1167.8 2207.7" stroke="#141414" stroke-width="1.5" opacity="0.68"/><path d="M1404.1 2450.9Q1419.0 2430.3 1433.4 2409.4" stroke="#f2f2f2" stroke-width="1.3" opacity="0.71"/><path d="M1338.0 2278.4Q1368.1 2284.1 1394.3 2268.2" stroke="#141414" stroke-width="1.7" opacity="0.86"/><path d="M1265.5 2321.4Q1315.9 2325.2 1364.3 2310.9" stroke="#141414" stroke-width="1.3" opacity="0.50"/><path d="M1261.8 2428.6Q1298.2 2462.5 1301.1 2512.2" stroke="#141414" stroke-width="0.9" opacity="0.72"/><path d="M1357.0 2382.2Q1387.9 2369.8 1418.4 2356.4" stroke="#141414" stroke-width="1.8" opacity="0.70"/><path d="M1249.9 2352.7Q1334.3 2363.0 1419.4 2360.9" stroke="#141414" stroke-width="1.1" opacity="0.57"/><path d="M1177.7 2104.4Q1265.0 2099.5 1335.8 2150.7" stroke="#141414" stroke-width="1.3" opacity="0.66"/><path d="M1213.7 2414.1Q1303.6 2396.3 1386.9 2434.5" stroke="#141414" stroke-width="1.3" opacity="0.52"/><path d="M1045.8 2152.6Q1091.1 2146.2 1136.5 2140.2" stroke="#141414" stroke-width="1.2" opacity="0.65"/><path d="M1239.6 2176.7Q1287.8 2174.3 1334.1 2160.7" stroke="#141414" stroke-width="1.6" opacity="0.74"/><path d="M1057.4 2163.9Q1083.7 2127.3 1128.4 2121.6" stroke="#141414" stroke-width="1.4" opacity="0.51"/><path d="M1147.6 2525.5Q1203.9 2474.4 1279.3 2465.2" stroke="#141414" stroke-width="1.2" opacity="0.81"/><path d="M1350.3 2431.5Q1395.0 2359.1 1470.0 2318.9" stroke="#141414" stroke-width="1.1" opacity="0.61"/><path d="M1050.4 2189.5Q1141.2 2202.9 1232.5 2192.7" stroke="#141414" stroke-width="1.7" opacity="0.50"/><path d="M1307.6 2458.5Q1398.0 2471.4 1476.9 2425.1" stroke="#141414" stroke-width="1.2" opacity="0.52"/><path d="M1339.0 2432.7Q1419.5 2423.4 1496.8 2399.2" stroke="#141414" stroke-width="1.0" opacity="0.65"/><path d="M1132.8 2414.7Q1189.1 2428.4 1239.0 2399.0" stroke="#141414" stroke-width="1.7" opacity="0.62"/><path d="M1413.5 2512.9Q1469.2 2512.8 1520.6 2491.3" stroke="#f2f2f2" stroke-width="1.5" opacity="0.81"/><path d="M1074.7 2252.9Q1121.9 2203.7 1172.6 2158.2" stroke="#f2f2f2" stroke-width="1.0" opacity="0.79"/><path d="M1150.0 2465.6Q1181.0 2468.4 1211.4 2474.7" stroke="#141414" stroke-width="1.1" opacity="0.46"/><path d="M1486.0 2233.9Q1493.7 2255.6 1488.4 2278.1" stroke="#f2f2f2" stroke-width="0.8" opacity="0.58"/><path d="M1386.8 2386.3Q1417.2 2385.9 1447.6 2385.0" stroke="#141414" stroke-width="1.0" opacity="0.83"/><path d="M1238.4 2400.9Q1298.4 2410.0 1357.4 2395.6" stroke="#141414" stroke-width="1.2" opacity="0.81"/><path d="M1174.1 2126.5Q1258.3 2151.9 1343.8 2172.2" stroke="#141414" stroke-width="0.9" opacity="0.64"/><path d="M1281.3 2176.6Q1317.6 2216.6 1370.6 2226.9" stroke="#141414" stroke-width="1.3" opacity="0.68"/><path d="M1439.3 2347.9Q1474.6 2305.3 1529.8 2308.8" stroke="#141414" stroke-width="0.7" opacity="0.80"/><path d="M1168.3 2349.0Q1222.4 2391.3 1254.3 2452.1" stroke="#141414" stroke-width="1.7" opacity="0.53"/><path d="M1323.6 2290.1Q1395.9 2286.4 1467.8 2294.4" stroke="#f2f2f2" stroke-width="1.2" opacity="0.58"/><path d="M1367.0 2313.4Q1461.5 2350.5 1555.4 2312.0" stroke="#141414" stroke-width="1.1" opacity="0.80"/><path d="M1404.3 2230.6Q1434.6 2231.5 1460.7 2246.7" stroke="#f2f2f2" stroke-width="1.1" opacity="0.89"/><path d="M1186.8 2295.5Q1279.3 2272.9 1364.4 2315.5" stroke="#141414" stroke-width="1.4" opacity="0.82"/><path d="M1270.6 2237.0Q1297.3 2242.2 1322.4 2231.6" stroke="#141414" stroke-width="1.5" opacity="0.61"/><path d="M1490.5 2122.0Q1474.2 2215.2 1486.9 2308.9" stroke="#141414" stroke-width="1.7" opacity="0.76"/><path d="M1434.5 2217.8Q1470.5 2162.9 1504.4 2106.8" stroke="#141414" stroke-width="1.2" opacity="0.71"/><path d="M1230.7 2376.7Q1322.5 2350.3 1413.0 2381.0" stroke="#141414" stroke-width="1.2" opacity="0.74"/><path d="M1097.4 2166.4Q1174.1 2165.2 1244.3 2134.4" stroke="#141414" stroke-width="1.0" opacity="0.65"/><path d="M1403.4 2192.9Q1479.1 2247.6 1572.5 2246.9" stroke="#141414" stroke-width="1.8" opacity="0.65"/><path d="M1059.6 2369.0Q1100.9 2385.0 1144.8 2390.9" stroke="#f2f2f2" stroke-width="1.6" opacity="0.77"/><path d="M1379.6 2353.6Q1457.7 2370.9 1537.7 2370.6" stroke="#141414" stroke-width="1.6" opacity="0.46"/><path d="M1220.1 2259.3Q1299.8 2248.3 1380.2 2247.9" stroke="#141414" stroke-width="1.9" opacity="0.77"/><path d="M1210.3 2390.2Q1289.6 2410.6 1365.9 2440.2" stroke="#141414" stroke-width="1.5" opacity="0.61"/><path d="M1371.5 2404.2Q1438.5 2416.1 1503.9 2435.1" stroke="#f2f2f2" stroke-width="0.8" opacity="0.51"/><path d="M1087.6 2184.0Q1135.9 2191.0 1172.1 2158.2" stroke="#f2f2f2" stroke-width="1.5" opacity="0.56"/><path d="M1306.1 2334.4Q1334.1 2325.3 1363.0 2319.6" stroke="#141414" stroke-width="1.8" opacity="0.52"/><path d="M1284.0 2371.1Q1348.9 2385.0 1405.2 2420.1" stroke="#141414" stroke-width="1.5" opacity="0.71"/><path d="M1292.6 2429.9Q1341.4 2414.5 1390.2 2398.7" stroke="#141414" stroke-width="1.8" opacity="0.67"/><path d="M1365.3 2372.0Q1405.7 2385.1 1447.9 2390.4" stroke="#141414" stroke-width="0.9" opacity="0.72"/><path d="M1160.7 2329.3Q1198.9 2394.0 1234.5 2460.0" stroke="#141414" stroke-width="1.1" opacity="0.66"/><path d="M1151.9 2210.8Q1179.8 2210.6 1205.0 2198.6" stroke="#141414" stroke-width="1.7" opacity="0.52"/><path d="M1166.6 2315.6Q1203.9 2338.0 1241.2 2360.2" stroke="#141414" stroke-width="0.7" opacity="0.88"/><path d="M1244.4 2486.2Q1278.7 2498.0 1314.6 2503.7" stroke="#f2f2f2" stroke-width="1.4" opacity="0.66"/><path d="M1257.4 2408.1Q1308.3 2432.4 1328.2 2485.2" stroke="#141414" stroke-width="1.4" opacity="0.54"/><path d="M1256.8 2173.0Q1327.2 2164.8 1342.8 2095.6" stroke="#141414" stroke-width="1.9" opacity="0.63"/><path d="M1354.5 2318.2Q1423.3 2254.5 1450.3 2164.8" stroke="#141414" stroke-width="0.9" opacity="0.60"/><path d="M1201.2 2298.4Q1268.8 2308.0 1330.9 2279.8" stroke="#141414" stroke-width="1.9" opacity="0.78"/><path d="M1109.9 2244.3Q1191.2 2224.4 1274.0 2236.5" stroke="#f2f2f2" stroke-width="1.1" opacity="0.75"/><path d="M1429.8 2279.2Q1484.1 2337.7 1532.2 2401.4" stroke="#f2f2f2" stroke-width="1.5" opacity="0.80"/><path d="M1247.8 2409.2Q1306.9 2380.8 1372.5 2382.6" stroke="#f2f2f2" stroke-width="0.8" opacity="0.76"/><path d="M1358.1 2192.2Q1380.0 2270.3 1358.1 2348.4" stroke="#141414" stroke-width="0.9" opacity="0.54"/><path d="M1145.0 2358.7Q1196.7 2399.2 1260.8 2385.3" stroke="#141414" stroke-width="1.1" opacity="0.80"/><path d="M1299.1 2360.1Q1370.3 2376.5 1442.9 2368.6" stroke="#141414" stroke-width="1.0" opacity="0.89"/><path d="M1155.8 2224.3Q1191.9 2228.5 1226.7 2218.3" stroke="#f2f2f2" stroke-width="1.5" opacity="0.57"/><path d="M1115.9 2329.3Q1142.9 2377.4 1117.4 2426.3" stroke="#f2f2f2" stroke-width="1.0" opacity="0.58"/><path d="M1315.5 2252.2Q1368.3 2245.6 1420.7 2236.7" stroke="#141414" stroke-width="1.8" opacity="0.76"/><path d="M1059.7 2361.6Q1121.0 2336.8 1186.7 2344.9" stroke="#141414" stroke-width="0.8" opacity="0.64"/><path d="M1300.5 2181.2Q1363.3 2133.4 1438.5 2109.2" stroke="#141414" stroke-width="1.8" opacity="0.85"/><path d="M1179.2 2211.7Q1256.6 2148.4 1356.0 2158.5" stroke="#141414" stroke-width="1.4" opacity="0.69"/><path d="M1283.9 2473.9Q1372.8 2474.0 1460.0 2491.8" stroke="#f2f2f2" stroke-width="1.7" opacity="0.63"/><path d="M1260.9 2391.8Q1277.3 2482.5 1289.6 2573.8" stroke="#141414" stroke-width="0.8" opacity="0.89"/><path d="M1129.7 2480.5Q1189.9 2494.1 1241.7 2527.5" stroke="#141414" stroke-width="0.9" opacity="0.50"/><path d="M1094.6 2291.2Q1133.4 2273.3 1173.2 2288.6" stroke="#141414" stroke-width="1.6" opacity="0.53"/><path d="M1349.6 2444.2Q1424.2 2481.4 1507.3 2489.5" stroke="#141414" stroke-width="0.9" opacity="0.60"/><path d="M1154.6 2244.2Q1168.2 2209.0 1185.8 2175.6" stroke="#141414" stroke-width="1.5" opacity="0.76"/><path d="M1150.0 2311.1Q1237.4 2317.2 1324.1 2303.9" stroke="#f2f2f2" stroke-width="1.0" opacity="0.73"/><path d="M1133.0 2177.7Q1155.0 2154.7 1182.9 2139.4" stroke="#141414" stroke-width="1.3" opacity="0.75"/><path d="M1128.8 2275.5Q1166.8 2208.2 1186.5 2133.6" stroke="#141414" stroke-width="1.4" opacity="0.48"/><path d="M1235.0 2316.6Q1299.5 2324.7 1359.9 2300.8" stroke="#141414" stroke-width="0.9" opacity="0.71"/><path d="M1049.7 2314.6Q1103.6 2311.9 1157.4 2306.7" stroke="#141414" stroke-width="1.7" opacity="0.78"/><path d="M1158.5 2419.6Q1232.1 2438.9 1307.5 2448.9" stroke="#141414" stroke-width="1.9" opacity="0.87"/><path d="M1218.1 2340.4Q1253.4 2411.1 1258.9 2489.8" stroke="#f2f2f2" stroke-width="1.1" opacity="0.84"/><path d="M1382.1 2278.0Q1448.1 2250.5 1517.7 2234.5" stroke="#141414" stroke-width="0.9" opacity="0.69"/><path d="M1253.4 2391.8Q1289.3 2399.5 1325.5 2405.2" stroke="#141414" stroke-width="1.4" opacity="0.69"/><path d="M1371.0 2189.8Q1416.7 2198.1 1458.0 2219.3" stroke="#141414" stroke-width="1.7" opacity="0.64"/><path d="M1369.0 2460.5Q1390.1 2462.2 1411.3 2462.4" stroke="#141414" stroke-width="1.5" opacity="0.47"/><path d="M1341.8 2265.2Q1379.4 2264.7 1416.9 2268.9" stroke="#141414" stroke-width="1.0" opacity="0.82"/><path d="M1310.9 2238.6Q1376.5 2245.2 1440.1 2228.2" stroke="#141414" stroke-width="1.5" opacity="0.55"/><path d="M1164.4 2042.5Q1207.9 2124.2 1220.6 2215.9" stroke="#141414" stroke-width="1.9" opacity="0.87"/><path d="M1306.4 2416.4Q1348.9 2430.1 1393.5 2427.4" stroke="#f2f2f2" stroke-width="1.2" opacity="0.83"/><path d="M1151.6 2321.1Q1209.2 2380.5 1233.5 2459.5" stroke="#141414" stroke-width="0.9" opacity="0.56"/><path d="M1127.6 2279.8Q1133.0 2370.7 1174.9 2451.7" stroke="#141414" stroke-width="1.5" opacity="0.72"/><path d="M1371.3 2222.9Q1431.6 2174.2 1500.3 2138.3" stroke="#141414" stroke-width="1.8" opacity="0.46"/><path d="M1454.8 2465.4Q1462.2 2493.3 1470.8 2520.8" stroke="#141414" stroke-width="0.9" opacity="0.86"/><path d="M1251.0 2423.0Q1300.1 2424.7 1347.6 2412.5" stroke="#141414" stroke-width="1.3" opacity="0.49"/><path d="M1458.8 2214.4Q1467.2 2298.3 1504.3 2374.0" stroke="#141414" stroke-width="1.0" opacity="0.52"/><path d="M1112.6 2474.9Q1174.4 2493.1 1238.7 2489.2" stroke="#141414" stroke-width="1.7" opacity="0.67"/><path d="M1333.1 2343.1Q1345.6 2380.4 1352.6 2419.2" stroke="#141414" stroke-width="1.7" opacity="0.53"/><path d="M1282.1 2306.1Q1370.5 2296.0 1459.4 2297.5" stroke="#141414" stroke-width="1.7" opacity="0.88"/><path d="M1319.2 2371.7Q1333.1 2424.2 1378.1 2454.8" stroke="#141414" stroke-width="1.1" opacity="0.73"/><path d="M1293.9 2338.1Q1347.8 2354.2 1402.1 2369.0" stroke="#141414" stroke-width="1.3" opacity="0.57"/><path d="M1400.1 2098.1Q1486.6 2072.1 1559.8 2125.0" stroke="#141414" stroke-width="0.8" opacity="0.52"/><path d="M1066.4 2330.9Q1148.3 2328.4 1226.4 2303.5" stroke="#141414" stroke-width="1.4" opacity="0.90"/><path d="M1079.5 2361.5Q1166.9 2355.2 1242.1 2400.2" stroke="#141414" stroke-width="1.2" opacity="0.70"/><path d="M1198.5 2274.9Q1277.5 2273.2 1355.8 2284.7" stroke="#141414" stroke-width="0.8" opacity="0.55"/><path d="M1383.3 2438.9Q1427.6 2475.4 1483.7 2487.1" stroke="#f2f2f2" stroke-width="1.3" opacity="0.46"/><path d="M1367.1 2231.1Q1459.4 2196.7 1551.4 2232.0" stroke="#141414" stroke-width="0.8" opacity="0.52"/><path d="M1127.9 2411.8Q1156.5 2455.3 1206.1 2471.5" stroke="#f2f2f2" stroke-width="1.4" opacity="0.68"/><path d="M1435.7 2157.1Q1489.3 2141.1 1521.5 2095.5" stroke="#141414" stroke-width="1.6" opacity="0.46"/><path d="M1125.5 2493.1Q1182.1 2500.3 1236.4 2517.7" stroke="#141414" stroke-width="1.5" opacity="0.49"/><path d="M1255.5 2412.5Q1323.1 2449.3 1399.6 2441.2" stroke="#141414" stroke-width="1.6" opacity="0.59"/><path d="M1067.0 2107.3Q1110.2 2112.2 1153.3 2106.1" stroke="#141414" stroke-width="1.2" opacity="0.70"/><path d="M1192.2 2122.6Q1237.3 2109.6 1284.1 2107.8" stroke="#141414" stroke-width="1.1" opacity="0.62"/><path d="M1008.0 2458.8Q1098.9 2487.6 1193.7 2478.2" stroke="#141414" stroke-width="1.1" opacity="0.67"/><path d="M1232.5 2143.7Q1268.7 2127.0 1308.5 2127.6" stroke="#141414" stroke-width="0.8" opacity="0.59"/><path d="M1420.0 2285.1Q1476.6 2247.8 1515.5 2192.4" stroke="#f2f2f2" stroke-width="1.7" opacity="0.51"/><path d="M1171.4 2468.3Q1203.7 2483.0 1230.7 2505.9" stroke="#141414" stroke-width="1.5" opacity="0.67"/><path d="M1275.3 2236.5Q1311.9 2205.0 1343.5 2168.4" stroke="#141414" stroke-width="1.4" opacity="0.76"/><path d="M1244.6 2498.6Q1299.2 2493.5 1352.3 2480.2" stroke="#141414" stroke-width="1.7" opacity="0.81"/><path d="M1172.3 2318.9Q1234.6 2285.0 1304.9 2293.5" stroke="#f2f2f2" stroke-width="0.8" opacity="0.90"/><path d="M1254.7 2210.1Q1284.2 2262.6 1282.1 2322.8" stroke="#f2f2f2" stroke-width="1.1" opacity="0.85"/><path d="M1273.5 2380.2Q1289.5 2358.7 1312.2 2344.4" stroke="#141414" stroke-width="1.9" opacity="0.75"/><path d="M1143.5 2392.9Q1234.4 2409.7 1325.7 2424.2" stroke="#141414" stroke-width="1.3" opacity="0.71"/><path d="M1268.4 2256.8Q1313.3 2278.5 1349.9 2312.5" stroke="#141414" stroke-width="0.8" opacity="0.64"/><path d="M1383.1 2159.8Q1475.3 2173.5 1563.4 2143.2" stroke="#141414" stroke-width="1.3" opacity="0.66"/><path d="M1207.1 2384.2Q1251.1 2381.1 1294.8 2387.7" stroke="#f2f2f2" stroke-width="1.3" opacity="0.75"/><path d="M1096.8 2496.1Q1133.2 2511.7 1172.5 2507.7" stroke="#f2f2f2" stroke-width="0.9" opacity="0.63"/><path d="M1091.1 2369.0Q1142.6 2357.8 1195.3 2357.5" stroke="#141414" stroke-width="1.2" opacity="0.77"/><path d="M1076.7 2380.1Q1144.1 2430.3 1227.8 2436.6" stroke="#141414" stroke-width="1.1" opacity="0.66"/><path d="M1118.5 2467.6Q1173.5 2442.0 1234.1 2438.3" stroke="#141414" stroke-width="1.1" opacity="0.83"/><path d="M1254.3 2438.3Q1326.7 2428.3 1399.8 2428.1" stroke="#141414" stroke-width="0.8" opacity="0.59"/><path d="M1084.9 2376.5Q1141.2 2395.0 1200.4 2392.8" stroke="#141414" stroke-width="1.5" opacity="0.76"/><path d="M1277.7 2500.9Q1337.7 2518.2 1400.0 2515.8" stroke="#141414" stroke-width="0.8" opacity="0.61"/><path d="M981.8 2190.0Q1069.3 2160.7 1156.2 2129.5" stroke="#141414" stroke-width="1.7" opacity="0.67"/><path d="M1058.4 2122.5Q1099.8 2115.6 1141.6 2111.6" stroke="#141414" stroke-width="1.6" opacity="0.79"/><path d="M1283.5 2174.8Q1293.3 2147.3 1313.1 2125.9" stroke="#141414" stroke-width="1.6" opacity="0.70"/><path d="M1415.6 2102.1Q1446.8 2206.9 1554.8 2189.8" stroke="#141414" stroke-width="1.7" opacity="0.65"/><path d="M1457.2 2441.0Q1484.2 2414.3 1516.7 2394.6" stroke="#141414" stroke-width="0.9" opacity="0.51"/><path d="M1128.2 2189.5Q1153.0 2195.3 1177.0 2186.9" stroke="#141414" stroke-width="1.5" opacity="0.58"/><path d="M1094.5 2408.8Q1163.8 2480.2 1262.3 2493.3" stroke="#f2f2f2" stroke-width="1.6" opacity="0.90"/><path d="M1348.5 2164.3Q1429.4 2118.9 1517.6 2147.4" stroke="#f2f2f2" stroke-width="1.4" opacity="0.67"/><path d="M1261.3 2228.3Q1304.5 2195.2 1358.8 2197.9" stroke="#141414" stroke-width="1.3" opacity="0.58"/><path d="M1377.7 2219.8Q1462.3 2254.2 1547.2 2287.4" stroke="#141414" stroke-width="1.6" opacity="0.66"/><path d="M1322.2 2248.1Q1346.6 2255.4 1371.6 2250.4" stroke="#141414" stroke-width="1.0" opacity="0.82"/><path d="M1146.9 2349.5Q1211.8 2356.5 1269.7 2326.5" stroke="#141414" stroke-width="0.8" opacity="0.80"/><path d="M1188.3 2110.4Q1259.9 2155.0 1331.7 2199.1" stroke="#141414" stroke-width="1.5" opacity="0.51"/><path d="M1251.3 2177.3Q1339.6 2155.3 1430.4 2160.3" stroke="#141414" stroke-width="1.8" opacity="0.52"/><path d="M1162.1 2241.8Q1228.9 2205.9 1304.3 2214.1" stroke="#141414" stroke-width="1.3" opacity="0.51"/><path d="M1141.0 2373.7Q1164.5 2366.2 1180.9 2384.7" stroke="#141414" stroke-width="0.9" opacity="0.48"/><path d="M1200.0 2397.3Q1227.8 2397.2 1255.1 2402.1" stroke="#f2f2f2" stroke-width="1.5" opacity="0.51"/><path d="M1427.3 2170.6Q1484.8 2149.9 1545.7 2154.0" stroke="#141414" stroke-width="1.5" opacity="0.52"/><path d="M1158.9 2357.1Q1233.9 2401.0 1320.5 2406.5" stroke="#141414" stroke-width="1.2" opacity="0.88"/><path d="M1159.3 2172.4Q1197.2 2156.9 1237.6 2149.7" stroke="#141414" stroke-width="1.6" opacity="0.76"/><path d="M1385.1 2385.7Q1424.6 2369.5 1464.7 2355.3" stroke="#141414" stroke-width="0.8" opacity="0.85"/><path d="M1442.5 2310.8Q1469.2 2299.9 1498.0 2298.1" stroke="#f2f2f2" stroke-width="1.7" opacity="0.87"/><path d="M1059.0 2461.7Q1117.4 2429.2 1182.8 2442.7" stroke="#f2f2f2" stroke-width="1.5" opacity="0.46"/><path d="M1282.1 2294.9Q1330.0 2314.3 1381.5 2318.9" stroke="#141414" stroke-width="1.0" opacity="0.59"/><path d="M1203.7 2205.9Q1286.2 2203.5 1360.3 2167.4" stroke="#f2f2f2" stroke-width="1.4" opacity="0.48"/><path d="M1279.8 2382.7Q1359.4 2410.2 1443.4 2416.0" stroke="#141414" stroke-width="1.4" opacity="0.59"/><path d="M1350.9 2404.8Q1379.7 2399.7 1408.8 2402.5" stroke="#f2f2f2" stroke-width="1.2" opacity="0.80"/><path d="M1350.9 2193.7Q1381.7 2182.0 1390.9 2150.3" stroke="#141414" stroke-width="1.7" opacity="0.57"/><path d="M1230.7 2322.7Q1275.0 2342.3 1323.4 2344.3" stroke="#141414" stroke-width="1.0" opacity="0.68"/><path d="M1263.6 2228.0Q1272.6 2258.9 1266.8 2290.5" stroke="#f2f2f2" stroke-width="1.4" opacity="0.64"/><path d="M1128.8 2258.9Q1200.0 2280.6 1274.3 2286.5" stroke="#141414" stroke-width="1.8" opacity="0.53"/><path d="M1316.3 2516.8Q1407.1 2504.7 1496.6 2485.0" stroke="#f2f2f2" stroke-width="1.0" opacity="0.70"/><path d="M1143.0 2376.3Q1194.3 2356.9 1244.9 2335.8" stroke="#141414" stroke-width="1.8" opacity="0.79"/><path d="M1119.7 2119.2Q1173.5 2125.8 1218.3 2095.1" stroke="#f2f2f2" stroke-width="1.7" opacity="0.45"/><path d="M1270.4 2459.3Q1343.6 2445.0 1417.6 2435.6" stroke="#141414" stroke-width="0.8" opacity="0.90"/><path d="M1286.4 2104.4Q1368.8 2138.4 1447.8 2179.9" stroke="#f2f2f2" stroke-width="0.8" opacity="0.49"/><path d="M1099.4 2448.5Q1124.7 2441.2 1143.8 2423.0" stroke="#141414" stroke-width="1.0" opacity="0.59"/><path d="M1329.8 2388.4Q1405.0 2394.6 1480.1 2386.7" stroke="#141414" stroke-width="1.6" opacity="0.71"/><path d="M1084.2 2199.9Q1126.9 2164.5 1177.6 2142.0" stroke="#141414" stroke-width="1.1" opacity="0.57"/><path d="M1069.8 2222.9Q1112.3 2165.3 1161.8 2113.5" stroke="#141414" stroke-width="0.8" opacity="0.56"/><path d="M1145.3 2308.0Q1216.0 2311.7 1286.6 2315.8" stroke="#141414" stroke-width="1.2" opacity="0.79"/><path d="M1097.5 2258.9Q1169.9 2293.7 1244.5 2323.4" stroke="#f2f2f2" stroke-width="0.8" opacity="0.82"/><path d="M1154.6 2360.6Q1223.6 2389.1 1291.3 2357.6" stroke="#141414" stroke-width="0.8" opacity="0.86"/><path d="M1195.6 2090.2Q1249.1 2160.2 1310.7 2223.0" stroke="#141414" stroke-width="1.4" opacity="0.82"/><path d="M1161.4 2114.3Q1232.3 2127.2 1303.8 2118.7" stroke="#141414" stroke-width="1.8" opacity="0.47"/><path d="M1285.8 2207.0Q1327.7 2202.7 1369.8 2200.7" stroke="#141414" stroke-width="0.9" opacity="0.54"/></g>
<path d="M1078 2054L1092 2054L1100 2085L1088 2085Z" fill="#e8e8e8" opacity="0.8" filter="url(#fblur)"/>
</g>
<rect x="1047.3" y="2068" width="209.6" height="42.3" fill="#fff"/>
<text x="1051.5" y="2101.3" font-size="29" fill="#0d0d0d" textLength="198.4" lengthAdjust="spacingAndGlyphs">20 μM αE254Q</text>
<rect x="1412" y="2459.5" width="43.6" height="7.6" fill="#fff"/>
<g clip-path="url(#cf4)">
<rect x="1512" y="2054.6" width="446" height="445.4000000000001" fill="url(#g4a)"/>
<rect x="1512" y="2054.6" width="446" height="445.4000000000001" fill="url(#g4b)"/>
<rect x="1512" y="2054.6" width="446" height="445.4000000000001" fill="url(#g4c)"/>
<path d="M1838.0 2051.0L1854.4 2057.0L1887.3 2066.0L1928.4 2072.3L1958.0 2075.1L1961.3 2075.1L1961.3 2051.0 Z" fill="#050505" filter="url(#b2)"/>
<rect x="1512" y="2054.6" width="446" height="445.4000000000001" filter="url(#fn1)" opacity="0.28" style="mix-blend-mode:overlay"/>
<g fill="none" stroke-linecap="round" stroke-linejoin="round" filter="url(#fblur)"><path d="M1699.6 2054.2Q1755.1 2119.2 1846.2 2196.2" stroke="#151515" stroke-width="1.8" opacity="0.9"/><path d="M1607.8 2163.3L1668.1 2196.2L1709.2 2231.8L1777.7 2294.8" stroke="#151515" stroke-width="2.2" opacity="0.9"/><path d="M1665.4 2193.4Q1687.3 2211.9 1709.2 2233.2" stroke="#f4f4f4" stroke-width="1.2" opacity="0.9"/><path d="M1511.9 2229.1Q1603.7 2214.7 1679.1 2214.0" stroke="#1a1a1a" stroke-width="1.8" opacity="0.85"/><path d="M1511.9 2251.0Q1559.2 2200.3 1603.7 2166.0" stroke="#1a1a1a" stroke-width="1.8" opacity="0.85"/><path d="M1588.6 2201.7L1681.8 2267.4L1764.0 2314.0L1813.3 2355.1" stroke="#151515" stroke-width="2.2" opacity="0.9"/><path d="M1662.6 2263.3Q1711.9 2270.8 1750.3 2281.1" stroke="#1a1a1a" stroke-width="1.6" opacity="0.8"/><path d="M1511.9 2382.5Q1558.5 2338.7 1572.2 2305.8" stroke="#151515" stroke-width="1.8" opacity="0.9"/><path d="M1550.3 2429.1Q1585.9 2338.7 1599.6 2314.0" stroke="#202020" stroke-width="1.8" opacity="0.85"/><path d="M1572.2 2379.8Q1585.9 2341.4 1594.1 2325.0" stroke="#f0f0f0" stroke-width="1.1" opacity="0.85"/><path d="M1785.9 2374.3Q1814.7 2407.2 1859.9 2451.0" stroke="#151515" stroke-width="2.2" opacity="0.9"/><path d="M1813.3 2401.7Q1835.2 2422.2 1857.2 2448.3" stroke="#f4f4f4" stroke-width="1.2" opacity="0.9"/><path d="M1843.5 2314.0Q1847.6 2340.0 1851.7 2360.6" stroke="#1a1a1a" stroke-width="1.8" opacity="0.85"/><path d="M1955.8 2204.4Q1953.1 2238.7 1944.8 2267.4" stroke="#222" stroke-width="1.6" opacity="0.8"/><path d="M1890.0 2414.0Q1943.7 2384.6 1958.0 2368.8" stroke="#222" stroke-width="1.5" opacity="0.8"/><path d="M1670.8 2470.2Q1699.6 2488.1 1722.9 2500.1" stroke="#1a1a1a" stroke-width="1.8" opacity="0.85"/><path d="M1799.6 2098.9Q1829.8 2092.1 1848.9 2090.7" stroke="#2a2a2a" stroke-width="1.2" opacity="0.7"/><path d="M1511.9 2211.3Q1542.1 2209.6 1572.2 2211.3" stroke="#f2f2f2" stroke-width="1.6" opacity="0.9"/><path d="M1517.4 2204.4Q1547.5 2086.6 1544.8 2056.4" stroke="#555" stroke-width="1.0" opacity="0.6"/><path d="M1522.9 2207.1Q1532.5 2167.4 1553.0 2056.4" stroke="#666" stroke-width="0.9" opacity="0.5"/><path d="M1773.6 2067.4Q1790.7 2061.6 1799.6 2057.0" stroke="#2a2a2a" stroke-width="1.3" opacity="0.7"/><path d="M1780.4 2272.9Q1789.3 2253.7 1795.5 2245.5" stroke="#3a3a3a" stroke-width="1.2" opacity="0.6"/><path d="M1873.6 2248.2Q1885.2 2231.8 1894.2 2226.3" stroke="#3a3a3a" stroke-width="1.2" opacity="0.6"/><path d="M1714.7 2382.5Q1735.2 2375.7 1761.3 2368.8" stroke="#444" stroke-width="1.1" opacity="0.6"/><path d="M1843.5 2311.3L1832.5 2286.6" stroke="#555" stroke-width="0.9" opacity="0.5"/><path d="M1701.0 2122.2L1706.5 2144.1" stroke="#444" stroke-width="1.0" opacity="0.6"/><path d="M1922.9 2335.9L1933.9 2363.3" stroke="#444" stroke-width="1.0" opacity="0.6"/><path d="M1901.0 2330.4L1928.4 2325.0" stroke="#555" stroke-width="1.0" opacity="0.5"/><path d="M1722.9 2171.5L1727.0 2185.2" stroke="#444" stroke-width="1.0" opacity="0.6"/><path d="M1854.4 2267.4L1859.9 2286.6" stroke="#555" stroke-width="1.0" opacity="0.5"/></g>
<circle cx="1673.0" cy="2064.1" r="2.4" fill="#dcdcdc" opacity="0.5"/><circle cx="1673.0" cy="2064.1" r="1.5" fill="#101010"/>
<circle cx="1807.8" cy="2074.3" r="2.4" fill="#dcdcdc" opacity="0.5"/><circle cx="1807.8" cy="2074.3" r="1.5" fill="#101010"/>
<circle cx="1918.3" cy="2078.4" r="2.4" fill="#dcdcdc" opacity="0.5"/><circle cx="1918.3" cy="2078.4" r="1.5" fill="#101010"/>
<circle cx="1812.8" cy="2108.5" r="2.4" fill="#dcdcdc" opacity="0.5"/><circle cx="1812.8" cy="2108.5" r="1.5" fill="#101010"/>
<circle cx="1679.9" cy="2118.1" r="2.4" fill="#dcdcdc" opacity="0.5"/><circle cx="1679.9" cy="2118.1" r="1.5" fill="#101010"/>
<circle cx="1711.4" cy="2114.5" r="2.4" fill="#dcdcdc" opacity="0.5"/><circle cx="1711.4" cy="2114.5" r="1.5" fill="#101010"/>
<circle cx="1544.3" cy="2135.9" r="2.4" fill="#dcdcdc" opacity="0.5"/><circle cx="1544.3" cy="2135.9" r="1.5" fill="#101010"/>
<circle cx="1721.0" cy="2135.9" r="2.4" fill="#dcdcdc" opacity="0.5"/><circle cx="1721.0" cy="2135.9" r="1.5" fill="#101010"/>
<circle cx="1753.0" cy="2137.8" r="2.4" fill="#dcdcdc" opacity="0.5"/><circle cx="1753.0" cy="2137.8" r="1.5" fill="#101010"/>
<circle cx="1810.0" cy="2125.8" r="2.4" fill="#dcdcdc" opacity="0.5"/><circle cx="1810.0" cy="2125.8" r="1.5" fill="#101010"/>
<circle cx="1842.9" cy="2130.4" r="2.4" fill="#dcdcdc" opacity="0.5"/><circle cx="1842.9" cy="2130.4" r="1.5" fill="#101010"/>
<circle cx="1879.1" cy="2135.9" r="2.4" fill="#dcdcdc" opacity="0.5"/><circle cx="1879.1" cy="2135.9" r="1.5" fill="#101010"/>
<circle cx="1673.0" cy="2144.7" r="2.4" fill="#dcdcdc" opacity="0.5"/><circle cx="1673.0" cy="2144.7" r="1.5" fill="#101010"/>
<circle cx="1900.2" cy="2159.7" r="2.4" fill="#dcdcdc" opacity="0.5"/><circle cx="1900.2" cy="2159.7" r="1.5" fill="#101010"/>
<circle cx="1875.8" cy="2170.2" r="2.4" fill="#dcdcdc" opacity="0.5"/><circle cx="1875.8" cy="2170.2" r="1.5" fill="#101010"/>
<circle cx="1570.8" cy="2190.7" r="2.4" fill="#dcdcdc" opacity="0.5"/><circle cx="1570.8" cy="2190.7" r="1.5" fill="#101010"/>
<circle cx="1736.1" cy="2203.6" r="2.4" fill="#dcdcdc" opacity="0.5"/><circle cx="1736.1" cy="2203.6" r="1.5" fill="#101010"/>
<circle cx="1909.8" cy="2203.0" r="2.4" fill="#dcdcdc" opacity="0.5"/><circle cx="1909.8" cy="2203.0" r="1.5" fill="#101010"/>
<circle cx="1947.0" cy="2200.3" r="2.4" fill="#dcdcdc" opacity="0.5"/><circle cx="1947.0" cy="2200.3" r="1.5" fill="#101010"/>
<circle cx="1610.6" cy="2222.2" r="2.4" fill="#dcdcdc" opacity="0.5"/><circle cx="1610.6" cy="2222.2" r="1.5" fill="#101010"/>
<circle cx="1831.1" cy="2233.2" r="2.4" fill="#dcdcdc" opacity="0.5"/><circle cx="1831.1" cy="2233.2" r="1.5" fill="#101010"/>
<circle cx="1556.6" cy="2247.4" r="2.4" fill="#dcdcdc" opacity="0.5"/><circle cx="1556.6" cy="2247.4" r="1.5" fill="#101010"/>
<circle cx="1593.3" cy="2261.9" r="2.4" fill="#dcdcdc" opacity="0.5"/><circle cx="1593.3" cy="2261.9" r="1.5" fill="#101010"/>
<circle cx="1723.5" cy="2250.4" r="2.4" fill="#dcdcdc" opacity="0.5"/><circle cx="1723.5" cy="2250.4" r="1.5" fill="#101010"/>
<circle cx="1572.2" cy="2280.6" r="2.4" fill="#dcdcdc" opacity="0.5"/><circle cx="1572.2" cy="2280.6" r="1.5" fill="#101010"/>
<circle cx="1645.6" cy="2295.6" r="2.4" fill="#dcdcdc" opacity="0.5"/><circle cx="1645.6" cy="2295.6" r="1.5" fill="#101010"/>
<circle cx="1917.4" cy="2297.0" r="2.4" fill="#dcdcdc" opacity="0.5"/><circle cx="1917.4" cy="2297.0" r="1.5" fill="#101010"/>
<circle cx="1577.7" cy="2320.0" r="2.4" fill="#dcdcdc" opacity="0.5"/><circle cx="1577.7" cy="2320.0" r="1.5" fill="#101010"/>
<circle cx="1644.0" cy="2316.7" r="2.4" fill="#dcdcdc" opacity="0.5"/><circle cx="1644.0" cy="2316.7" r="1.5" fill="#101010"/>
<circle cx="1711.9" cy="2328.3" r="2.4" fill="#dcdcdc" opacity="0.5"/><circle cx="1711.9" cy="2328.3" r="1.5" fill="#101010"/>
<circle cx="1728.4" cy="2335.4" r="2.4" fill="#dcdcdc" opacity="0.5"/><circle cx="1728.4" cy="2335.4" r="1.5" fill="#101010"/>
<circle cx="1799.1" cy="2335.4" r="2.4" fill="#dcdcdc" opacity="0.5"/><circle cx="1799.1" cy="2335.4" r="1.5" fill="#101010"/>
<circle cx="1590.8" cy="2351.0" r="2.4" fill="#dcdcdc" opacity="0.5"/><circle cx="1590.8" cy="2351.0" r="1.5" fill="#101010"/>
<circle cx="1851.1" cy="2361.1" r="2.4" fill="#dcdcdc" opacity="0.5"/><circle cx="1851.1" cy="2361.1" r="1.5" fill="#101010"/>
<circle cx="1838.5" cy="2373.7" r="2.4" fill="#dcdcdc" opacity="0.5"/><circle cx="1838.5" cy="2373.7" r="1.5" fill="#101010"/>
<circle cx="1649.7" cy="2382.5" r="2.4" fill="#dcdcdc" opacity="0.5"/><circle cx="1649.7" cy="2382.5" r="1.5" fill="#101010"/>
<circle cx="1910.6" cy="2413.2" r="2.4" fill="#dcdcdc" opacity="0.5"/><circle cx="1910.6" cy="2413.2" r="1.5" fill="#101010"/>
<circle cx="1688.1" cy="2431.8" r="2.4" fill="#dcdcdc" opacity="0.5"/><circle cx="1688.1" cy="2431.8" r="1.5" fill="#101010"/>
<circle cx="1758.5" cy="2429.1" r="2.4" fill="#dcdcdc" opacity="0.5"/><circle cx="1758.5" cy="2429.1" r="1.5" fill="#101010"/>
<circle cx="1661.3" cy="2450.2" r="2.4" fill="#dcdcdc" opacity="0.5"/><circle cx="1661.3" cy="2450.2" r="1.5" fill="#101010"/>
<circle cx="1747.6" cy="2487.2" r="2.4" fill="#dcdcdc" opacity="0.5"/><circle cx="1747.6" cy="2487.2" r="1.5" fill="#101010"/>
<circle cx="1606.5" cy="2492.1" r="2.4" fill="#dcdcdc" opacity="0.5"/><circle cx="1606.5" cy="2492.1" r="1.5" fill="#101010"/>
<circle cx="1934.4" cy="2479.0" r="2.4" fill="#dcdcdc" opacity="0.5"/><circle cx="1934.4" cy="2479.0" r="1.5" fill="#101010"/>
<circle cx="1867.6" cy="2492.1" r="2.4" fill="#dcdcdc" opacity="0.5"/><circle cx="1867.6" cy="2492.1" r="1.5" fill="#101010"/>
<circle cx="1764.0" cy="2364.7" r="2.4" fill="#dcdcdc" opacity="0.5"/><circle cx="1764.0" cy="2364.7" r="1.5" fill="#101010"/>
<circle cx="1827.0" cy="2341.4" r="2.4" fill="#dcdcdc" opacity="0.5"/><circle cx="1827.0" cy="2341.4" r="1.5" fill="#101010"/>
<circle cx="1673.6" cy="2308.0" r="3.8" fill="#f6f6f6"/><circle cx="1673.6" cy="2308.0" r="1.2" fill="#555"/>
<circle cx="1913.9" cy="2447.4" r="2.6" fill="#f6f6f6"/>
</g>
<rect x="1523.4" y="2070" width="188" height="40.7" fill="#fff"/>
<text x="1527.0" y="2101.6" font-size="29" fill="#0d0d0d" textLength="180.3" lengthAdjust="spacingAndGlyphs">2 μM αE254A</text>
<rect x="1870.3" y="2459.2" width="43.6" height="7.6" fill="#fff"/>
</g>
</svg></body></html>
